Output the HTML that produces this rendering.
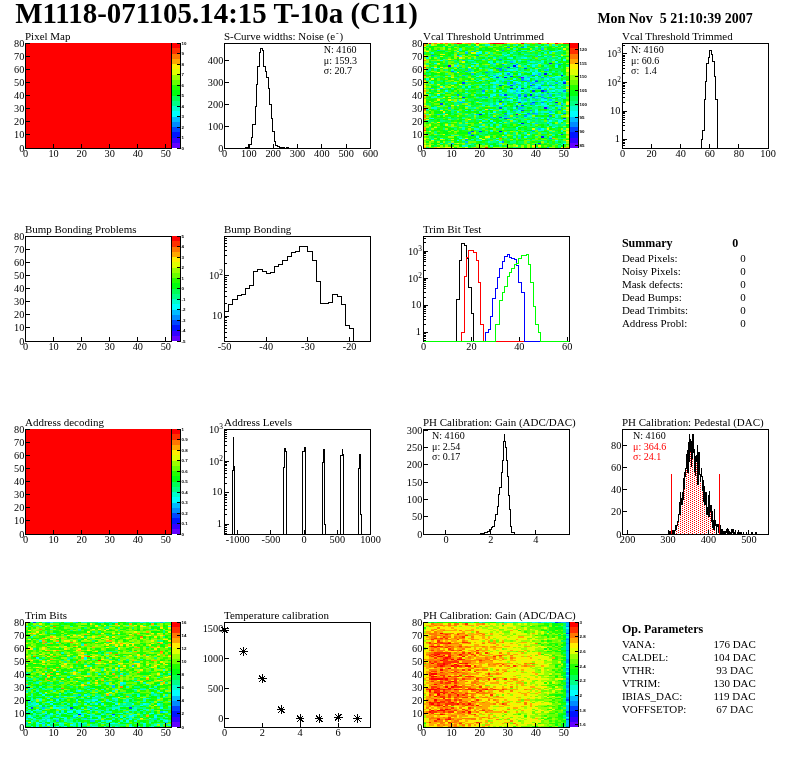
<!DOCTYPE html>
<html lang="en"><head><meta charset="utf-8"><title>M1118-071105.14:15 T-10a (C11)</title>
<style>html,body{margin:0;padding:0;background:#fff}body{width:796px;height:772px;overflow:hidden}svg{display:block}text{font-family:"Liberation Serif", "DejaVu Serif", serif;fill:#000;white-space:pre}</style>
</head><body>
<svg width="796" height="772" viewBox="0 0 796 772" fill="none" shape-rendering="crispEdges">
<rect width="796" height="772" fill="#fff"/>
<g transform="translate(25 148) scale(2.80769 -1.31250)" shape-rendering="crispEdges" stroke="none">
<rect x="0" y="0" width="52" height="80" fill="#ff0000"/>
</g>
<g shape-rendering="crispEdges" stroke="none">
<rect x="172" y="142.75" width="8.5" height="5.3" fill="#6300ff"/>
<rect x="172" y="137.5" width="8.5" height="5.3" fill="#3300ff"/>
<rect x="172" y="132.25" width="8.5" height="5.3" fill="#0014ff"/>
<rect x="172" y="127" width="8.5" height="5.3" fill="#0044ff"/>
<rect x="172" y="121.75" width="8.5" height="5.3" fill="#008bff"/>
<rect x="172" y="116.5" width="8.5" height="5.3" fill="#00bbff"/>
<rect x="172" y="111.25" width="8.5" height="5.3" fill="#00fffc"/>
<rect x="172" y="106" width="8.5" height="5.3" fill="#00ffcc"/>
<rect x="172" y="100.75" width="8.5" height="5.3" fill="#00ff85"/>
<rect x="172" y="95.5" width="8.5" height="5.3" fill="#00ff55"/>
<rect x="172" y="90.25" width="8.5" height="5.3" fill="#00ff0e"/>
<rect x="172" y="85" width="8.5" height="5.3" fill="#22ff00"/>
<rect x="172" y="79.75" width="8.5" height="5.3" fill="#69ff00"/>
<rect x="172" y="74.5" width="8.5" height="5.3" fill="#99ff00"/>
<rect x="172" y="69.25" width="8.5" height="5.3" fill="#e0ff00"/>
<rect x="172" y="64" width="8.5" height="5.3" fill="#ffee00"/>
<rect x="172" y="58.75" width="8.5" height="5.3" fill="#ffa700"/>
<rect x="172" y="53.5" width="8.5" height="5.3" fill="#ff7700"/>
<rect x="172" y="48.25" width="8.5" height="5.3" fill="#ff3000"/>
<rect x="172" y="43" width="8.5" height="5.3" fill="#ff0000"/>
</g>
<text x="181.5" y="149.6" font-size="4.4" font-weight="bold" style="font-family:&quot;Liberation Sans&quot;,sans-serif">0</text>
<text x="181.5" y="139.1" font-size="4.4" font-weight="bold" style="font-family:&quot;Liberation Sans&quot;,sans-serif">1</text>
<text x="181.5" y="128.6" font-size="4.4" font-weight="bold" style="font-family:&quot;Liberation Sans&quot;,sans-serif">2</text>
<text x="181.5" y="118.1" font-size="4.4" font-weight="bold" style="font-family:&quot;Liberation Sans&quot;,sans-serif">3</text>
<text x="181.5" y="107.6" font-size="4.4" font-weight="bold" style="font-family:&quot;Liberation Sans&quot;,sans-serif">4</text>
<text x="181.5" y="97.1" font-size="4.4" font-weight="bold" style="font-family:&quot;Liberation Sans&quot;,sans-serif">5</text>
<text x="181.5" y="86.6" font-size="4.4" font-weight="bold" style="font-family:&quot;Liberation Sans&quot;,sans-serif">6</text>
<text x="181.5" y="76.1" font-size="4.4" font-weight="bold" style="font-family:&quot;Liberation Sans&quot;,sans-serif">7</text>
<text x="181.5" y="65.6" font-size="4.4" font-weight="bold" style="font-family:&quot;Liberation Sans&quot;,sans-serif">8</text>
<text x="181.5" y="55.1" font-size="4.4" font-weight="bold" style="font-family:&quot;Liberation Sans&quot;,sans-serif">9</text>
<text x="181.5" y="44.6" font-size="4.4" font-weight="bold" style="font-family:&quot;Liberation Sans&quot;,sans-serif">10</text>
<path d="M180.5 43V148M180.5 148h-4M180.5 137.5h-4M180.5 127h-4M180.5 116.5h-4M180.5 106h-4M180.5 95.5h-4M180.5 85h-4M180.5 74.5h-4M180.5 64h-4M180.5 53.5h-4M180.5 43h-4" stroke="#000" stroke-width="1" fill="none"/>
<path d="M25.5 43V148.5H171.5V43" stroke="#000" stroke-width="1" fill="none"/>
<path d="M25.5 148.5v-4.5M53.58 148.5v-4.5M81.65 148.5v-4.5M109.73 148.5v-4.5M137.81 148.5v-4.5M165.88 148.5v-4.5" stroke="#000" stroke-width="1" fill="none"/>
<text x="25.5" y="157.1" font-size="10.3" text-anchor="middle">0</text>
<text x="53.58" y="157.1" font-size="10.3" text-anchor="middle">10</text>
<text x="81.65" y="157.1" font-size="10.3" text-anchor="middle">20</text>
<text x="109.73" y="157.1" font-size="10.3" text-anchor="middle">30</text>
<text x="137.81" y="157.1" font-size="10.3" text-anchor="middle">40</text>
<text x="165.88" y="157.1" font-size="10.3" text-anchor="middle">50</text>
<path d="M25.5 148.5h4.5M25.5 134.5h4.5M25.5 121.5h4.5M25.5 108.5h4.5M25.5 95.5h4.5M25.5 82.5h4.5M25.5 69.5h4.5M25.5 56.5h4.5M25.5 43.5h4.5" stroke="#000" stroke-width="1" fill="none"/>
<text x="24.3" y="151.9" font-size="10.3" text-anchor="end">0</text>
<text x="24.3" y="137.9" font-size="10.3" text-anchor="end">10</text>
<text x="24.3" y="124.9" font-size="10.3" text-anchor="end">20</text>
<text x="24.3" y="111.9" font-size="10.3" text-anchor="end">30</text>
<text x="24.3" y="98.9" font-size="10.3" text-anchor="end">40</text>
<text x="24.3" y="85.9" font-size="10.3" text-anchor="end">50</text>
<text x="24.3" y="72.9" font-size="10.3" text-anchor="end">60</text>
<text x="24.3" y="59.9" font-size="10.3" text-anchor="end">70</text>
<text x="24.3" y="46.9" font-size="10.3" text-anchor="end">80</text>
<text x="25" y="39.9" font-size="10.97">Pixel Map</text>
<rect x="224.5" y="43.5" width="146" height="105" fill="none" stroke="#000" stroke-width="1"/>
<path d="M224.5 148.5v-4.5M248.83 148.5v-4.5M273.17 148.5v-4.5M297.5 148.5v-4.5M321.83 148.5v-4.5M346.17 148.5v-4.5M370.5 148.5v-4.5" stroke="#000" stroke-width="1" fill="none"/>
<text x="224.5" y="157.1" font-size="10.3" text-anchor="middle">0</text>
<text x="248.83" y="157.1" font-size="10.3" text-anchor="middle">100</text>
<text x="273.17" y="157.1" font-size="10.3" text-anchor="middle">200</text>
<text x="297.5" y="157.1" font-size="10.3" text-anchor="middle">300</text>
<text x="321.83" y="157.1" font-size="10.3" text-anchor="middle">400</text>
<text x="346.17" y="157.1" font-size="10.3" text-anchor="middle">500</text>
<text x="370.5" y="157.1" font-size="10.3" text-anchor="middle">600</text>
<path d="M224.5 148.5h4.5M224.5 126.5h4.5M224.5 104.5h4.5M224.5 82.5h4.5M224.5 60.5h4.5" stroke="#000" stroke-width="1" fill="none"/>
<text x="223.3" y="151.9" font-size="10.3" text-anchor="end">0</text>
<text x="223.3" y="129.9" font-size="10.3" text-anchor="end">100</text>
<text x="223.3" y="107.9" font-size="10.3" text-anchor="end">200</text>
<text x="223.3" y="85.9" font-size="10.3" text-anchor="end">300</text>
<text x="223.3" y="63.9" font-size="10.3" text-anchor="end">400</text>
<path d="M245.95 148.5L245.95 147.83L249.66 147.83L249.66 144.7L251.37 144.7L251.37 137.15L252.79 137.15L252.79 124.33L255.36 124.33L255.36 106.95L256.21 106.95L256.21 84.44L257.64 84.44L257.64 66.35L259.63 66.35L259.63 52.54L260.48 52.54L260.48 48.26L262.76 48.26L262.76 50.26L263.76 50.26L263.76 66.35L265.61 66.35L265.61 71.05L266.61 71.05L266.61 77.46L268.46 77.46L268.46 88.43L269.6 88.43L269.6 104.39L271.6 104.39L271.6 118.35L272.45 118.35L272.45 131.17L274.44 131.17L274.44 141.42L275.58 141.42L275.58 145.13L277.44 145.13L277.44 146.55L279.15 146.55L279.15 147.55L284.84 147.55L284.84 148.26L286.98 148.26L286.98 147.12L288.4 147.12L288.4 148.26L289.83 148.26L289.83 148.5" stroke="#000" stroke-width="1" fill="none"/>
<text x="224" y="39.9" font-size="10.97">S-Curve widths: Noise (e<tspan dy="-4.2" dx="0.8" font-size="8">-</tspan><tspan dy="4.2" dx="0.8">)</tspan></text>
<text x="323.8" y="52.7" font-size="10.05">N: 4160</text>
<text x="323.8" y="63.7" font-size="10.05">μ: 159.3</text>
<text x="323.8" y="73.8" font-size="10.05">σ: 20.7</text>
<g transform="translate(423 148) scale(2.80769 -1.31250)" shape-rendering="crispEdges" stroke="none">
<rect x="0" y="0" width="52" height="80" fill="#00ff0e"/>
<path fill="#6300ff" d="M35 53h1v1h-1z"/>
<path fill="#3300ff" d="M33 25h1v1h-1zM43 30h1v1h-1zM9 62h1v1h-1zM45 64h1v1h-1z"/>
<path fill="#0014ff" d="M42 8h1v1h-1zM27 12h1v1h-1zM35 18h1v1h-1zM20 25h1v1h-1zM47 34h1v1h-1zM38 40h1v1h-1zM42 43h1v1h-1zM31 45h1v1h-1zM50 49h1v1h-1zM29 53h1v1h-1zM49 55h1v1h-1zM43 56h1v1h-1zM32 62h1v1h-1z"/>
<path fill="#0044ff" d="M41 3h1v1h-1zM17 9h1v1h-1zM49 10h1v1h-1zM17 12h1v1h-1zM20 12h1v1h-1zM29 22h1v1h-1zM50 22h1v1h-1zM27 23h1v1h-1zM35 28h1v1h-1zM27 30h1v1h-1zM33 31h1v1h-1zM35 32h1v1h-1zM6 33h1v1h-1zM34 34h1v1h-1zM39 34h1v1h-1zM27 35h1v1h-1zM14 38h1v1h-1zM36 39h1v1h-1zM29 40h1v1h-1zM39 43h1v1h-1zM35 45h1v1h-1zM41 45h1v1h-1zM27 47h1v1h-1zM31 47h1v1h-1zM38 47h1v1h-1zM14 49h1v1h-1zM40 50h1v1h-1zM26 53h1v1h-1zM31 54h1v1h-1zM36 60h1v1h-1zM30 61h1v1h-1z"/>
<path fill="#008bff" d="M28 4h1v1h-1zM15 6h1v1h-1zM45 7h1v1h-1zM16 11h1v1h-1zM44 21h1v1h-1zM30 22h1v1h-1zM33 23h1v1h-1zM36 24h1v1h-1zM45 24h1v1h-1zM29 26h1v1h-1zM37 26h1v1h-1zM39 26h1v1h-1zM50 26h1v1h-1zM38 28h1v1h-1zM48 29h1v1h-1zM38 33h1v1h-1zM42 34h1v1h-1zM29 37h1v1h-1zM43 37h1v1h-1zM22 38h1v1h-1zM39 38h1v1h-1zM42 38h1v1h-1zM34 39h1v1h-1zM40 39h1v1h-1zM12 40h1v1h-1zM34 40h1v1h-1zM36 40h1v1h-1zM44 41h1v1h-1zM21 43h1v1h-1zM43 43h1v1h-1zM50 43h1v1h-1zM39 47h1v1h-1zM45 47h1v1h-1zM35 51h1v1h-1zM40 51h1v1h-1zM35 52h1v1h-1zM34 53h1v1h-1zM42 53h1v1h-1zM39 55h1v1h-1zM30 56h1v1h-1zM22 57h1v1h-1zM10 58h1v1h-1zM27 59h1v1h-1zM26 60h2v1h-2zM33 61h1v1h-1zM28 63h1v1h-1zM33 63h1v1h-1zM48 63h1v1h-1zM27 67h1v1h-1zM3 70h1v1h-1zM12 70h1v1h-1zM19 70h1v1h-1zM28 74h1v1h-1zM30 76h1v1h-1zM35 76h1v1h-1z"/>
<path fill="#00bbff" d="M44 0h1v1h-1zM10 3h1v1h-1zM15 4h1v1h-1zM34 7h1v1h-1zM1 10h1v1h-1zM38 12h1v1h-1zM39 13h1v1h-1zM41 14h1v1h-1zM40 18h1v1h-1zM44 18h1v1h-1zM25 22h1v1h-1zM40 22h1v1h-1zM24 23h1v1h-1zM29 24h1v1h-1zM5 25h1v1h-1zM19 25h1v1h-1zM37 25h1v1h-1zM40 25h1v1h-1zM40 26h1v1h-1zM45 27h1v1h-1zM32 28h1v1h-1zM23 29h1v1h-1zM34 29h1v1h-1zM9 30h1v1h-1zM34 30h2v1h-2zM44 30h1v1h-1zM49 31h1v1h-1zM25 32h1v1h-1zM47 32h1v1h-1zM28 33h1v1h-1zM39 33h1v1h-1zM49 33h1v1h-1zM13 34h2v1h-2zM40 35h1v1h-1zM36 36h1v1h-1zM45 36h1v1h-1zM34 37h1v1h-1zM40 37h1v1h-1zM50 37h1v1h-1zM20 38h1v1h-1zM30 38h1v1h-1zM21 39h1v1h-1zM45 39h1v1h-1zM27 40h1v1h-1zM42 40h1v1h-1zM45 40h1v1h-1zM32 41h1v1h-1zM48 41h1v1h-1zM33 43h1v1h-1zM3 45h1v1h-1zM6 45h1v1h-1zM33 45h1v1h-1zM40 45h1v1h-1zM41 46h1v1h-1zM34 47h1v1h-1zM30 48h1v1h-1zM32 48h1v1h-1zM42 48h1v1h-1zM30 49h1v1h-1zM32 49h1v1h-1zM38 49h2v1h-2zM47 49h1v1h-1zM28 50h1v1h-1zM37 50h1v1h-1zM42 50h1v1h-1zM50 50h1v1h-1zM30 51h1v1h-1zM36 51h2v1h-2zM37 53h1v1h-1zM45 53h1v1h-1zM44 54h1v1h-1zM14 55h1v1h-1zM23 55h1v1h-1zM25 55h1v1h-1zM33 55h1v1h-1zM38 55h1v1h-1zM41 55h1v1h-1zM17 56h1v1h-1zM41 56h1v1h-1zM15 58h1v1h-1zM16 59h1v1h-1zM29 59h1v1h-1zM43 59h2v1h-2zM2 60h1v1h-1zM12 61h1v1h-1zM28 61h1v1h-1zM25 64h1v1h-1zM31 65h1v1h-1zM14 66h1v1h-1zM37 66h1v1h-1zM40 69h1v1h-1zM45 69h1v1h-1zM15 72h1v1h-1zM17 73h1v1h-1zM34 73h1v1h-1zM45 73h1v1h-1zM5 74h1v1h-1zM42 75h1v1h-1z"/>
<path fill="#00fffc" d="M50 3h1v1h-1zM27 4h1v1h-1zM12 5h1v1h-1zM26 5h1v1h-1zM47 5h1v1h-1zM6 7h1v1h-1zM13 7h1v1h-1zM26 7h1v1h-1zM19 8h1v1h-1zM36 8h1v1h-1zM29 11h1v1h-1zM24 13h1v1h-1zM42 14h1v1h-1zM33 15h1v1h-1zM46 15h1v1h-1zM20 16h1v1h-1zM34 18h1v1h-1zM25 19h1v1h-1zM27 19h1v1h-1zM37 19h1v1h-1zM44 19h1v1h-1zM24 20h1v1h-1zM45 20h1v1h-1zM48 20h2v1h-2zM20 21h1v1h-1zM50 21h1v1h-1zM3 22h1v1h-1zM42 22h1v1h-1zM44 22h1v1h-1zM49 25h1v1h-1zM21 26h1v1h-1zM30 26h1v1h-1zM36 26h1v1h-1zM45 26h2v1h-2zM12 27h1v1h-1zM25 27h1v1h-1zM40 27h1v1h-1zM15 28h1v1h-1zM27 28h1v1h-1zM34 28h1v1h-1zM40 28h1v1h-1zM50 28h1v1h-1zM24 29h1v1h-1zM32 30h1v1h-1zM15 31h1v1h-1zM21 32h1v1h-1zM27 32h2v1h-2zM36 32h1v1h-1zM40 32h1v1h-1zM43 32h2v1h-2zM26 33h1v1h-1zM33 33h1v1h-1zM42 33h1v1h-1zM20 34h1v1h-1zM36 35h1v1h-1zM45 35h1v1h-1zM14 36h1v1h-1zM28 36h1v1h-1zM31 36h1v1h-1zM34 36h1v1h-1zM42 36h2v1h-2zM32 37h1v1h-1zM34 38h1v1h-1zM37 38h1v1h-1zM40 38h1v1h-1zM46 38h1v1h-1zM24 39h1v1h-1zM30 39h1v1h-1zM48 39h1v1h-1zM5 40h1v1h-1zM25 40h1v1h-1zM28 40h1v1h-1zM21 41h1v1h-1zM38 41h1v1h-1zM40 41h1v1h-1zM15 42h1v1h-1zM33 42h3v1h-3zM41 42h1v1h-1zM8 43h1v1h-1zM25 43h1v1h-1zM27 43h1v1h-1zM31 43h1v1h-1zM46 43h1v1h-1zM5 44h1v1h-1zM15 44h1v1h-1zM33 44h1v1h-1zM38 44h1v1h-1zM44 44h1v1h-1zM47 44h1v1h-1zM50 44h1v1h-1zM34 45h1v1h-1zM38 45h1v1h-1zM42 45h1v1h-1zM44 45h1v1h-1zM16 46h1v1h-1zM25 46h1v1h-1zM34 46h1v1h-1zM40 46h1v1h-1zM45 46h2v1h-2zM36 47h1v1h-1zM41 47h1v1h-1zM21 48h1v1h-1zM28 48h1v1h-1zM38 48h1v1h-1zM40 48h2v1h-2zM25 49h1v1h-1zM34 49h1v1h-1zM36 49h1v1h-1zM44 49h1v1h-1zM26 50h1v1h-1zM32 50h2v1h-2zM39 50h1v1h-1zM48 50h1v1h-1zM20 51h1v1h-1zM31 51h1v1h-1zM50 51h1v1h-1zM32 52h1v1h-1zM37 52h1v1h-1zM44 52h1v1h-1zM24 53h1v1h-1zM46 53h1v1h-1zM19 54h1v1h-1zM25 54h1v1h-1zM29 54h1v1h-1zM40 54h1v1h-1zM47 54h2v1h-2zM21 55h1v1h-1zM26 55h1v1h-1zM27 56h1v1h-1zM34 56h1v1h-1zM39 56h1v1h-1zM30 57h1v1h-1zM39 57h1v1h-1zM40 58h1v1h-1zM24 59h1v1h-1zM31 59h1v1h-1zM20 60h1v1h-1zM33 60h1v1h-1zM44 60h1v1h-1zM31 61h1v1h-1zM47 61h1v1h-1zM11 62h1v1h-1zM17 62h1v1h-1zM33 62h1v1h-1zM39 62h1v1h-1zM47 62h1v1h-1zM29 63h1v1h-1zM37 63h1v1h-1zM40 63h1v1h-1zM4 64h1v1h-1zM18 64h1v1h-1zM41 64h1v1h-1zM23 65h1v1h-1zM47 65h1v1h-1zM6 66h1v1h-1zM34 66h1v1h-1zM50 66h1v1h-1zM50 67h1v1h-1zM31 68h1v1h-1zM36 68h1v1h-1zM13 69h1v1h-1zM43 69h1v1h-1zM29 70h1v1h-1zM41 70h1v1h-1zM30 71h1v1h-1zM19 72h2v1h-2zM20 73h1v1h-1zM38 73h1v1h-1zM46 73h1v1h-1zM48 74h1v1h-1zM36 76h1v1h-1zM23 78h1v1h-1z"/>
<path fill="#00ffcc" d="M14 1h2v1h-2zM24 1h1v1h-1zM16 2h1v1h-1zM27 2h1v1h-1zM49 2h1v1h-1zM6 3h1v1h-1zM23 4h1v1h-1zM14 5h1v1h-1zM19 5h2v1h-2zM3 6h1v1h-1zM17 6h1v1h-1zM23 7h1v1h-1zM29 8h1v1h-1zM32 8h1v1h-1zM45 8h1v1h-1zM10 9h1v1h-1zM34 9h1v1h-1zM37 9h1v1h-1zM46 9h1v1h-1zM48 10h1v1h-1zM36 11h1v1h-1zM24 12h1v1h-1zM33 12h1v1h-1zM45 12h1v1h-1zM49 12h1v1h-1zM41 13h2v1h-2zM49 13h1v1h-1zM14 14h1v1h-1zM18 14h2v1h-2zM33 14h1v1h-1zM14 15h1v1h-1zM17 15h1v1h-1zM26 15h1v1h-1zM21 16h1v1h-1zM26 16h1v1h-1zM34 16h1v1h-1zM44 16h1v1h-1zM47 16h1v1h-1zM24 17h1v1h-1zM27 17h1v1h-1zM45 17h1v1h-1zM20 18h1v1h-1zM39 18h1v1h-1zM45 18h1v1h-1zM15 19h1v1h-1zM48 19h1v1h-1zM21 20h1v1h-1zM32 20h1v1h-1zM37 20h1v1h-1zM23 21h1v1h-1zM31 21h1v1h-1zM47 21h2v1h-2zM2 22h1v1h-1zM14 22h1v1h-1zM38 22h1v1h-1zM46 22h1v1h-1zM9 23h1v1h-1zM28 23h1v1h-1zM32 23h1v1h-1zM36 23h1v1h-1zM40 23h1v1h-1zM44 23h1v1h-1zM47 23h1v1h-1zM37 24h2v1h-2zM47 24h1v1h-1zM1 25h1v1h-1zM7 25h1v1h-1zM18 25h1v1h-1zM30 25h1v1h-1zM42 25h1v1h-1zM44 25h1v1h-1zM47 25h2v1h-2zM7 26h1v1h-1zM23 26h2v1h-2zM31 26h1v1h-1zM35 26h1v1h-1zM20 27h1v1h-1zM30 27h1v1h-1zM33 27h2v1h-2zM38 27h1v1h-1zM42 27h3v1h-3zM17 28h1v1h-1zM21 28h1v1h-1zM30 28h1v1h-1zM46 28h1v1h-1zM1 29h1v1h-1zM6 29h1v1h-1zM29 29h1v1h-1zM40 29h1v1h-1zM45 29h1v1h-1zM3 30h2v1h-2zM18 30h1v1h-1zM29 30h1v1h-1zM46 30h1v1h-1zM48 30h1v1h-1zM16 31h1v1h-1zM24 31h1v1h-1zM38 31h1v1h-1zM43 31h1v1h-1zM47 31h2v1h-2zM7 32h1v1h-1zM24 32h1v1h-1zM34 32h1v1h-1zM41 32h2v1h-2zM48 32h1v1h-1zM24 33h1v1h-1zM29 33h1v1h-1zM43 33h1v1h-1zM45 33h1v1h-1zM26 34h1v1h-1zM31 34h1v1h-1zM35 34h1v1h-1zM49 34h1v1h-1zM10 35h1v1h-1zM12 35h2v1h-2zM19 35h1v1h-1zM33 35h3v1h-3zM38 35h2v1h-2zM41 35h1v1h-1zM44 35h1v1h-1zM30 36h1v1h-1zM38 36h1v1h-1zM46 36h1v1h-1zM21 37h1v1h-1zM38 37h1v1h-1zM42 37h1v1h-1zM48 37h1v1h-1zM3 38h2v1h-2zM19 38h1v1h-1zM31 38h1v1h-1zM38 38h1v1h-1zM41 38h1v1h-1zM49 38h2v1h-2zM4 39h1v1h-1zM10 39h1v1h-1zM31 39h1v1h-1zM35 39h1v1h-1zM44 39h1v1h-1zM47 39h1v1h-1zM50 39h1v1h-1zM2 40h1v1h-1zM18 40h1v1h-1zM24 40h1v1h-1zM33 40h1v1h-1zM40 40h1v1h-1zM7 41h1v1h-1zM27 41h1v1h-1zM34 41h1v1h-1zM41 41h1v1h-1zM43 41h1v1h-1zM45 41h3v1h-3zM21 42h1v1h-1zM28 42h1v1h-1zM31 42h1v1h-1zM37 42h1v1h-1zM50 42h1v1h-1zM30 43h1v1h-1zM32 43h1v1h-1zM34 43h1v1h-1zM36 43h1v1h-1zM45 43h1v1h-1zM48 43h2v1h-2zM22 44h1v1h-1zM24 44h2v1h-2zM30 44h2v1h-2zM34 44h3v1h-3zM39 44h1v1h-1zM42 44h1v1h-1zM48 44h2v1h-2zM10 45h1v1h-1zM46 45h1v1h-1zM7 46h1v1h-1zM14 46h1v1h-1zM20 46h1v1h-1zM32 46h1v1h-1zM36 46h1v1h-1zM39 46h1v1h-1zM42 46h2v1h-2zM48 46h1v1h-1zM25 47h1v1h-1zM30 47h1v1h-1zM33 47h1v1h-1zM40 47h1v1h-1zM49 47h1v1h-1zM51 47h1v1h-1zM27 48h1v1h-1zM31 48h1v1h-1zM36 48h1v1h-1zM44 48h1v1h-1zM46 48h1v1h-1zM48 48h1v1h-1zM3 49h1v1h-1zM11 49h1v1h-1zM24 49h1v1h-1zM26 49h1v1h-1zM33 49h1v1h-1zM42 49h1v1h-1zM49 49h1v1h-1zM2 50h2v1h-2zM19 50h1v1h-1zM43 50h1v1h-1zM45 50h2v1h-2zM49 50h1v1h-1zM15 51h1v1h-1zM18 51h1v1h-1zM26 51h1v1h-1zM28 51h1v1h-1zM1 52h1v1h-1zM22 52h1v1h-1zM27 52h2v1h-2zM36 52h1v1h-1zM40 52h1v1h-1zM43 52h1v1h-1zM47 52h1v1h-1zM25 53h1v1h-1zM27 53h1v1h-1zM36 53h1v1h-1zM38 53h3v1h-3zM47 53h2v1h-2zM9 54h1v1h-1zM30 54h1v1h-1zM35 54h2v1h-2zM42 54h1v1h-1zM20 55h1v1h-1zM24 55h1v1h-1zM31 55h1v1h-1zM34 55h1v1h-1zM36 55h1v1h-1zM26 56h1v1h-1zM29 56h1v1h-1zM31 56h1v1h-1zM40 56h1v1h-1zM45 56h1v1h-1zM49 56h1v1h-1zM29 57h1v1h-1zM37 57h1v1h-1zM40 57h2v1h-2zM44 57h1v1h-1zM11 58h1v1h-1zM17 58h1v1h-1zM34 58h1v1h-1zM36 58h1v1h-1zM38 58h1v1h-1zM46 58h1v1h-1zM10 59h1v1h-1zM23 59h1v1h-1zM30 59h1v1h-1zM32 59h2v1h-2zM38 59h1v1h-1zM40 59h1v1h-1zM4 60h2v1h-2zM16 60h1v1h-1zM41 60h1v1h-1zM3 61h1v1h-1zM19 62h1v1h-1zM36 62h1v1h-1zM43 62h1v1h-1zM12 63h1v1h-1zM25 63h1v1h-1zM32 63h1v1h-1zM34 63h1v1h-1zM39 63h1v1h-1zM47 63h1v1h-1zM12 64h1v1h-1zM17 64h1v1h-1zM19 64h1v1h-1zM24 64h1v1h-1zM33 64h1v1h-1zM49 64h1v1h-1zM24 65h1v1h-1zM26 65h1v1h-1zM28 65h1v1h-1zM32 65h1v1h-1zM38 65h2v1h-2zM42 65h1v1h-1zM16 66h2v1h-2zM30 66h1v1h-1zM32 66h1v1h-1zM42 66h1v1h-1zM46 66h1v1h-1zM7 67h1v1h-1zM21 67h1v1h-1zM44 67h1v1h-1zM46 67h1v1h-1zM1 68h1v1h-1zM25 68h1v1h-1zM30 68h1v1h-1zM35 68h1v1h-1zM48 68h1v1h-1zM23 69h1v1h-1zM47 69h1v1h-1zM49 69h1v1h-1zM13 70h1v1h-1zM32 70h1v1h-1zM28 71h1v1h-1zM36 71h1v1h-1zM3 72h1v1h-1zM22 72h1v1h-1zM31 72h1v1h-1zM43 72h1v1h-1zM45 72h1v1h-1zM15 73h1v1h-1zM32 73h1v1h-1zM42 73h1v1h-1zM47 73h1v1h-1zM13 74h1v1h-1zM35 74h2v1h-2zM39 74h1v1h-1zM13 75h1v1h-1zM32 75h1v1h-1zM40 76h1v1h-1zM7 77h1v1h-1zM18 77h1v1h-1zM24 77h1v1h-1zM36 77h1v1h-1zM42 77h1v1h-1zM47 77h1v1h-1zM22 78h1v1h-1zM33 78h1v1h-1zM36 78h1v1h-1zM44 78h1v1h-1zM46 78h1v1h-1z"/>
<path fill="#00ff85" d="M32 0h1v1h-1zM40 0h1v1h-1zM27 1h1v1h-1zM48 1h1v1h-1zM9 2h1v1h-1zM15 2h1v1h-1zM17 2h1v1h-1zM21 2h1v1h-1zM26 2h1v1h-1zM18 3h1v1h-1zM40 3h1v1h-1zM48 3h1v1h-1zM9 4h1v1h-1zM24 4h2v1h-2zM31 4h2v1h-2zM37 4h1v1h-1zM43 4h1v1h-1zM47 4h1v1h-1zM50 4h1v1h-1zM16 5h1v1h-1zM25 5h1v1h-1zM32 5h1v1h-1zM41 5h1v1h-1zM9 6h1v1h-1zM19 6h2v1h-2zM25 6h1v1h-1zM30 6h1v1h-1zM37 6h1v1h-1zM39 6h1v1h-1zM2 7h1v1h-1zM14 7h1v1h-1zM48 7h3v1h-3zM2 8h1v1h-1zM12 8h2v1h-2zM28 8h1v1h-1zM34 8h1v1h-1zM40 8h1v1h-1zM43 8h1v1h-1zM16 9h1v1h-1zM19 9h1v1h-1zM41 9h1v1h-1zM5 10h1v1h-1zM16 10h1v1h-1zM20 10h1v1h-1zM29 10h1v1h-1zM32 10h1v1h-1zM34 10h1v1h-1zM36 10h1v1h-1zM38 10h1v1h-1zM46 10h1v1h-1zM4 11h1v1h-1zM22 11h1v1h-1zM32 11h1v1h-1zM38 11h2v1h-2zM42 11h2v1h-2zM50 11h1v1h-1zM4 12h1v1h-1zM22 12h1v1h-1zM30 12h1v1h-1zM37 12h1v1h-1zM2 13h1v1h-1zM20 13h1v1h-1zM35 13h1v1h-1zM44 13h1v1h-1zM46 13h1v1h-1zM7 14h1v1h-1zM11 14h1v1h-1zM40 14h1v1h-1zM43 14h1v1h-1zM50 14h1v1h-1zM10 15h1v1h-1zM20 15h1v1h-1zM27 15h1v1h-1zM40 15h1v1h-1zM24 16h1v1h-1zM27 16h1v1h-1zM37 16h3v1h-3zM41 16h1v1h-1zM46 16h1v1h-1zM9 17h1v1h-1zM13 17h3v1h-3zM22 17h1v1h-1zM35 17h3v1h-3zM39 17h1v1h-1zM46 17h2v1h-2zM49 17h2v1h-2zM21 18h1v1h-1zM23 18h1v1h-1zM25 18h1v1h-1zM28 18h3v1h-3zM41 18h1v1h-1zM43 18h1v1h-1zM48 18h1v1h-1zM50 18h1v1h-1zM9 19h1v1h-1zM30 19h1v1h-1zM40 19h1v1h-1zM50 19h1v1h-1zM1 20h1v1h-1zM6 20h2v1h-2zM14 20h1v1h-1zM22 20h1v1h-1zM28 20h2v1h-2zM33 20h1v1h-1zM35 20h1v1h-1zM38 20h1v1h-1zM40 20h1v1h-1zM42 20h1v1h-1zM44 20h1v1h-1zM46 20h1v1h-1zM10 21h1v1h-1zM19 21h1v1h-1zM27 21h1v1h-1zM35 21h1v1h-1zM39 21h2v1h-2zM45 21h2v1h-2zM49 21h1v1h-1zM9 22h1v1h-1zM12 22h1v1h-1zM17 22h1v1h-1zM21 22h1v1h-1zM27 22h2v1h-2zM32 22h1v1h-1zM34 22h3v1h-3zM2 23h1v1h-1zM14 23h1v1h-1zM29 23h2v1h-2zM34 23h1v1h-1zM37 23h3v1h-3zM41 23h2v1h-2zM16 24h1v1h-1zM19 24h1v1h-1zM23 24h1v1h-1zM30 24h1v1h-1zM6 25h1v1h-1zM10 25h1v1h-1zM16 25h1v1h-1zM23 25h1v1h-1zM28 25h1v1h-1zM31 25h1v1h-1zM39 25h1v1h-1zM41 25h1v1h-1zM15 26h1v1h-1zM17 26h1v1h-1zM27 26h1v1h-1zM34 26h1v1h-1zM42 26h1v1h-1zM10 27h1v1h-1zM23 27h1v1h-1zM36 27h1v1h-1zM41 27h1v1h-1zM46 27h1v1h-1zM50 27h1v1h-1zM10 28h2v1h-2zM28 28h2v1h-2zM33 28h1v1h-1zM44 28h1v1h-1zM4 29h1v1h-1zM10 29h1v1h-1zM25 29h1v1h-1zM33 29h1v1h-1zM35 29h2v1h-2zM38 29h1v1h-1zM16 30h2v1h-2zM26 30h1v1h-1zM28 30h1v1h-1zM36 30h1v1h-1zM39 30h2v1h-2zM42 30h1v1h-1zM45 30h1v1h-1zM50 30h1v1h-1zM4 31h1v1h-1zM7 31h1v1h-1zM12 31h1v1h-1zM21 31h1v1h-1zM25 31h3v1h-3zM30 31h1v1h-1zM32 31h1v1h-1zM34 31h1v1h-1zM37 31h1v1h-1zM39 31h2v1h-2zM42 31h1v1h-1zM44 31h2v1h-2zM2 32h1v1h-1zM11 32h1v1h-1zM20 32h1v1h-1zM23 32h1v1h-1zM32 32h1v1h-1zM37 32h1v1h-1zM50 32h1v1h-1zM11 33h2v1h-2zM16 33h1v1h-1zM21 33h3v1h-3zM35 33h1v1h-1zM37 33h1v1h-1zM41 33h1v1h-1zM46 33h1v1h-1zM50 33h1v1h-1zM8 34h1v1h-1zM11 34h1v1h-1zM15 34h1v1h-1zM21 34h2v1h-2zM24 34h1v1h-1zM29 34h1v1h-1zM36 34h1v1h-1zM41 34h1v1h-1zM43 34h2v1h-2zM6 35h1v1h-1zM24 35h1v1h-1zM26 35h1v1h-1zM31 35h2v1h-2zM37 35h1v1h-1zM42 35h1v1h-1zM48 35h2v1h-2zM7 36h1v1h-1zM12 36h1v1h-1zM16 36h1v1h-1zM24 36h1v1h-1zM26 36h1v1h-1zM29 36h1v1h-1zM35 36h1v1h-1zM39 36h1v1h-1zM41 36h1v1h-1zM44 36h1v1h-1zM48 36h2v1h-2zM10 37h1v1h-1zM22 37h2v1h-2zM36 37h1v1h-1zM41 37h1v1h-1zM45 37h1v1h-1zM5 38h2v1h-2zM12 38h1v1h-1zM24 38h1v1h-1zM27 38h1v1h-1zM32 38h1v1h-1zM35 38h1v1h-1zM43 38h1v1h-1zM7 39h1v1h-1zM11 39h1v1h-1zM22 39h1v1h-1zM28 39h2v1h-2zM32 39h2v1h-2zM37 39h1v1h-1zM42 39h2v1h-2zM15 40h1v1h-1zM32 40h1v1h-1zM35 40h1v1h-1zM41 40h1v1h-1zM43 40h2v1h-2zM47 40h2v1h-2zM50 40h1v1h-1zM6 41h1v1h-1zM11 41h1v1h-1zM14 41h1v1h-1zM16 41h1v1h-1zM19 41h1v1h-1zM23 41h1v1h-1zM25 41h2v1h-2zM29 41h3v1h-3zM33 41h1v1h-1zM36 41h1v1h-1zM39 41h1v1h-1zM42 41h1v1h-1zM50 41h1v1h-1zM1 42h1v1h-1zM9 42h1v1h-1zM19 42h1v1h-1zM30 42h1v1h-1zM32 42h1v1h-1zM36 42h1v1h-1zM39 42h2v1h-2zM43 42h1v1h-1zM45 42h1v1h-1zM47 42h1v1h-1zM49 42h1v1h-1zM37 43h1v1h-1zM44 43h1v1h-1zM47 43h1v1h-1zM37 44h1v1h-1zM40 44h2v1h-2zM1 45h1v1h-1zM8 45h1v1h-1zM13 45h1v1h-1zM19 45h1v1h-1zM21 45h1v1h-1zM25 45h1v1h-1zM29 45h2v1h-2zM37 45h1v1h-1zM43 45h1v1h-1zM49 45h1v1h-1zM22 46h1v1h-1zM24 46h1v1h-1zM38 46h1v1h-1zM44 46h1v1h-1zM2 47h1v1h-1zM6 47h1v1h-1zM13 47h2v1h-2zM16 47h2v1h-2zM20 47h1v1h-1zM26 47h1v1h-1zM32 47h1v1h-1zM48 47h1v1h-1zM15 48h1v1h-1zM18 48h3v1h-3zM23 48h1v1h-1zM25 48h1v1h-1zM29 48h1v1h-1zM34 48h2v1h-2zM37 48h1v1h-1zM45 48h1v1h-1zM49 48h2v1h-2zM8 49h1v1h-1zM10 49h1v1h-1zM15 49h1v1h-1zM27 49h1v1h-1zM40 49h2v1h-2zM45 49h2v1h-2zM48 49h1v1h-1zM6 50h1v1h-1zM1 51h1v1h-1zM21 51h1v1h-1zM27 51h1v1h-1zM29 51h1v1h-1zM39 51h1v1h-1zM43 51h3v1h-3zM47 51h2v1h-2zM12 52h1v1h-1zM19 52h1v1h-1zM23 52h1v1h-1zM25 52h2v1h-2zM29 52h1v1h-1zM41 52h1v1h-1zM45 52h1v1h-1zM48 52h1v1h-1zM4 53h1v1h-1zM7 53h1v1h-1zM11 53h1v1h-1zM18 53h1v1h-1zM21 53h1v1h-1zM30 53h1v1h-1zM41 53h1v1h-1zM43 53h2v1h-2zM49 53h1v1h-1zM5 54h1v1h-1zM15 54h1v1h-1zM23 54h1v1h-1zM27 54h1v1h-1zM37 54h2v1h-2zM50 54h1v1h-1zM4 55h1v1h-1zM15 55h1v1h-1zM18 55h1v1h-1zM28 55h1v1h-1zM50 55h1v1h-1zM2 56h1v1h-1zM8 56h1v1h-1zM19 56h2v1h-2zM24 56h2v1h-2zM42 56h1v1h-1zM11 57h1v1h-1zM16 57h1v1h-1zM20 57h1v1h-1zM24 57h1v1h-1zM27 57h1v1h-1zM43 57h1v1h-1zM46 57h1v1h-1zM48 57h2v1h-2zM1 58h1v1h-1zM24 58h1v1h-1zM35 58h1v1h-1zM37 58h1v1h-1zM48 58h1v1h-1zM1 59h2v1h-2zM4 59h1v1h-1zM8 59h1v1h-1zM17 59h1v1h-1zM35 59h1v1h-1zM39 59h1v1h-1zM13 60h2v1h-2zM22 60h2v1h-2zM28 60h2v1h-2zM32 60h1v1h-1zM35 60h1v1h-1zM38 60h1v1h-1zM7 61h1v1h-1zM18 61h1v1h-1zM26 61h1v1h-1zM32 61h1v1h-1zM36 61h2v1h-2zM39 61h1v1h-1zM44 61h1v1h-1zM49 61h1v1h-1zM13 62h1v1h-1zM22 62h1v1h-1zM25 62h1v1h-1zM31 62h1v1h-1zM35 62h1v1h-1zM38 62h1v1h-1zM40 62h1v1h-1zM44 62h1v1h-1zM51 62h1v1h-1zM1 63h1v1h-1zM11 63h1v1h-1zM15 63h1v1h-1zM31 63h1v1h-1zM38 63h1v1h-1zM42 63h2v1h-2zM45 63h1v1h-1zM1 64h1v1h-1zM30 64h1v1h-1zM42 64h1v1h-1zM48 64h1v1h-1zM18 65h1v1h-1zM27 65h1v1h-1zM34 65h1v1h-1zM37 65h1v1h-1zM40 65h2v1h-2zM44 65h1v1h-1zM8 66h1v1h-1zM11 66h1v1h-1zM24 66h1v1h-1zM28 66h2v1h-2zM31 66h1v1h-1zM35 66h1v1h-1zM44 66h1v1h-1zM48 66h1v1h-1zM13 67h1v1h-1zM18 67h2v1h-2zM34 67h1v1h-1zM39 67h1v1h-1zM41 67h1v1h-1zM47 67h1v1h-1zM5 68h1v1h-1zM22 68h1v1h-1zM27 68h1v1h-1zM33 68h2v1h-2zM37 68h2v1h-2zM41 68h2v1h-2zM44 68h2v1h-2zM2 69h1v1h-1zM20 69h2v1h-2zM24 69h1v1h-1zM27 69h2v1h-2zM33 69h1v1h-1zM35 69h1v1h-1zM23 70h1v1h-1zM30 70h1v1h-1zM33 70h1v1h-1zM44 70h1v1h-1zM48 70h1v1h-1zM16 71h1v1h-1zM19 71h1v1h-1zM21 71h1v1h-1zM24 71h1v1h-1zM29 71h1v1h-1zM37 71h3v1h-3zM41 71h1v1h-1zM47 71h1v1h-1zM50 71h1v1h-1zM12 72h1v1h-1zM24 72h1v1h-1zM28 72h2v1h-2zM35 72h1v1h-1zM41 72h1v1h-1zM2 73h1v1h-1zM8 73h1v1h-1zM11 73h1v1h-1zM23 73h1v1h-1zM27 73h1v1h-1zM31 74h1v1h-1zM43 74h2v1h-2zM47 74h1v1h-1zM49 74h1v1h-1zM40 75h1v1h-1zM19 76h1v1h-1zM34 76h1v1h-1zM42 76h1v1h-1zM49 76h1v1h-1zM15 77h1v1h-1zM19 77h1v1h-1zM2 78h1v1h-1zM30 78h1v1h-1zM32 78h1v1h-1zM37 78h1v1h-1zM41 78h1v1h-1zM43 78h1v1h-1z"/>
<path fill="#00ff55" d="M1 0h1v1h-1zM16 0h1v1h-1zM33 0h1v1h-1zM48 0h1v1h-1zM4 1h1v1h-1zM17 1h2v1h-2zM29 1h1v1h-1zM34 1h1v1h-1zM10 2h1v1h-1zM23 2h1v1h-1zM33 2h1v1h-1zM36 2h1v1h-1zM39 2h1v1h-1zM46 2h1v1h-1zM8 3h1v1h-1zM15 3h1v1h-1zM17 3h1v1h-1zM20 3h2v1h-2zM23 3h2v1h-2zM26 3h1v1h-1zM30 3h3v1h-3zM34 3h2v1h-2zM45 3h1v1h-1zM47 3h1v1h-1zM49 3h1v1h-1zM8 4h1v1h-1zM14 4h1v1h-1zM22 4h1v1h-1zM26 4h1v1h-1zM34 4h2v1h-2zM45 4h1v1h-1zM49 4h1v1h-1zM4 5h2v1h-2zM17 5h1v1h-1zM23 5h1v1h-1zM28 5h1v1h-1zM30 5h1v1h-1zM38 5h1v1h-1zM40 5h1v1h-1zM42 5h2v1h-2zM48 5h2v1h-2zM12 6h1v1h-1zM22 6h2v1h-2zM29 6h1v1h-1zM35 6h1v1h-1zM44 6h3v1h-3zM3 7h1v1h-1zM7 7h2v1h-2zM18 7h2v1h-2zM24 7h1v1h-1zM30 7h1v1h-1zM32 7h1v1h-1zM44 7h1v1h-1zM3 8h1v1h-1zM5 8h1v1h-1zM37 8h2v1h-2zM48 8h1v1h-1zM4 9h1v1h-1zM8 9h1v1h-1zM18 9h1v1h-1zM21 9h2v1h-2zM24 9h1v1h-1zM32 9h2v1h-2zM38 9h1v1h-1zM42 9h2v1h-2zM9 10h1v1h-1zM11 10h2v1h-2zM18 10h1v1h-1zM21 10h1v1h-1zM23 10h1v1h-1zM31 10h1v1h-1zM20 11h2v1h-2zM27 11h1v1h-1zM30 11h1v1h-1zM35 11h1v1h-1zM40 11h1v1h-1zM45 11h3v1h-3zM16 12h1v1h-1zM19 12h1v1h-1zM28 12h1v1h-1zM41 12h1v1h-1zM47 12h1v1h-1zM8 13h1v1h-1zM15 13h1v1h-1zM19 13h1v1h-1zM23 13h1v1h-1zM26 13h1v1h-1zM32 13h1v1h-1zM36 13h1v1h-1zM2 14h1v1h-1zM13 14h1v1h-1zM20 14h1v1h-1zM22 14h1v1h-1zM27 14h1v1h-1zM29 14h4v1h-4zM35 14h1v1h-1zM37 14h2v1h-2zM47 14h1v1h-1zM2 15h1v1h-1zM5 15h1v1h-1zM7 15h1v1h-1zM11 15h1v1h-1zM15 15h1v1h-1zM18 15h1v1h-1zM21 15h1v1h-1zM23 15h1v1h-1zM37 15h1v1h-1zM41 15h1v1h-1zM47 15h1v1h-1zM50 15h1v1h-1zM13 16h2v1h-2zM30 16h2v1h-2zM43 16h1v1h-1zM48 16h2v1h-2zM7 17h1v1h-1zM12 17h1v1h-1zM18 17h3v1h-3zM30 17h1v1h-1zM43 17h1v1h-1zM48 17h1v1h-1zM12 18h1v1h-1zM14 18h1v1h-1zM22 18h1v1h-1zM24 18h1v1h-1zM26 18h1v1h-1zM32 18h2v1h-2zM36 18h1v1h-1zM38 18h1v1h-1zM42 18h1v1h-1zM2 19h1v1h-1zM4 19h1v1h-1zM6 19h1v1h-1zM12 19h1v1h-1zM14 19h1v1h-1zM23 19h1v1h-1zM31 19h4v1h-4zM41 19h3v1h-3zM45 19h1v1h-1zM2 20h2v1h-2zM8 20h2v1h-2zM16 20h2v1h-2zM19 20h1v1h-1zM30 20h1v1h-1zM36 20h1v1h-1zM39 20h1v1h-1zM41 20h1v1h-1zM47 20h1v1h-1zM4 21h1v1h-1zM6 21h1v1h-1zM11 21h1v1h-1zM28 21h1v1h-1zM33 21h2v1h-2zM38 21h1v1h-1zM41 21h1v1h-1zM5 22h2v1h-2zM10 22h2v1h-2zM19 22h1v1h-1zM22 22h3v1h-3zM31 22h1v1h-1zM37 22h1v1h-1zM41 22h1v1h-1zM45 22h1v1h-1zM47 22h2v1h-2zM8 23h1v1h-1zM11 23h1v1h-1zM15 23h1v1h-1zM17 23h1v1h-1zM19 23h1v1h-1zM26 23h1v1h-1zM31 23h1v1h-1zM43 23h1v1h-1zM45 23h1v1h-1zM48 23h1v1h-1zM15 24h1v1h-1zM17 24h1v1h-1zM24 24h1v1h-1zM26 24h3v1h-3zM32 24h4v1h-4zM48 24h1v1h-1zM4 25h1v1h-1zM12 25h1v1h-1zM14 25h1v1h-1zM17 25h1v1h-1zM21 25h1v1h-1zM25 25h1v1h-1zM38 25h1v1h-1zM43 25h1v1h-1zM10 26h2v1h-2zM14 26h1v1h-1zM26 26h1v1h-1zM32 26h1v1h-1zM38 26h1v1h-1zM41 26h1v1h-1zM8 27h1v1h-1zM13 27h1v1h-1zM26 27h2v1h-2zM31 27h2v1h-2zM37 27h1v1h-1zM39 27h1v1h-1zM49 27h1v1h-1zM1 28h1v1h-1zM5 28h1v1h-1zM19 28h1v1h-1zM39 28h1v1h-1zM42 28h1v1h-1zM45 28h1v1h-1zM47 28h2v1h-2zM7 29h1v1h-1zM9 29h1v1h-1zM14 29h1v1h-1zM17 29h1v1h-1zM19 29h1v1h-1zM21 29h1v1h-1zM26 29h1v1h-1zM30 29h1v1h-1zM32 29h1v1h-1zM37 29h1v1h-1zM39 29h1v1h-1zM44 29h1v1h-1zM46 29h2v1h-2zM5 30h2v1h-2zM12 30h1v1h-1zM20 30h1v1h-1zM30 30h2v1h-2zM41 30h1v1h-1zM18 31h2v1h-2zM28 31h1v1h-1zM36 31h1v1h-1zM46 31h1v1h-1zM8 32h1v1h-1zM15 32h1v1h-1zM17 32h1v1h-1zM19 32h1v1h-1zM26 32h1v1h-1zM39 32h1v1h-1zM1 33h2v1h-2zM9 33h1v1h-1zM13 33h1v1h-1zM18 33h1v1h-1zM25 33h1v1h-1zM32 33h1v1h-1zM40 33h1v1h-1zM47 33h1v1h-1zM12 34h1v1h-1zM18 34h1v1h-1zM23 34h1v1h-1zM25 34h1v1h-1zM30 34h1v1h-1zM37 34h2v1h-2zM45 34h2v1h-2zM8 35h1v1h-1zM14 35h1v1h-1zM18 35h1v1h-1zM21 35h1v1h-1zM23 35h1v1h-1zM29 35h1v1h-1zM46 35h1v1h-1zM6 36h1v1h-1zM17 36h1v1h-1zM20 36h1v1h-1zM23 36h1v1h-1zM33 36h1v1h-1zM37 36h1v1h-1zM40 36h1v1h-1zM47 36h1v1h-1zM1 37h1v1h-1zM3 37h1v1h-1zM16 37h2v1h-2zM19 37h2v1h-2zM24 37h1v1h-1zM27 37h2v1h-2zM33 37h1v1h-1zM35 37h1v1h-1zM37 37h1v1h-1zM39 37h1v1h-1zM44 37h1v1h-1zM49 37h1v1h-1zM10 38h1v1h-1zM21 38h1v1h-1zM26 38h1v1h-1zM47 38h2v1h-2zM2 39h1v1h-1zM6 39h1v1h-1zM14 39h2v1h-2zM18 39h2v1h-2zM25 39h1v1h-1zM27 39h1v1h-1zM38 39h2v1h-2zM46 39h1v1h-1zM49 39h1v1h-1zM3 40h1v1h-1zM14 40h1v1h-1zM30 40h2v1h-2zM39 40h1v1h-1zM49 40h1v1h-1zM20 41h1v1h-1zM24 41h1v1h-1zM28 41h1v1h-1zM37 41h1v1h-1zM49 41h1v1h-1zM4 42h1v1h-1zM7 42h1v1h-1zM11 42h1v1h-1zM13 42h1v1h-1zM16 42h1v1h-1zM20 42h1v1h-1zM25 42h1v1h-1zM27 42h1v1h-1zM29 42h1v1h-1zM48 42h1v1h-1zM51 42h1v1h-1zM3 43h1v1h-1zM7 43h1v1h-1zM9 43h1v1h-1zM15 43h1v1h-1zM19 43h2v1h-2zM23 43h1v1h-1zM4 44h1v1h-1zM8 44h1v1h-1zM10 44h1v1h-1zM16 44h1v1h-1zM21 44h1v1h-1zM23 44h1v1h-1zM26 44h1v1h-1zM28 44h1v1h-1zM45 44h2v1h-2zM51 44h1v1h-1zM2 45h1v1h-1zM14 45h5v1h-5zM22 45h1v1h-1zM24 45h1v1h-1zM32 45h1v1h-1zM39 45h1v1h-1zM47 45h2v1h-2zM5 46h1v1h-1zM12 46h1v1h-1zM21 46h1v1h-1zM26 46h1v1h-1zM31 46h1v1h-1zM35 46h1v1h-1zM47 46h1v1h-1zM49 46h2v1h-2zM4 47h1v1h-1zM18 47h1v1h-1zM22 47h1v1h-1zM24 47h1v1h-1zM35 47h1v1h-1zM37 47h1v1h-1zM47 47h1v1h-1zM50 47h1v1h-1zM1 48h1v1h-1zM4 48h1v1h-1zM7 48h2v1h-2zM10 48h1v1h-1zM43 48h1v1h-1zM2 49h1v1h-1zM5 49h1v1h-1zM9 49h1v1h-1zM16 49h1v1h-1zM21 49h2v1h-2zM28 49h1v1h-1zM35 49h1v1h-1zM37 49h1v1h-1zM43 49h1v1h-1zM5 50h1v1h-1zM14 50h1v1h-1zM22 50h1v1h-1zM25 50h1v1h-1zM27 50h1v1h-1zM30 50h1v1h-1zM34 50h1v1h-1zM38 50h1v1h-1zM41 50h1v1h-1zM44 50h1v1h-1zM6 51h1v1h-1zM8 51h1v1h-1zM17 51h1v1h-1zM24 51h1v1h-1zM34 51h1v1h-1zM41 51h2v1h-2zM20 52h1v1h-1zM30 52h1v1h-1zM33 52h1v1h-1zM39 52h1v1h-1zM42 52h1v1h-1zM46 52h1v1h-1zM50 52h1v1h-1zM3 53h1v1h-1zM5 53h1v1h-1zM12 53h2v1h-2zM15 53h1v1h-1zM17 53h1v1h-1zM31 53h1v1h-1zM6 54h2v1h-2zM13 54h1v1h-1zM26 54h1v1h-1zM46 54h1v1h-1zM9 55h1v1h-1zM12 55h1v1h-1zM17 55h1v1h-1zM19 55h1v1h-1zM29 55h2v1h-2zM35 55h1v1h-1zM37 55h1v1h-1zM42 55h1v1h-1zM46 55h1v1h-1zM1 56h1v1h-1zM12 56h1v1h-1zM22 56h2v1h-2zM35 56h1v1h-1zM44 56h1v1h-1zM48 56h1v1h-1zM14 57h1v1h-1zM23 57h1v1h-1zM28 57h1v1h-1zM32 57h3v1h-3zM36 57h1v1h-1zM42 57h1v1h-1zM47 57h1v1h-1zM13 58h1v1h-1zM16 58h1v1h-1zM21 58h3v1h-3zM25 58h1v1h-1zM31 58h1v1h-1zM39 58h1v1h-1zM44 58h2v1h-2zM7 59h1v1h-1zM12 59h1v1h-1zM14 59h1v1h-1zM34 59h1v1h-1zM42 59h1v1h-1zM46 59h3v1h-3zM21 60h1v1h-1zM30 60h2v1h-2zM34 60h1v1h-1zM37 60h1v1h-1zM42 60h2v1h-2zM45 60h1v1h-1zM48 60h2v1h-2zM1 61h1v1h-1zM10 61h1v1h-1zM15 61h1v1h-1zM20 61h1v1h-1zM22 61h1v1h-1zM34 61h1v1h-1zM40 61h4v1h-4zM45 61h1v1h-1zM15 62h1v1h-1zM21 62h1v1h-1zM24 62h1v1h-1zM28 62h3v1h-3zM49 62h1v1h-1zM3 63h2v1h-2zM7 63h2v1h-2zM16 63h1v1h-1zM24 63h1v1h-1zM30 63h1v1h-1zM35 63h1v1h-1zM8 64h1v1h-1zM14 64h2v1h-2zM27 64h1v1h-1zM32 64h1v1h-1zM35 64h3v1h-3zM39 64h2v1h-2zM44 64h1v1h-1zM47 64h1v1h-1zM3 65h2v1h-2zM8 65h1v1h-1zM11 65h2v1h-2zM16 65h2v1h-2zM20 65h1v1h-1zM30 65h1v1h-1zM45 65h1v1h-1zM2 66h1v1h-1zM10 66h1v1h-1zM15 66h1v1h-1zM22 66h1v1h-1zM26 66h1v1h-1zM33 66h1v1h-1zM36 66h1v1h-1zM39 66h2v1h-2zM43 66h1v1h-1zM45 66h1v1h-1zM15 67h2v1h-2zM20 67h1v1h-1zM22 67h1v1h-1zM24 67h1v1h-1zM28 67h1v1h-1zM31 67h3v1h-3zM37 67h1v1h-1zM45 67h1v1h-1zM48 67h1v1h-1zM8 68h1v1h-1zM17 68h1v1h-1zM19 68h1v1h-1zM26 68h1v1h-1zM28 68h1v1h-1zM43 68h1v1h-1zM46 68h2v1h-2zM50 68h1v1h-1zM1 69h1v1h-1zM3 69h3v1h-3zM7 69h1v1h-1zM9 69h1v1h-1zM25 69h1v1h-1zM29 69h2v1h-2zM34 69h1v1h-1zM36 69h1v1h-1zM38 69h1v1h-1zM44 69h1v1h-1zM4 70h1v1h-1zM10 70h1v1h-1zM26 70h1v1h-1zM28 70h1v1h-1zM34 70h4v1h-4zM39 70h2v1h-2zM42 70h2v1h-2zM45 70h1v1h-1zM10 71h1v1h-1zM14 71h1v1h-1zM25 71h1v1h-1zM32 71h2v1h-2zM40 71h1v1h-1zM42 71h1v1h-1zM44 71h1v1h-1zM48 71h1v1h-1zM0 72h1v1h-1zM2 72h1v1h-1zM7 72h1v1h-1zM32 72h2v1h-2zM36 72h2v1h-2zM39 72h1v1h-1zM47 72h3v1h-3zM4 73h1v1h-1zM26 73h1v1h-1zM30 73h2v1h-2zM40 73h1v1h-1zM43 73h1v1h-1zM48 73h3v1h-3zM6 74h2v1h-2zM12 74h1v1h-1zM18 74h2v1h-2zM37 74h2v1h-2zM18 75h1v1h-1zM21 75h1v1h-1zM28 75h1v1h-1zM39 75h1v1h-1zM47 75h1v1h-1zM49 75h1v1h-1zM9 76h1v1h-1zM16 76h1v1h-1zM18 76h1v1h-1zM32 76h1v1h-1zM41 76h1v1h-1zM43 76h1v1h-1zM1 77h1v1h-1zM10 77h1v1h-1zM12 77h1v1h-1zM16 77h1v1h-1zM22 77h1v1h-1zM28 77h1v1h-1zM38 77h2v1h-2zM44 77h1v1h-1zM46 77h1v1h-1zM50 77h1v1h-1zM11 78h1v1h-1zM17 78h1v1h-1zM21 78h1v1h-1zM40 78h1v1h-1zM48 78h1v1h-1z"/>
<path fill="#22ff00" d="M23 0h2v1h-2zM30 0h2v1h-2zM34 0h1v1h-1zM43 0h1v1h-1zM47 0h1v1h-1zM5 1h1v1h-1zM9 1h2v1h-2zM28 1h1v1h-1zM36 1h1v1h-1zM38 1h1v1h-1zM40 1h1v1h-1zM42 1h1v1h-1zM44 1h1v1h-1zM47 1h1v1h-1zM50 1h1v1h-1zM1 2h1v1h-1zM7 2h1v1h-1zM12 2h1v1h-1zM18 2h1v1h-1zM22 2h1v1h-1zM30 2h2v1h-2zM35 2h1v1h-1zM38 2h1v1h-1zM40 2h1v1h-1zM44 2h2v1h-2zM50 2h2v1h-2zM7 3h1v1h-1zM22 3h1v1h-1zM37 3h2v1h-2zM43 3h1v1h-1zM46 3h1v1h-1zM13 4h1v1h-1zM19 4h1v1h-1zM21 4h1v1h-1zM29 4h1v1h-1zM38 4h1v1h-1zM40 4h1v1h-1zM46 4h1v1h-1zM7 5h1v1h-1zM9 5h2v1h-2zM13 5h1v1h-1zM29 5h1v1h-1zM31 5h1v1h-1zM33 5h1v1h-1zM44 5h1v1h-1zM1 6h2v1h-2zM4 6h1v1h-1zM13 6h1v1h-1zM18 6h1v1h-1zM24 6h1v1h-1zM26 6h1v1h-1zM28 6h1v1h-1zM34 6h1v1h-1zM41 6h1v1h-1zM48 6h1v1h-1zM51 6h1v1h-1zM9 7h2v1h-2zM16 7h1v1h-1zM25 7h1v1h-1zM35 7h1v1h-1zM37 7h2v1h-2zM41 7h2v1h-2zM1 8h1v1h-1zM6 8h3v1h-3zM14 8h2v1h-2zM17 8h1v1h-1zM21 8h1v1h-1zM27 8h1v1h-1zM30 8h2v1h-2zM33 8h1v1h-1zM39 8h1v1h-1zM44 8h1v1h-1zM46 8h1v1h-1zM2 9h1v1h-1zM5 9h1v1h-1zM7 9h1v1h-1zM13 9h1v1h-1zM20 9h1v1h-1zM26 9h1v1h-1zM29 9h1v1h-1zM35 9h1v1h-1zM45 9h1v1h-1zM48 9h3v1h-3zM3 10h1v1h-1zM13 10h3v1h-3zM26 10h1v1h-1zM35 10h1v1h-1zM39 10h2v1h-2zM42 10h3v1h-3zM2 11h1v1h-1zM6 11h1v1h-1zM9 11h2v1h-2zM19 11h1v1h-1zM24 11h1v1h-1zM28 11h1v1h-1zM31 11h1v1h-1zM37 11h1v1h-1zM44 11h1v1h-1zM48 11h1v1h-1zM3 12h1v1h-1zM6 12h1v1h-1zM14 12h2v1h-2zM23 12h1v1h-1zM25 12h1v1h-1zM42 12h1v1h-1zM44 12h1v1h-1zM3 13h1v1h-1zM5 13h1v1h-1zM14 13h1v1h-1zM18 13h1v1h-1zM28 13h2v1h-2zM43 13h1v1h-1zM47 13h1v1h-1zM4 14h1v1h-1zM6 14h1v1h-1zM12 14h1v1h-1zM15 14h1v1h-1zM17 14h1v1h-1zM26 14h1v1h-1zM46 14h1v1h-1zM48 14h1v1h-1zM3 15h1v1h-1zM6 15h1v1h-1zM9 15h1v1h-1zM12 15h1v1h-1zM16 15h1v1h-1zM19 15h1v1h-1zM25 15h1v1h-1zM28 15h2v1h-2zM31 15h1v1h-1zM36 15h1v1h-1zM38 15h1v1h-1zM43 15h1v1h-1zM45 15h1v1h-1zM5 16h2v1h-2zM8 16h1v1h-1zM12 16h1v1h-1zM15 16h1v1h-1zM18 16h1v1h-1zM23 16h1v1h-1zM32 16h1v1h-1zM40 16h1v1h-1zM51 16h1v1h-1zM3 17h2v1h-2zM11 17h1v1h-1zM29 17h1v1h-1zM33 17h1v1h-1zM38 17h1v1h-1zM41 17h1v1h-1zM3 18h1v1h-1zM7 18h1v1h-1zM9 18h3v1h-3zM19 18h1v1h-1zM31 18h1v1h-1zM37 18h1v1h-1zM1 19h1v1h-1zM7 19h1v1h-1zM17 19h2v1h-2zM22 19h1v1h-1zM38 19h1v1h-1zM46 19h1v1h-1zM4 20h1v1h-1zM11 20h1v1h-1zM18 20h1v1h-1zM20 20h1v1h-1zM25 20h1v1h-1zM50 20h1v1h-1zM2 21h1v1h-1zM17 21h2v1h-2zM21 21h1v1h-1zM24 21h1v1h-1zM37 21h1v1h-1zM42 21h2v1h-2zM1 22h1v1h-1zM4 22h1v1h-1zM8 22h1v1h-1zM13 22h1v1h-1zM16 22h1v1h-1zM39 22h1v1h-1zM49 22h1v1h-1zM3 23h3v1h-3zM12 23h1v1h-1zM16 23h1v1h-1zM20 23h2v1h-2zM23 23h1v1h-1zM35 23h1v1h-1zM49 23h2v1h-2zM3 24h1v1h-1zM8 24h4v1h-4zM13 24h2v1h-2zM22 24h1v1h-1zM41 24h1v1h-1zM43 24h1v1h-1zM27 25h1v1h-1zM46 25h1v1h-1zM5 26h1v1h-1zM16 26h1v1h-1zM20 26h1v1h-1zM43 26h1v1h-1zM11 27h1v1h-1zM14 27h1v1h-1zM17 27h1v1h-1zM21 27h2v1h-2zM35 27h1v1h-1zM3 28h2v1h-2zM20 28h1v1h-1zM22 28h1v1h-1zM41 28h1v1h-1zM43 28h1v1h-1zM49 28h1v1h-1zM18 29h1v1h-1zM42 29h1v1h-1zM49 29h1v1h-1zM7 30h2v1h-2zM11 30h1v1h-1zM13 30h1v1h-1zM21 30h1v1h-1zM23 30h3v1h-3zM47 30h1v1h-1zM49 30h1v1h-1zM11 31h1v1h-1zM13 31h2v1h-2zM17 31h1v1h-1zM41 31h1v1h-1zM51 31h1v1h-1zM3 32h2v1h-2zM13 32h1v1h-1zM18 32h1v1h-1zM29 32h1v1h-1zM31 32h1v1h-1zM38 32h1v1h-1zM45 32h1v1h-1zM3 33h1v1h-1zM10 33h1v1h-1zM20 33h1v1h-1zM2 34h1v1h-1zM6 34h2v1h-2zM9 34h2v1h-2zM28 34h1v1h-1zM32 34h2v1h-2zM15 35h2v1h-2zM20 35h1v1h-1zM22 35h1v1h-1zM43 35h1v1h-1zM1 36h1v1h-1zM4 36h1v1h-1zM8 36h1v1h-1zM15 36h1v1h-1zM25 36h1v1h-1zM51 36h1v1h-1zM2 37h1v1h-1zM4 37h1v1h-1zM7 37h2v1h-2zM11 37h2v1h-2zM14 37h1v1h-1zM18 37h1v1h-1zM30 37h1v1h-1zM46 37h1v1h-1zM1 38h1v1h-1zM8 38h1v1h-1zM17 38h1v1h-1zM28 38h1v1h-1zM44 38h1v1h-1zM1 39h1v1h-1zM9 39h1v1h-1zM12 39h1v1h-1zM26 39h1v1h-1zM51 39h1v1h-1zM4 40h1v1h-1zM7 40h1v1h-1zM10 40h2v1h-2zM26 40h1v1h-1zM9 41h1v1h-1zM12 41h2v1h-2zM17 41h1v1h-1zM22 41h1v1h-1zM51 41h1v1h-1zM3 42h1v1h-1zM12 42h1v1h-1zM17 42h1v1h-1zM23 42h2v1h-2zM38 42h1v1h-1zM6 43h1v1h-1zM14 43h1v1h-1zM16 43h1v1h-1zM24 43h1v1h-1zM29 43h1v1h-1zM14 44h1v1h-1zM18 44h2v1h-2zM32 44h1v1h-1zM43 44h1v1h-1zM4 45h1v1h-1zM12 45h1v1h-1zM23 45h1v1h-1zM50 45h1v1h-1zM10 46h1v1h-1zM13 46h1v1h-1zM18 46h1v1h-1zM1 47h1v1h-1zM3 47h1v1h-1zM11 47h2v1h-2zM19 47h1v1h-1zM44 47h1v1h-1zM11 48h2v1h-2zM14 48h1v1h-1zM17 48h1v1h-1zM24 48h1v1h-1zM33 48h1v1h-1zM39 48h1v1h-1zM4 49h1v1h-1zM6 49h1v1h-1zM12 49h1v1h-1zM17 49h4v1h-4zM1 50h1v1h-1zM4 50h1v1h-1zM10 50h1v1h-1zM13 50h1v1h-1zM24 50h1v1h-1zM35 50h1v1h-1zM14 51h1v1h-1zM51 51h1v1h-1zM6 52h2v1h-2zM10 52h2v1h-2zM14 52h2v1h-2zM24 52h1v1h-1zM31 52h1v1h-1zM34 52h1v1h-1zM51 52h1v1h-1zM2 53h1v1h-1zM6 53h1v1h-1zM8 53h2v1h-2zM19 53h2v1h-2zM28 53h1v1h-1zM33 53h1v1h-1zM50 53h2v1h-2zM1 54h1v1h-1zM3 54h1v1h-1zM11 54h1v1h-1zM14 54h1v1h-1zM21 54h2v1h-2zM51 54h1v1h-1zM6 55h1v1h-1zM8 55h1v1h-1zM11 55h1v1h-1zM16 55h1v1h-1zM40 55h1v1h-1zM43 55h1v1h-1zM45 55h1v1h-1zM0 56h1v1h-1zM5 56h1v1h-1zM7 56h1v1h-1zM13 56h2v1h-2zM21 56h1v1h-1zM28 56h1v1h-1zM47 56h1v1h-1zM2 57h1v1h-1zM6 57h2v1h-2zM10 57h1v1h-1zM15 57h1v1h-1zM19 57h1v1h-1zM45 57h1v1h-1zM2 58h1v1h-1zM9 58h1v1h-1zM20 58h1v1h-1zM27 58h1v1h-1zM30 58h1v1h-1zM3 59h1v1h-1zM9 59h1v1h-1zM13 59h1v1h-1zM15 59h1v1h-1zM21 59h1v1h-1zM37 59h1v1h-1zM49 59h1v1h-1zM6 60h1v1h-1zM9 60h2v1h-2zM17 60h1v1h-1zM46 60h1v1h-1zM2 61h1v1h-1zM17 61h1v1h-1zM19 61h1v1h-1zM23 61h1v1h-1zM29 61h1v1h-1zM38 61h1v1h-1zM46 61h1v1h-1zM2 62h2v1h-2zM6 62h1v1h-1zM16 62h1v1h-1zM20 62h1v1h-1zM23 62h1v1h-1zM37 62h1v1h-1zM45 62h1v1h-1zM6 63h1v1h-1zM14 63h1v1h-1zM17 63h1v1h-1zM46 63h1v1h-1zM3 64h1v1h-1zM7 64h1v1h-1zM10 64h1v1h-1zM16 64h1v1h-1zM21 64h2v1h-2zM34 64h1v1h-1zM38 64h1v1h-1zM43 64h1v1h-1zM6 65h1v1h-1zM19 65h1v1h-1zM21 65h2v1h-2zM33 65h1v1h-1zM49 65h2v1h-2zM9 66h1v1h-1zM23 66h1v1h-1zM25 66h1v1h-1zM38 66h1v1h-1zM41 66h1v1h-1zM2 67h1v1h-1zM4 67h1v1h-1zM11 67h1v1h-1zM14 67h1v1h-1zM35 67h2v1h-2zM40 67h1v1h-1zM42 67h1v1h-1zM7 68h1v1h-1zM15 68h1v1h-1zM20 68h1v1h-1zM24 68h1v1h-1zM39 68h1v1h-1zM8 69h1v1h-1zM10 69h1v1h-1zM16 69h1v1h-1zM19 69h1v1h-1zM26 69h1v1h-1zM31 69h1v1h-1zM37 69h1v1h-1zM39 69h1v1h-1zM41 69h1v1h-1zM8 70h1v1h-1zM17 70h1v1h-1zM22 70h1v1h-1zM25 70h1v1h-1zM27 70h1v1h-1zM31 70h1v1h-1zM38 70h1v1h-1zM46 70h2v1h-2zM0 71h4v1h-4zM5 71h1v1h-1zM8 71h1v1h-1zM13 71h1v1h-1zM31 71h1v1h-1zM35 71h1v1h-1zM45 71h2v1h-2zM1 72h1v1h-1zM4 72h3v1h-3zM8 72h1v1h-1zM16 72h1v1h-1zM21 72h1v1h-1zM26 72h1v1h-1zM38 72h1v1h-1zM40 72h1v1h-1zM44 72h1v1h-1zM3 73h1v1h-1zM21 73h1v1h-1zM24 73h1v1h-1zM28 73h1v1h-1zM35 73h1v1h-1zM44 73h1v1h-1zM3 74h1v1h-1zM8 74h3v1h-3zM14 74h1v1h-1zM24 74h2v1h-2zM27 74h1v1h-1zM29 74h1v1h-1zM50 74h1v1h-1zM5 75h1v1h-1zM10 75h2v1h-2zM15 75h3v1h-3zM26 75h1v1h-1zM29 75h1v1h-1zM35 75h2v1h-2zM41 75h1v1h-1zM51 75h1v1h-1zM15 76h1v1h-1zM21 76h1v1h-1zM26 76h2v1h-2zM47 76h1v1h-1zM5 77h1v1h-1zM11 77h1v1h-1zM17 77h1v1h-1zM30 77h1v1h-1zM37 77h1v1h-1zM45 77h1v1h-1zM7 78h1v1h-1zM13 78h1v1h-1zM28 78h1v1h-1zM31 78h1v1h-1zM38 78h2v1h-2zM51 78h1v1h-1z"/>
<path fill="#69ff00" d="M2 0h2v1h-2zM14 0h1v1h-1zM17 0h1v1h-1zM19 0h2v1h-2zM28 0h1v1h-1zM41 0h1v1h-1zM21 1h1v1h-1zM31 1h1v1h-1zM43 1h1v1h-1zM46 1h1v1h-1zM3 2h1v1h-1zM8 2h1v1h-1zM14 2h1v1h-1zM19 2h1v1h-1zM29 2h1v1h-1zM47 2h1v1h-1zM1 3h1v1h-1zM13 3h1v1h-1zM16 3h1v1h-1zM28 3h2v1h-2zM36 3h1v1h-1zM39 3h1v1h-1zM42 3h1v1h-1zM44 3h1v1h-1zM3 4h1v1h-1zM16 4h3v1h-3zM36 4h1v1h-1zM0 5h2v1h-2zM24 5h1v1h-1zM27 5h1v1h-1zM36 5h2v1h-2zM39 5h1v1h-1zM46 5h1v1h-1zM50 5h1v1h-1zM27 6h1v1h-1zM33 6h1v1h-1zM40 6h1v1h-1zM42 6h2v1h-2zM47 6h1v1h-1zM50 6h1v1h-1zM22 7h1v1h-1zM29 7h1v1h-1zM33 7h1v1h-1zM36 7h1v1h-1zM40 7h1v1h-1zM47 7h1v1h-1zM51 7h1v1h-1zM0 8h1v1h-1zM25 8h1v1h-1zM41 8h1v1h-1zM1 9h1v1h-1zM15 9h1v1h-1zM23 9h1v1h-1zM25 9h1v1h-1zM31 9h1v1h-1zM44 9h1v1h-1zM0 10h1v1h-1zM2 10h1v1h-1zM6 10h1v1h-1zM10 10h1v1h-1zM30 10h1v1h-1zM41 10h1v1h-1zM51 10h1v1h-1zM3 11h1v1h-1zM11 11h1v1h-1zM17 11h1v1h-1zM41 11h1v1h-1zM1 12h1v1h-1zM5 12h1v1h-1zM12 12h1v1h-1zM18 12h1v1h-1zM26 12h1v1h-1zM29 12h1v1h-1zM32 12h1v1h-1zM35 12h1v1h-1zM40 12h1v1h-1zM12 13h1v1h-1zM16 13h1v1h-1zM22 13h1v1h-1zM25 13h1v1h-1zM34 13h1v1h-1zM40 13h1v1h-1zM21 14h1v1h-1zM25 14h1v1h-1zM22 15h1v1h-1zM0 16h1v1h-1zM2 16h1v1h-1zM4 16h1v1h-1zM9 16h1v1h-1zM11 16h1v1h-1zM22 16h1v1h-1zM35 16h1v1h-1zM1 17h1v1h-1zM5 17h1v1h-1zM17 17h1v1h-1zM26 17h1v1h-1zM32 17h1v1h-1zM40 17h1v1h-1zM0 18h1v1h-1zM2 18h1v1h-1zM4 18h1v1h-1zM8 18h1v1h-1zM16 18h2v1h-2zM49 18h1v1h-1zM0 19h1v1h-1zM10 19h1v1h-1zM13 19h1v1h-1zM39 19h1v1h-1zM51 19h1v1h-1zM0 20h1v1h-1zM15 20h1v1h-1zM43 20h1v1h-1zM51 20h1v1h-1zM12 21h1v1h-1zM15 21h1v1h-1zM22 21h1v1h-1zM36 21h1v1h-1zM51 21h1v1h-1zM7 22h1v1h-1zM15 22h1v1h-1zM18 22h1v1h-1zM33 22h1v1h-1zM51 22h1v1h-1zM18 23h1v1h-1zM51 23h1v1h-1zM1 24h2v1h-2zM5 24h1v1h-1zM46 24h1v1h-1zM3 25h1v1h-1zM13 25h1v1h-1zM26 25h1v1h-1zM0 26h2v1h-2zM3 26h1v1h-1zM12 26h2v1h-2zM25 26h1v1h-1zM33 26h1v1h-1zM48 26h1v1h-1zM51 26h1v1h-1zM1 27h1v1h-1zM3 27h1v1h-1zM48 27h1v1h-1zM51 27h1v1h-1zM9 28h1v1h-1zM12 28h2v1h-2zM18 28h1v1h-1zM25 28h2v1h-2zM8 29h1v1h-1zM13 29h1v1h-1zM27 29h1v1h-1zM50 29h1v1h-1zM1 30h2v1h-2zM10 30h1v1h-1zM19 30h1v1h-1zM2 31h1v1h-1zM6 31h1v1h-1zM8 31h1v1h-1zM10 31h1v1h-1zM20 31h1v1h-1zM22 31h1v1h-1zM50 31h1v1h-1zM1 32h1v1h-1zM6 32h1v1h-1zM30 32h1v1h-1zM4 33h2v1h-2zM7 33h1v1h-1zM14 33h1v1h-1zM34 33h1v1h-1zM48 33h1v1h-1zM3 34h1v1h-1zM16 34h1v1h-1zM48 34h1v1h-1zM47 35h1v1h-1zM10 36h1v1h-1zM0 37h1v1h-1zM5 37h2v1h-2zM15 37h1v1h-1zM31 37h1v1h-1zM51 37h1v1h-1zM11 38h1v1h-1zM18 38h1v1h-1zM23 38h1v1h-1zM25 38h1v1h-1zM51 38h1v1h-1zM3 39h1v1h-1zM8 40h2v1h-2zM17 40h1v1h-1zM4 41h1v1h-1zM10 41h1v1h-1zM15 41h1v1h-1zM6 42h1v1h-1zM8 42h1v1h-1zM10 42h1v1h-1zM18 42h1v1h-1zM1 43h1v1h-1zM11 43h1v1h-1zM13 43h1v1h-1zM22 43h1v1h-1zM51 43h1v1h-1zM1 44h1v1h-1zM12 44h2v1h-2zM17 44h1v1h-1zM0 45h1v1h-1zM26 45h1v1h-1zM28 45h1v1h-1zM45 45h1v1h-1zM1 46h1v1h-1zM8 46h1v1h-1zM11 46h1v1h-1zM19 46h1v1h-1zM28 46h1v1h-1zM5 47h1v1h-1zM8 47h1v1h-1zM15 47h1v1h-1zM29 47h1v1h-1zM3 48h1v1h-1zM9 48h1v1h-1zM22 48h1v1h-1zM26 48h1v1h-1zM1 49h1v1h-1zM51 49h1v1h-1zM8 50h2v1h-2zM12 50h1v1h-1zM16 50h2v1h-2zM21 50h1v1h-1zM5 51h1v1h-1zM9 51h1v1h-1zM13 51h1v1h-1zM23 51h1v1h-1zM5 52h1v1h-1zM8 52h1v1h-1zM13 52h1v1h-1zM22 53h1v1h-1zM4 54h1v1h-1zM16 54h1v1h-1zM45 54h1v1h-1zM5 55h1v1h-1zM13 55h1v1h-1zM27 55h1v1h-1zM32 55h1v1h-1zM48 55h1v1h-1zM9 56h2v1h-2zM0 57h1v1h-1zM4 57h1v1h-1zM8 57h2v1h-2zM35 57h1v1h-1zM51 57h1v1h-1zM4 58h1v1h-1zM6 58h3v1h-3zM19 58h1v1h-1zM26 58h1v1h-1zM32 58h1v1h-1zM42 58h1v1h-1zM6 59h1v1h-1zM20 59h1v1h-1zM22 59h1v1h-1zM25 59h1v1h-1zM1 60h1v1h-1zM11 61h1v1h-1zM14 61h1v1h-1zM24 61h1v1h-1zM35 61h1v1h-1zM4 62h1v1h-1zM14 62h1v1h-1zM18 62h1v1h-1zM41 62h1v1h-1zM9 63h1v1h-1zM13 63h1v1h-1zM21 63h1v1h-1zM26 63h1v1h-1zM41 63h1v1h-1zM0 64h1v1h-1zM2 64h1v1h-1zM9 64h1v1h-1zM11 64h1v1h-1zM26 64h1v1h-1zM29 64h1v1h-1zM7 65h1v1h-1zM9 65h2v1h-2zM13 65h1v1h-1zM46 65h1v1h-1zM3 66h2v1h-2zM7 66h1v1h-1zM13 66h1v1h-1zM21 66h1v1h-1zM1 67h1v1h-1zM5 67h1v1h-1zM8 67h1v1h-1zM10 67h1v1h-1zM51 67h1v1h-1zM9 68h1v1h-1zM40 68h1v1h-1zM14 69h1v1h-1zM17 69h1v1h-1zM22 69h1v1h-1zM1 70h2v1h-2zM16 70h1v1h-1zM20 70h2v1h-2zM24 70h1v1h-1zM50 70h2v1h-2zM22 71h1v1h-1zM26 71h2v1h-2zM43 71h1v1h-1zM49 71h1v1h-1zM11 72h1v1h-1zM13 72h2v1h-2zM25 72h1v1h-1zM46 72h1v1h-1zM51 72h1v1h-1zM9 73h1v1h-1zM16 73h1v1h-1zM22 73h1v1h-1zM37 73h1v1h-1zM39 73h1v1h-1zM1 74h2v1h-2zM16 74h2v1h-2zM32 74h1v1h-1zM41 74h1v1h-1zM51 74h1v1h-1zM4 75h1v1h-1zM6 75h1v1h-1zM12 75h1v1h-1zM14 75h1v1h-1zM19 75h1v1h-1zM25 75h1v1h-1zM30 75h1v1h-1zM33 75h1v1h-1zM43 75h1v1h-1zM1 76h1v1h-1zM4 76h3v1h-3zM12 76h1v1h-1zM14 76h1v1h-1zM17 76h1v1h-1zM20 76h1v1h-1zM23 76h2v1h-2zM28 76h1v1h-1zM37 76h1v1h-1zM46 76h1v1h-1zM48 76h1v1h-1zM51 76h1v1h-1zM21 77h1v1h-1zM23 77h1v1h-1zM25 77h2v1h-2zM32 77h1v1h-1zM34 77h1v1h-1zM43 77h1v1h-1zM51 77h1v1h-1zM1 78h1v1h-1zM10 78h1v1h-1zM12 78h1v1h-1zM16 78h1v1h-1zM24 78h1v1h-1zM26 78h2v1h-2zM35 78h1v1h-1zM45 78h1v1h-1zM47 78h1v1h-1zM17 79h1v1h-1zM36 79h1v1h-1zM38 79h1v1h-1zM40 79h1v1h-1z"/>
<path fill="#99ff00" d="M6 0h2v1h-2zM12 0h2v1h-2zM21 0h1v1h-1zM25 0h3v1h-3zM29 0h1v1h-1zM35 0h1v1h-1zM37 0h1v1h-1zM39 0h1v1h-1zM45 0h2v1h-2zM50 0h1v1h-1zM1 1h1v1h-1zM6 1h1v1h-1zM8 1h1v1h-1zM11 1h2v1h-2zM19 1h2v1h-2zM22 1h1v1h-1zM30 1h1v1h-1zM32 1h1v1h-1zM35 1h1v1h-1zM37 1h1v1h-1zM51 1h1v1h-1zM0 2h1v1h-1zM2 2h1v1h-1zM5 2h1v1h-1zM28 2h1v1h-1zM32 2h1v1h-1zM37 2h1v1h-1zM2 3h1v1h-1zM9 3h1v1h-1zM11 3h1v1h-1zM14 3h1v1h-1zM27 3h1v1h-1zM51 3h1v1h-1zM0 4h1v1h-1zM2 4h1v1h-1zM5 4h1v1h-1zM7 4h1v1h-1zM10 4h1v1h-1zM42 4h1v1h-1zM51 4h1v1h-1zM7 6h1v1h-1zM14 6h1v1h-1zM31 6h1v1h-1zM1 7h1v1h-1zM4 7h1v1h-1zM9 8h2v1h-2zM11 9h2v1h-2zM30 9h1v1h-1zM40 9h1v1h-1zM51 9h1v1h-1zM4 10h1v1h-1zM33 10h1v1h-1zM45 10h1v1h-1zM0 11h1v1h-1zM18 11h1v1h-1zM33 11h1v1h-1zM9 12h1v1h-1zM11 12h1v1h-1zM31 12h1v1h-1zM46 12h1v1h-1zM10 13h1v1h-1zM45 13h1v1h-1zM50 13h2v1h-2zM3 14h1v1h-1zM8 14h1v1h-1zM16 14h1v1h-1zM28 14h1v1h-1zM49 14h1v1h-1zM1 15h1v1h-1zM13 15h1v1h-1zM24 15h1v1h-1zM44 15h1v1h-1zM1 16h1v1h-1zM10 16h1v1h-1zM16 16h1v1h-1zM50 16h1v1h-1zM0 17h1v1h-1zM10 17h1v1h-1zM21 17h1v1h-1zM13 18h1v1h-1zM15 18h1v1h-1zM47 18h1v1h-1zM3 19h1v1h-1zM11 19h1v1h-1zM29 19h1v1h-1zM47 19h1v1h-1zM31 20h1v1h-1zM9 21h1v1h-1zM30 21h1v1h-1zM0 22h1v1h-1zM1 23h1v1h-1zM7 24h1v1h-1zM12 24h1v1h-1zM18 24h1v1h-1zM25 24h1v1h-1zM31 24h1v1h-1zM39 24h1v1h-1zM49 24h2v1h-2zM15 25h1v1h-1zM34 25h1v1h-1zM51 25h1v1h-1zM18 26h1v1h-1zM2 28h1v1h-1zM51 29h1v1h-1zM0 30h1v1h-1zM15 30h1v1h-1zM1 31h1v1h-1zM5 31h1v1h-1zM23 31h1v1h-1zM16 32h1v1h-1zM0 33h1v1h-1zM15 33h1v1h-1zM27 33h1v1h-1zM19 34h1v1h-1zM2 35h1v1h-1zM4 35h1v1h-1zM11 35h1v1h-1zM51 35h1v1h-1zM11 36h1v1h-1zM13 36h1v1h-1zM13 38h1v1h-1zM13 39h1v1h-1zM0 40h2v1h-2zM2 42h1v1h-1zM5 43h1v1h-1zM3 44h1v1h-1zM5 45h1v1h-1zM7 45h1v1h-1zM2 46h1v1h-1zM9 46h1v1h-1zM51 46h1v1h-1zM0 48h1v1h-1zM2 48h1v1h-1zM16 48h1v1h-1zM51 48h1v1h-1zM11 50h1v1h-1zM15 50h1v1h-1zM2 51h1v1h-1zM10 51h1v1h-1zM17 52h1v1h-1zM21 52h1v1h-1zM1 53h1v1h-1zM16 53h1v1h-1zM0 54h1v1h-1zM2 54h1v1h-1zM8 54h1v1h-1zM10 54h1v1h-1zM20 54h1v1h-1zM10 55h1v1h-1zM51 55h1v1h-1zM51 56h1v1h-1zM17 57h2v1h-2zM0 58h1v1h-1zM3 58h1v1h-1zM7 60h2v1h-2zM11 60h1v1h-1zM18 60h1v1h-1zM40 60h1v1h-1zM51 60h1v1h-1zM8 61h1v1h-1zM1 62h1v1h-1zM10 62h1v1h-1zM12 62h1v1h-1zM34 62h1v1h-1zM0 63h1v1h-1zM5 63h1v1h-1zM10 63h1v1h-1zM19 63h1v1h-1zM22 63h2v1h-2zM28 64h1v1h-1zM51 64h1v1h-1zM0 65h2v1h-2zM1 66h1v1h-1zM5 66h1v1h-1zM23 67h1v1h-1zM25 67h1v1h-1zM0 68h1v1h-1zM2 68h1v1h-1zM4 68h1v1h-1zM11 68h1v1h-1zM14 68h1v1h-1zM16 68h1v1h-1zM18 68h1v1h-1zM51 68h1v1h-1zM11 69h1v1h-1zM15 69h1v1h-1zM18 69h1v1h-1zM46 69h1v1h-1zM11 70h1v1h-1zM14 70h1v1h-1zM11 71h1v1h-1zM51 71h1v1h-1zM23 72h1v1h-1zM0 73h1v1h-1zM19 73h1v1h-1zM51 73h1v1h-1zM11 74h1v1h-1zM0 75h1v1h-1zM2 75h1v1h-1zM7 75h1v1h-1zM9 75h1v1h-1zM38 75h1v1h-1zM7 76h1v1h-1zM11 76h1v1h-1zM31 76h1v1h-1zM9 77h1v1h-1zM20 77h1v1h-1zM29 77h1v1h-1zM40 77h1v1h-1zM4 78h1v1h-1zM8 78h1v1h-1zM3 79h1v1h-1zM9 79h1v1h-1z"/>
<path fill="#e0ff00" d="M8 0h1v1h-1zM10 0h1v1h-1zM15 0h1v1h-1zM2 1h1v1h-1zM33 1h1v1h-1zM0 3h1v1h-1zM12 3h1v1h-1zM3 5h1v1h-1zM0 6h1v1h-1zM6 6h1v1h-1zM10 6h1v1h-1zM0 7h1v1h-1zM15 7h1v1h-1zM20 7h1v1h-1zM22 8h2v1h-2zM51 8h1v1h-1zM28 9h1v1h-1zM7 10h1v1h-1zM37 10h1v1h-1zM0 12h1v1h-1zM2 12h1v1h-1zM51 12h1v1h-1zM39 14h1v1h-1zM44 14h1v1h-1zM51 14h1v1h-1zM4 15h1v1h-1zM2 17h1v1h-1zM8 17h1v1h-1zM51 18h1v1h-1zM20 19h1v1h-1zM1 21h1v1h-1zM16 21h1v1h-1zM51 24h1v1h-1zM6 28h1v1h-1zM51 30h1v1h-1zM10 32h1v1h-1zM12 32h1v1h-1zM0 34h1v1h-1zM51 34h1v1h-1zM0 36h1v1h-1zM5 36h1v1h-1zM9 36h1v1h-1zM7 38h1v1h-1zM9 38h1v1h-1zM0 39h1v1h-1zM0 42h1v1h-1zM0 44h1v1h-1zM6 46h1v1h-1zM10 47h1v1h-1zM5 48h1v1h-1zM13 48h1v1h-1zM0 49h1v1h-1zM3 52h1v1h-1zM10 53h1v1h-1zM5 57h1v1h-1zM51 58h1v1h-1zM0 59h1v1h-1zM51 59h1v1h-1zM6 61h1v1h-1zM16 61h1v1h-1zM51 61h1v1h-1zM5 64h1v1h-1zM14 65h1v1h-1zM9 67h1v1h-1zM6 69h1v1h-1zM49 70h1v1h-1zM6 71h2v1h-2zM17 72h2v1h-2zM0 74h1v1h-1zM26 74h1v1h-1zM50 75h1v1h-1zM0 77h1v1h-1zM49 77h1v1h-1zM3 78h1v1h-1zM19 78h1v1h-1zM1 79h1v1h-1zM7 79h1v1h-1zM20 79h3v1h-3zM30 79h1v1h-1zM42 79h2v1h-2zM45 79h2v1h-2z"/>
<path fill="#ffee00" d="M5 0h1v1h-1zM9 0h1v1h-1zM49 0h1v1h-1zM0 1h1v1h-1zM39 1h1v1h-1zM41 1h1v1h-1zM51 5h1v1h-1zM21 6h1v1h-1zM0 9h1v1h-1zM51 11h1v1h-1zM5 19h1v1h-1zM2 25h1v1h-1zM8 25h1v1h-1zM0 27h1v1h-1zM7 27h1v1h-1zM51 28h1v1h-1zM22 29h1v1h-1zM0 32h1v1h-1zM51 33h1v1h-1zM0 35h1v1h-1zM0 41h1v1h-1zM5 41h1v1h-1zM51 45h1v1h-1zM0 46h1v1h-1zM0 47h1v1h-1zM0 50h1v1h-1zM51 50h1v1h-1zM12 57h1v1h-1zM0 60h1v1h-1zM4 61h1v1h-1zM0 62h1v1h-1zM0 67h1v1h-1zM13 68h1v1h-1zM0 70h1v1h-1zM1 73h1v1h-1zM12 73h1v1h-1zM5 79h1v1h-1zM14 79h1v1h-1zM18 79h1v1h-1zM31 79h2v1h-2zM34 79h1v1h-1zM49 79h1v1h-1z"/>
<path fill="#ffa700" d="M0 0h1v1h-1zM4 0h1v1h-1zM18 0h1v1h-1zM51 0h1v1h-1zM46 7h1v1h-1zM0 14h1v1h-1zM0 15h1v1h-1zM0 25h1v1h-1zM0 38h1v1h-1zM0 43h1v1h-1zM0 51h1v1h-1zM0 53h1v1h-1zM12 69h1v1h-1zM0 78h1v1h-1zM10 79h1v1h-1zM15 79h1v1h-1zM23 79h1v1h-1zM33 79h1v1h-1zM37 79h1v1h-1zM39 79h1v1h-1zM48 79h1v1h-1z"/>
<path fill="#ff7700" d="M27 7h1v1h-1zM0 21h1v1h-1zM0 23h1v1h-1zM0 24h1v1h-1zM0 28h1v1h-1zM0 31h1v1h-1zM0 66h1v1h-1zM0 69h1v1h-1zM0 79h1v1h-1zM4 79h1v1h-1zM6 79h1v1h-1zM8 79h1v1h-1zM11 79h1v1h-1zM16 79h1v1h-1zM29 79h1v1h-1z"/>
<path fill="#ff3000" d="M22 0h1v1h-1zM0 13h1v1h-1zM0 29h1v1h-1zM0 55h1v1h-1zM0 61h1v1h-1zM13 79h1v1h-1zM19 79h1v1h-1zM24 79h1v1h-1zM41 79h1v1h-1zM44 79h1v1h-1zM50 79h2v1h-2z"/>
<path fill="#ff0000" d="M2 79h1v1h-1zM12 79h1v1h-1zM25 79h4v1h-4zM35 79h1v1h-1zM47 79h1v1h-1z"/>
</g>
<g shape-rendering="crispEdges" stroke="none">
<rect x="570" y="142.75" width="8.5" height="5.3" fill="#6300ff"/>
<rect x="570" y="137.5" width="8.5" height="5.3" fill="#3300ff"/>
<rect x="570" y="132.25" width="8.5" height="5.3" fill="#0014ff"/>
<rect x="570" y="127" width="8.5" height="5.3" fill="#0044ff"/>
<rect x="570" y="121.75" width="8.5" height="5.3" fill="#008bff"/>
<rect x="570" y="116.5" width="8.5" height="5.3" fill="#00bbff"/>
<rect x="570" y="111.25" width="8.5" height="5.3" fill="#00fffc"/>
<rect x="570" y="106" width="8.5" height="5.3" fill="#00ffcc"/>
<rect x="570" y="100.75" width="8.5" height="5.3" fill="#00ff85"/>
<rect x="570" y="95.5" width="8.5" height="5.3" fill="#00ff55"/>
<rect x="570" y="90.25" width="8.5" height="5.3" fill="#00ff0e"/>
<rect x="570" y="85" width="8.5" height="5.3" fill="#22ff00"/>
<rect x="570" y="79.75" width="8.5" height="5.3" fill="#69ff00"/>
<rect x="570" y="74.5" width="8.5" height="5.3" fill="#99ff00"/>
<rect x="570" y="69.25" width="8.5" height="5.3" fill="#e0ff00"/>
<rect x="570" y="64" width="8.5" height="5.3" fill="#ffee00"/>
<rect x="570" y="58.75" width="8.5" height="5.3" fill="#ffa700"/>
<rect x="570" y="53.5" width="8.5" height="5.3" fill="#ff7700"/>
<rect x="570" y="48.25" width="8.5" height="5.3" fill="#ff3000"/>
<rect x="570" y="43" width="8.5" height="5.3" fill="#ff0000"/>
</g>
<text x="579.5" y="146.68" font-size="4.4" font-weight="bold" style="font-family:&quot;Liberation Sans&quot;,sans-serif">85</text>
<text x="579.5" y="133.03" font-size="4.4" font-weight="bold" style="font-family:&quot;Liberation Sans&quot;,sans-serif">90</text>
<text x="579.5" y="119.39" font-size="4.4" font-weight="bold" style="font-family:&quot;Liberation Sans&quot;,sans-serif">95</text>
<text x="579.5" y="105.74" font-size="4.4" font-weight="bold" style="font-family:&quot;Liberation Sans&quot;,sans-serif">100</text>
<text x="579.5" y="92.09" font-size="4.4" font-weight="bold" style="font-family:&quot;Liberation Sans&quot;,sans-serif">105</text>
<text x="579.5" y="78.44" font-size="4.4" font-weight="bold" style="font-family:&quot;Liberation Sans&quot;,sans-serif">110</text>
<text x="579.5" y="64.8" font-size="4.4" font-weight="bold" style="font-family:&quot;Liberation Sans&quot;,sans-serif">115</text>
<text x="579.5" y="51.15" font-size="4.4" font-weight="bold" style="font-family:&quot;Liberation Sans&quot;,sans-serif">120</text>
<path d="M578.5 43V148M578.5 145.08h-4M578.5 131.43h-4M578.5 117.79h-4M578.5 104.14h-4M578.5 90.49h-4M578.5 76.84h-4M578.5 63.2h-4M578.5 49.55h-4" stroke="#000" stroke-width="1" fill="none"/>
<path d="M423.5 43V148.5H569.5V43" stroke="#000" stroke-width="1" fill="none"/>
<path d="M423.5 148.5v-4.5M451.58 148.5v-4.5M479.65 148.5v-4.5M507.73 148.5v-4.5M535.81 148.5v-4.5M563.88 148.5v-4.5" stroke="#000" stroke-width="1" fill="none"/>
<text x="423.5" y="157.1" font-size="10.3" text-anchor="middle">0</text>
<text x="451.58" y="157.1" font-size="10.3" text-anchor="middle">10</text>
<text x="479.65" y="157.1" font-size="10.3" text-anchor="middle">20</text>
<text x="507.73" y="157.1" font-size="10.3" text-anchor="middle">30</text>
<text x="535.81" y="157.1" font-size="10.3" text-anchor="middle">40</text>
<text x="563.88" y="157.1" font-size="10.3" text-anchor="middle">50</text>
<path d="M423.5 148.5h4.5M423.5 134.5h4.5M423.5 121.5h4.5M423.5 108.5h4.5M423.5 95.5h4.5M423.5 82.5h4.5M423.5 69.5h4.5M423.5 56.5h4.5M423.5 43.5h4.5" stroke="#000" stroke-width="1" fill="none"/>
<text x="422.3" y="151.9" font-size="10.3" text-anchor="end">0</text>
<text x="422.3" y="137.9" font-size="10.3" text-anchor="end">10</text>
<text x="422.3" y="124.9" font-size="10.3" text-anchor="end">20</text>
<text x="422.3" y="111.9" font-size="10.3" text-anchor="end">30</text>
<text x="422.3" y="98.9" font-size="10.3" text-anchor="end">40</text>
<text x="422.3" y="85.9" font-size="10.3" text-anchor="end">50</text>
<text x="422.3" y="72.9" font-size="10.3" text-anchor="end">60</text>
<text x="422.3" y="59.9" font-size="10.3" text-anchor="end">70</text>
<text x="422.3" y="46.9" font-size="10.3" text-anchor="end">80</text>
<text x="423" y="39.9" font-size="10.97">Vcal Threshold Untrimmed</text>
<rect x="622.5" y="43.5" width="146" height="105" fill="none" stroke="#000" stroke-width="1"/>
<path d="M622.5 148.5v-4.5M651.61 148.5v-4.5M680.73 148.5v-4.5M709.84 148.5v-4.5M738.95 148.5v-4.5M768.06 148.5v-4.5" stroke="#000" stroke-width="1" fill="none"/>
<text x="622.5" y="157.1" font-size="10.3" text-anchor="middle">0</text>
<text x="651.61" y="157.1" font-size="10.3" text-anchor="middle">20</text>
<text x="680.73" y="157.1" font-size="10.3" text-anchor="middle">40</text>
<text x="709.84" y="157.1" font-size="10.3" text-anchor="middle">60</text>
<text x="738.95" y="157.1" font-size="10.3" text-anchor="middle">80</text>
<text x="768.06" y="157.1" font-size="10.3" text-anchor="middle">100</text>
<path d="M622.5 145.5h2.5M622.5 143.5h2.5M622.5 142.5h2.5M622.5 140.5h2.5M622.5 130.5h2.5M622.5 125.5h2.5M622.5 122.5h2.5M622.5 119.5h2.5M622.5 117.5h2.5M622.5 115.5h2.5M622.5 113.5h2.5M622.5 112.5h2.5M622.5 102.5h2.5M622.5 97.5h2.5M622.5 93.5h2.5M622.5 91.5h2.5M622.5 88.5h2.5M622.5 86.5h2.5M622.5 85.5h2.5M622.5 83.5h2.5M622.5 73.5h2.5M622.5 68.5h2.5M622.5 65.5h2.5M622.5 62.5h2.5M622.5 60.5h2.5M622.5 58.5h2.5M622.5 56.5h2.5M622.5 55.5h2.5M622.5 45.5h2.5M622.5 139.5h4.5M622.5 111.5h4.5M622.5 82.5h4.5M622.5 53.5h4.5" stroke="#000" stroke-width="1" fill="none"/>
<text x="619.9" y="142.3" font-size="10.3" text-anchor="end">1</text>
<text x="620.3" y="114.3" font-size="10.3" text-anchor="end">10</text>
<text x="620.9" y="86" font-size="10.3" text-anchor="end">10<tspan dy="-4" font-size="7.4">2</tspan></text>
<text x="620.9" y="57" font-size="10.3" text-anchor="end">10<tspan dy="-4" font-size="7.4">3</tspan></text>
<path d="M701.1 148.5L701.1 139.5L702.56 139.5L702.56 130.5L704.02 130.5L704.02 99.5L705.47 99.5L705.47 81.5L706.93 81.5L706.93 63.5L708.38 63.5L708.38 57.5L709.84 57.5L709.84 50.5L711.29 50.5L711.29 54.5L712.75 54.5L712.75 61.5L714.2 61.5L714.2 76.5L715.66 76.5L715.66 99.5L717.12 99.5L717.12 148.5" stroke="#000" stroke-width="1" fill="none" stroke-linejoin="miter"/>
<text x="622" y="39.9" font-size="10.97">Vcal Threshold Trimmed</text>
<text x="631" y="52.7" font-size="10.05">N: 4160</text>
<text x="631" y="63.7" font-size="10.05">μ: 60.6</text>
<text x="631" y="73.8" font-size="10.05">σ:  1.4</text>
<g shape-rendering="crispEdges" stroke="none">
<rect x="172" y="335.75" width="8.5" height="5.3" fill="#6300ff"/>
<rect x="172" y="330.5" width="8.5" height="5.3" fill="#3300ff"/>
<rect x="172" y="325.25" width="8.5" height="5.3" fill="#0014ff"/>
<rect x="172" y="320" width="8.5" height="5.3" fill="#0044ff"/>
<rect x="172" y="314.75" width="8.5" height="5.3" fill="#008bff"/>
<rect x="172" y="309.5" width="8.5" height="5.3" fill="#00bbff"/>
<rect x="172" y="304.25" width="8.5" height="5.3" fill="#00fffc"/>
<rect x="172" y="299" width="8.5" height="5.3" fill="#00ffcc"/>
<rect x="172" y="293.75" width="8.5" height="5.3" fill="#00ff85"/>
<rect x="172" y="288.5" width="8.5" height="5.3" fill="#00ff55"/>
<rect x="172" y="283.25" width="8.5" height="5.3" fill="#00ff0e"/>
<rect x="172" y="278" width="8.5" height="5.3" fill="#22ff00"/>
<rect x="172" y="272.75" width="8.5" height="5.3" fill="#69ff00"/>
<rect x="172" y="267.5" width="8.5" height="5.3" fill="#99ff00"/>
<rect x="172" y="262.25" width="8.5" height="5.3" fill="#e0ff00"/>
<rect x="172" y="257" width="8.5" height="5.3" fill="#ffee00"/>
<rect x="172" y="251.75" width="8.5" height="5.3" fill="#ffa700"/>
<rect x="172" y="246.5" width="8.5" height="5.3" fill="#ff7700"/>
<rect x="172" y="241.25" width="8.5" height="5.3" fill="#ff3000"/>
<rect x="172" y="236" width="8.5" height="5.3" fill="#ff0000"/>
</g>
<text x="181.5" y="342.6" font-size="4.4" font-weight="bold" style="font-family:&quot;Liberation Sans&quot;,sans-serif">-5</text>
<text x="181.5" y="332.1" font-size="4.4" font-weight="bold" style="font-family:&quot;Liberation Sans&quot;,sans-serif">-4</text>
<text x="181.5" y="321.6" font-size="4.4" font-weight="bold" style="font-family:&quot;Liberation Sans&quot;,sans-serif">-3</text>
<text x="181.5" y="311.1" font-size="4.4" font-weight="bold" style="font-family:&quot;Liberation Sans&quot;,sans-serif">-2</text>
<text x="181.5" y="300.6" font-size="4.4" font-weight="bold" style="font-family:&quot;Liberation Sans&quot;,sans-serif">-1</text>
<text x="181.5" y="290.1" font-size="4.4" font-weight="bold" style="font-family:&quot;Liberation Sans&quot;,sans-serif">0</text>
<text x="181.5" y="279.6" font-size="4.4" font-weight="bold" style="font-family:&quot;Liberation Sans&quot;,sans-serif">1</text>
<text x="181.5" y="269.1" font-size="4.4" font-weight="bold" style="font-family:&quot;Liberation Sans&quot;,sans-serif">2</text>
<text x="181.5" y="258.6" font-size="4.4" font-weight="bold" style="font-family:&quot;Liberation Sans&quot;,sans-serif">3</text>
<text x="181.5" y="248.1" font-size="4.4" font-weight="bold" style="font-family:&quot;Liberation Sans&quot;,sans-serif">4</text>
<text x="181.5" y="237.6" font-size="4.4" font-weight="bold" style="font-family:&quot;Liberation Sans&quot;,sans-serif">5</text>
<path d="M180.5 236V341M180.5 341h-4M180.5 330.5h-4M180.5 320h-4M180.5 309.5h-4M180.5 299h-4M180.5 288.5h-4M180.5 278h-4M180.5 267.5h-4M180.5 257h-4M180.5 246.5h-4M180.5 236h-4" stroke="#000" stroke-width="1" fill="none"/>
<path d="M25.5 236V341.5H171.5V236" stroke="#000" stroke-width="1" fill="none"/>
<path d="M25.5 341.5v-4.5M53.58 341.5v-4.5M81.65 341.5v-4.5M109.73 341.5v-4.5M137.81 341.5v-4.5M165.88 341.5v-4.5" stroke="#000" stroke-width="1" fill="none"/>
<text x="25.5" y="350.1" font-size="10.3" text-anchor="middle">0</text>
<text x="53.58" y="350.1" font-size="10.3" text-anchor="middle">10</text>
<text x="81.65" y="350.1" font-size="10.3" text-anchor="middle">20</text>
<text x="109.73" y="350.1" font-size="10.3" text-anchor="middle">30</text>
<text x="137.81" y="350.1" font-size="10.3" text-anchor="middle">40</text>
<text x="165.88" y="350.1" font-size="10.3" text-anchor="middle">50</text>
<path d="M25.5 341.5h4.5M25.5 327.5h4.5M25.5 314.5h4.5M25.5 301.5h4.5M25.5 288.5h4.5M25.5 275.5h4.5M25.5 262.5h4.5M25.5 249.5h4.5M25.5 236.5h4.5" stroke="#000" stroke-width="1" fill="none"/>
<text x="24.3" y="344.9" font-size="10.3" text-anchor="end">0</text>
<text x="24.3" y="330.9" font-size="10.3" text-anchor="end">10</text>
<text x="24.3" y="317.9" font-size="10.3" text-anchor="end">20</text>
<text x="24.3" y="304.9" font-size="10.3" text-anchor="end">30</text>
<text x="24.3" y="291.9" font-size="10.3" text-anchor="end">40</text>
<text x="24.3" y="278.9" font-size="10.3" text-anchor="end">50</text>
<text x="24.3" y="265.9" font-size="10.3" text-anchor="end">60</text>
<text x="24.3" y="252.9" font-size="10.3" text-anchor="end">70</text>
<text x="24.3" y="239.9" font-size="10.3" text-anchor="end">80</text>
<rect x="25.5" y="236.5" width="146" height="105" fill="none" stroke="#000" stroke-width="1"/>
<text x="25" y="232.9" font-size="10.97">Bump Bonding Problems</text>
<rect x="224.5" y="236.5" width="146" height="105" fill="none" stroke="#000" stroke-width="1"/>
<path d="M224.5 341.5v-4.5M266.21 341.5v-4.5M307.93 341.5v-4.5M349.64 341.5v-4.5" stroke="#000" stroke-width="1" fill="none"/>
<text x="224.5" y="350.1" font-size="10.3" text-anchor="middle">-50</text>
<text x="266.21" y="350.1" font-size="10.3" text-anchor="middle">-40</text>
<text x="307.93" y="350.1" font-size="10.3" text-anchor="middle">-30</text>
<text x="349.64" y="350.1" font-size="10.3" text-anchor="middle">-20</text>
<path d="M224.5 337.5h2.5M224.5 332.5h2.5M224.5 328.5h2.5M224.5 325.5h2.5M224.5 322.5h2.5M224.5 320.5h2.5M224.5 317.5h2.5M224.5 303.5h2.5M224.5 296.5h2.5M224.5 291.5h2.5M224.5 287.5h2.5M224.5 284.5h2.5M224.5 281.5h2.5M224.5 279.5h2.5M224.5 277.5h2.5M224.5 263.5h2.5M224.5 255.5h2.5M224.5 250.5h2.5M224.5 246.5h2.5M224.5 243.5h2.5M224.5 240.5h2.5M224.5 238.5h2.5M224.5 236.5h2.5M224.5 316.5h4.5M224.5 275.5h4.5" stroke="#000" stroke-width="1" fill="none"/>
<text x="222.3" y="319.3" font-size="10.3" text-anchor="end">10</text>
<text x="222.9" y="279" font-size="10.3" text-anchor="end">10<tspan dy="-4" font-size="7.4">2</tspan></text>
<path d="M224.5 341.5L224.5 311.5L228.67 311.5L228.67 304.5L232.84 304.5L232.84 299.5L237.01 299.5L237.01 295.5L241.19 295.5L241.19 294.5L245.36 294.5L245.36 288.5L249.53 288.5L249.53 285.5L253.7 285.5L253.7 271.5L257.87 271.5L257.87 269.5L262.04 269.5L262.04 271.5L266.21 271.5L266.21 273.5L270.39 273.5L270.39 272.5L274.56 272.5L274.56 266.5L278.73 266.5L278.73 264.5L282.9 264.5L282.9 260.5L287.07 260.5L287.07 256.5L291.24 256.5L291.24 252.5L295.41 252.5L295.41 251.5L299.59 251.5L299.59 246.5L303.76 246.5L303.76 246.5L307.93 246.5L307.93 251.5L312.1 251.5L312.1 260.5L316.27 260.5L316.27 281.5L320.44 281.5L320.44 303.5L324.61 303.5L324.61 303.5L328.79 303.5L328.79 302.5L332.96 302.5L332.96 294.5L337.13 294.5L337.13 296.5L341.3 296.5L341.3 304.5L345.47 304.5L345.47 325.5L349.64 325.5L349.64 328.5L353.81 328.5L353.81 341.5" stroke="#000" stroke-width="1" fill="none" stroke-linejoin="miter"/>
<text x="224" y="232.9" font-size="10.97">Bump Bonding</text>
<rect x="423.5" y="236.5" width="146" height="105" fill="none" stroke="#000" stroke-width="1"/>
<path d="M423.5 341.5v-4.5M471.41 341.5v-4.5M519.32 341.5v-4.5M567.22 341.5v-4.5" stroke="#000" stroke-width="1" fill="none"/>
<text x="423.5" y="350.1" font-size="10.3" text-anchor="middle">0</text>
<text x="471.41" y="350.1" font-size="10.3" text-anchor="middle">20</text>
<text x="519.32" y="350.1" font-size="10.3" text-anchor="middle">40</text>
<text x="567.22" y="350.1" font-size="10.3" text-anchor="middle">60</text>
<path d="M423.5 340.5h2.5M423.5 338.5h2.5M423.5 336.5h2.5M423.5 335.5h2.5M423.5 333.5h2.5M423.5 324.5h2.5M423.5 319.5h2.5M423.5 316.5h2.5M423.5 313.5h2.5M423.5 311.5h2.5M423.5 309.5h2.5M423.5 307.5h2.5M423.5 306.5h2.5M423.5 297.5h2.5M423.5 292.5h2.5M423.5 288.5h2.5M423.5 286.5h2.5M423.5 284.5h2.5M423.5 282.5h2.5M423.5 280.5h2.5M423.5 279.5h2.5M423.5 270.5h2.5M423.5 265.5h2.5M423.5 261.5h2.5M423.5 259.5h2.5M423.5 257.5h2.5M423.5 255.5h2.5M423.5 253.5h2.5M423.5 252.5h2.5M423.5 242.5h2.5M423.5 238.5h2.5M423.5 332.5h4.5M423.5 305.5h4.5M423.5 278.5h4.5M423.5 251.5h4.5" stroke="#000" stroke-width="1" fill="none"/>
<text x="420.9" y="335.3" font-size="10.3" text-anchor="end">1</text>
<text x="421.3" y="308.3" font-size="10.3" text-anchor="end">10</text>
<text x="421.9" y="282" font-size="10.3" text-anchor="end">10<tspan dy="-4" font-size="7.4">2</tspan></text>
<text x="421.9" y="255" font-size="10.3" text-anchor="end">10<tspan dy="-4" font-size="7.4">3</tspan></text>
<path d="M423.5 341.5L456.37 341.5L456.37 299.36L459.15 299.36L459.15 260.26L461.71 260.26L461.71 243.16L464.06 243.16L464.06 245.73L466.41 245.73L466.41 258.12L468.76 258.12L468.76 287.39L471.32 287.39L471.32 313.25L473.68 313.25L473.68 341.45L569.5 341.5" stroke="#000" stroke-width="1" fill="none"/>
<path d="M423.5 341.5L461.28 341.5L461.28 332.48L464.06 332.48L464.06 276.28L466.41 276.28L466.41 257.05L468.76 257.05L468.76 250.21L471.32 250.21L471.32 250.21L473.68 250.21L473.68 252.78L476.03 252.78L476.03 260.26L478.38 260.26L478.38 282.26L480.94 282.26L480.94 324.36L483.29 324.36L483.29 341.45L569.5 341.5" stroke="#f00" stroke-width="1" fill="none"/>
<path d="M423.5 341.5L485.85 341.5L485.85 332.48L488.21 332.48L488.21 329.7L490.56 329.7L490.56 316.45L492.91 316.45L492.91 298.72L495.26 298.72L495.26 288.46L497.61 288.46L497.61 277.35L499.96 277.35L499.96 268.8L502.31 268.8L502.31 261.75L504.66 261.75L504.66 256.62L507.22 256.62L507.22 254.49L509.57 254.49L509.57 257.05L511.92 257.05L511.92 258.76L514.27 258.76L514.27 259.62L516.62 259.62L516.62 265.17L518.97 265.17L518.97 282.26L521.32 282.26L521.32 292.95L524.53 292.95L524.53 341.45L569.5 341.5" stroke="#00f" stroke-width="1" fill="none"/>
<path d="M423.5 341.5L495.47 341.5L495.47 324.79L499.96 324.79L499.96 300.21L502.31 300.21L502.31 292.95L504.66 292.95L504.66 286.54L507.22 286.54L507.22 276.28L509.57 276.28L509.57 272.44L511.92 272.44L511.92 268.8L514.27 268.8L514.27 264.53L516.62 264.53L516.62 263.89L518.97 263.89L518.97 258.12L521.32 258.12L521.32 255.98L523.68 255.98L523.68 255.34L526.03 255.34L526.03 254.49L528.59 254.49L528.59 264.53L530.94 264.53L530.94 282.26L533.29 282.26L533.29 306.2L535.85 306.2L535.85 324.36L538.21 324.36L538.21 332.48L540.56 332.48L540.56 341.45L569.5 341.5" stroke="#0f0" stroke-width="1" fill="none"/>
<text x="423" y="232.9" font-size="10.97">Trim Bit Test</text>
<text x="621.9" y="246.9" font-size="12" font-weight="bold">Summary</text>
<text x="732.2" y="246.9" font-size="12" font-weight="bold">0</text>
<text x="621.9" y="261.9" font-size="10.97">Dead Pixels:</text>
<text x="740.2" y="261.9" font-size="10.97">0</text>
<text x="621.9" y="274.88" font-size="10.97">Noisy Pixels:</text>
<text x="740.2" y="274.88" font-size="10.97">0</text>
<text x="621.9" y="287.86" font-size="10.97">Mask defects:</text>
<text x="740.2" y="287.86" font-size="10.97">0</text>
<text x="621.9" y="300.84" font-size="10.97">Dead Bumps:</text>
<text x="740.2" y="300.84" font-size="10.97">0</text>
<text x="621.9" y="313.82" font-size="10.97">Dead Trimbits:</text>
<text x="740.2" y="313.82" font-size="10.97">0</text>
<text x="621.9" y="326.8" font-size="10.97">Address Probl:</text>
<text x="740.2" y="326.8" font-size="10.97">0</text>
<g transform="translate(25 534) scale(2.80769 -1.31250)" shape-rendering="crispEdges" stroke="none">
<rect x="0" y="0" width="52" height="80" fill="#ff0000"/>
</g>
<g shape-rendering="crispEdges" stroke="none">
<rect x="172" y="528.75" width="8.5" height="5.3" fill="#6300ff"/>
<rect x="172" y="523.5" width="8.5" height="5.3" fill="#3300ff"/>
<rect x="172" y="518.25" width="8.5" height="5.3" fill="#0014ff"/>
<rect x="172" y="513" width="8.5" height="5.3" fill="#0044ff"/>
<rect x="172" y="507.75" width="8.5" height="5.3" fill="#008bff"/>
<rect x="172" y="502.5" width="8.5" height="5.3" fill="#00bbff"/>
<rect x="172" y="497.25" width="8.5" height="5.3" fill="#00fffc"/>
<rect x="172" y="492" width="8.5" height="5.3" fill="#00ffcc"/>
<rect x="172" y="486.75" width="8.5" height="5.3" fill="#00ff85"/>
<rect x="172" y="481.5" width="8.5" height="5.3" fill="#00ff55"/>
<rect x="172" y="476.25" width="8.5" height="5.3" fill="#00ff0e"/>
<rect x="172" y="471" width="8.5" height="5.3" fill="#22ff00"/>
<rect x="172" y="465.75" width="8.5" height="5.3" fill="#69ff00"/>
<rect x="172" y="460.5" width="8.5" height="5.3" fill="#99ff00"/>
<rect x="172" y="455.25" width="8.5" height="5.3" fill="#e0ff00"/>
<rect x="172" y="450" width="8.5" height="5.3" fill="#ffee00"/>
<rect x="172" y="444.75" width="8.5" height="5.3" fill="#ffa700"/>
<rect x="172" y="439.5" width="8.5" height="5.3" fill="#ff7700"/>
<rect x="172" y="434.25" width="8.5" height="5.3" fill="#ff3000"/>
<rect x="172" y="429" width="8.5" height="5.3" fill="#ff0000"/>
</g>
<text x="181.5" y="535.6" font-size="4.4" font-weight="bold" style="font-family:&quot;Liberation Sans&quot;,sans-serif">0</text>
<text x="181.5" y="525.1" font-size="4.4" font-weight="bold" style="font-family:&quot;Liberation Sans&quot;,sans-serif">0.1</text>
<text x="181.5" y="514.6" font-size="4.4" font-weight="bold" style="font-family:&quot;Liberation Sans&quot;,sans-serif">0.2</text>
<text x="181.5" y="504.1" font-size="4.4" font-weight="bold" style="font-family:&quot;Liberation Sans&quot;,sans-serif">0.3</text>
<text x="181.5" y="493.6" font-size="4.4" font-weight="bold" style="font-family:&quot;Liberation Sans&quot;,sans-serif">0.4</text>
<text x="181.5" y="483.1" font-size="4.4" font-weight="bold" style="font-family:&quot;Liberation Sans&quot;,sans-serif">0.5</text>
<text x="181.5" y="472.6" font-size="4.4" font-weight="bold" style="font-family:&quot;Liberation Sans&quot;,sans-serif">0.6</text>
<text x="181.5" y="462.1" font-size="4.4" font-weight="bold" style="font-family:&quot;Liberation Sans&quot;,sans-serif">0.7</text>
<text x="181.5" y="451.6" font-size="4.4" font-weight="bold" style="font-family:&quot;Liberation Sans&quot;,sans-serif">0.8</text>
<text x="181.5" y="441.1" font-size="4.4" font-weight="bold" style="font-family:&quot;Liberation Sans&quot;,sans-serif">0.9</text>
<text x="181.5" y="430.6" font-size="4.4" font-weight="bold" style="font-family:&quot;Liberation Sans&quot;,sans-serif">1</text>
<path d="M180.5 429V534M180.5 534h-4M180.5 523.5h-4M180.5 513h-4M180.5 502.5h-4M180.5 492h-4M180.5 481.5h-4M180.5 471h-4M180.5 460.5h-4M180.5 450h-4M180.5 439.5h-4M180.5 429h-4" stroke="#000" stroke-width="1" fill="none"/>
<path d="M25.5 429V534.5H171.5V429" stroke="#000" stroke-width="1" fill="none"/>
<path d="M25.5 534.5v-4.5M53.58 534.5v-4.5M81.65 534.5v-4.5M109.73 534.5v-4.5M137.81 534.5v-4.5M165.88 534.5v-4.5" stroke="#000" stroke-width="1" fill="none"/>
<text x="25.5" y="543.1" font-size="10.3" text-anchor="middle">0</text>
<text x="53.58" y="543.1" font-size="10.3" text-anchor="middle">10</text>
<text x="81.65" y="543.1" font-size="10.3" text-anchor="middle">20</text>
<text x="109.73" y="543.1" font-size="10.3" text-anchor="middle">30</text>
<text x="137.81" y="543.1" font-size="10.3" text-anchor="middle">40</text>
<text x="165.88" y="543.1" font-size="10.3" text-anchor="middle">50</text>
<path d="M25.5 534.5h4.5M25.5 520.5h4.5M25.5 507.5h4.5M25.5 494.5h4.5M25.5 481.5h4.5M25.5 468.5h4.5M25.5 455.5h4.5M25.5 442.5h4.5M25.5 429.5h4.5" stroke="#000" stroke-width="1" fill="none"/>
<text x="24.3" y="537.9" font-size="10.3" text-anchor="end">0</text>
<text x="24.3" y="523.9" font-size="10.3" text-anchor="end">10</text>
<text x="24.3" y="510.9" font-size="10.3" text-anchor="end">20</text>
<text x="24.3" y="497.9" font-size="10.3" text-anchor="end">30</text>
<text x="24.3" y="484.9" font-size="10.3" text-anchor="end">40</text>
<text x="24.3" y="471.9" font-size="10.3" text-anchor="end">50</text>
<text x="24.3" y="458.9" font-size="10.3" text-anchor="end">60</text>
<text x="24.3" y="445.9" font-size="10.3" text-anchor="end">70</text>
<text x="24.3" y="432.9" font-size="10.3" text-anchor="end">80</text>
<text x="25" y="425.9" font-size="10.97">Address decoding</text>
<rect x="224.5" y="429.5" width="146" height="105" fill="none" stroke="#000" stroke-width="1"/>
<path d="M237.77 534.5v-4.5M270.95 534.5v-4.5M304.14 534.5v-4.5M337.32 534.5v-4.5M370.5 534.5v-4.5" stroke="#000" stroke-width="1" fill="none"/>
<text x="237.77" y="543.1" font-size="10.3" text-anchor="middle">-1000</text>
<text x="270.95" y="543.1" font-size="10.3" text-anchor="middle">-500</text>
<text x="304.14" y="543.1" font-size="10.3" text-anchor="middle">0</text>
<text x="337.32" y="543.1" font-size="10.3" text-anchor="middle">500</text>
<text x="370.5" y="543.1" font-size="10.3" text-anchor="middle">1000</text>
<path d="M224.5 533.5h2.5M224.5 531.5h2.5M224.5 529.5h2.5M224.5 527.5h2.5M224.5 525.5h2.5M224.5 514.5h2.5M224.5 509.5h2.5M224.5 505.5h2.5M224.5 502.5h2.5M224.5 499.5h2.5M224.5 497.5h2.5M224.5 495.5h2.5M224.5 494.5h2.5M224.5 483.5h2.5M224.5 477.5h2.5M224.5 473.5h2.5M224.5 470.5h2.5M224.5 468.5h2.5M224.5 465.5h2.5M224.5 464.5h2.5M224.5 462.5h2.5M224.5 451.5h2.5M224.5 445.5h2.5M224.5 441.5h2.5M224.5 438.5h2.5M224.5 436.5h2.5M224.5 434.5h2.5M224.5 432.5h2.5M224.5 430.5h2.5M224.5 524.5h4.5M224.5 492.5h4.5M224.5 461.5h4.5M224.5 429.5h4.5" stroke="#000" stroke-width="1" fill="none"/>
<text x="221.9" y="527.3" font-size="10.3" text-anchor="end">1</text>
<text x="222.3" y="495.3" font-size="10.3" text-anchor="end">10</text>
<text x="222.9" y="465" font-size="10.3" text-anchor="end">10<tspan dy="-4" font-size="7.4">2</tspan></text>
<text x="222.9" y="433" font-size="10.3" text-anchor="end">10<tspan dy="-4" font-size="7.4">3</tspan></text>
<path d="M232.01 534.5L232.01 470.56L233.08 470.56L233.08 437.01L233.5 437.01L233.5 466.28L234.57 466.28L234.57 534.02" stroke="#000" stroke-width="1" fill="none"/>
<path d="M283.29 534.5L283.29 467.35L284.36 467.35L284.36 448.12L285.21 448.12L285.21 451.32L286.07 451.32L286.07 524.62L286.92 524.62L286.92 534.02" stroke="#000" stroke-width="1" fill="none"/>
<path d="M302.95 534.5L302.95 451.32L304.02 451.32L304.02 447.05L305.09 447.05L305.09 454.53L305.73 454.53L305.73 534.02" stroke="#000" stroke-width="1" fill="none"/>
<path d="M322.18 534.5L322.18 462.44L323.25 462.44L323.25 449.19L324.96 449.19L324.96 524.62L325.81 524.62L325.81 534.02" stroke="#000" stroke-width="1" fill="none"/>
<path d="M340.77 534.5L340.77 455.17L342.05 455.17L342.05 449.19L342.91 449.19L342.91 454.53L343.97 454.53L343.97 534.02" stroke="#000" stroke-width="1" fill="none"/>
<path d="M358.08 534.5L358.08 468.42L359.15 468.42L359.15 454.1L360.21 454.1L360.21 455.17L360.85 455.17L360.85 514.36L361.71 514.36L361.71 534.02" stroke="#000" stroke-width="1" fill="none"/>
<text x="224" y="425.9" font-size="10.97">Address Levels</text>
<rect x="423.5" y="429.5" width="146" height="105" fill="none" stroke="#000" stroke-width="1"/>
<path d="M445.96 534.5v-4.5M490.88 534.5v-4.5M535.81 534.5v-4.5" stroke="#000" stroke-width="1" fill="none"/>
<text x="445.96" y="543.1" font-size="10.3" text-anchor="middle">0</text>
<text x="490.88" y="543.1" font-size="10.3" text-anchor="middle">2</text>
<text x="535.81" y="543.1" font-size="10.3" text-anchor="middle">4</text>
<path d="M423.5 534.5h4.5M423.5 516.5h4.5M423.5 499.5h4.5M423.5 482.5h4.5M423.5 464.5h4.5M423.5 447.5h4.5M423.5 430.5h4.5" stroke="#000" stroke-width="1" fill="none"/>
<text x="422.3" y="537.9" font-size="10.3" text-anchor="end">0</text>
<text x="422.3" y="519.9" font-size="10.3" text-anchor="end">50</text>
<text x="422.3" y="502.9" font-size="10.3" text-anchor="end">100</text>
<text x="422.3" y="485.9" font-size="10.3" text-anchor="end">150</text>
<text x="422.3" y="467.9" font-size="10.3" text-anchor="end">200</text>
<text x="422.3" y="450.9" font-size="10.3" text-anchor="end">250</text>
<text x="422.3" y="433.9" font-size="10.3" text-anchor="end">300</text>
<path d="M480.51 534.5L480.51 533.16L484.79 533.16L484.79 532.52L487.99 532.52L487.99 531.45L489.49 531.45L489.49 529.96L491.2 529.96L491.2 527.82L492.91 527.82L492.91 526.11L494.62 526.11L494.62 520.77L495.9 520.77L495.9 514.36L497.18 514.36L497.18 506.45L498.46 506.45L498.46 494.06L499.74 494.06L499.74 487.65L501.03 487.65L501.03 472.69L502.31 472.69L502.31 460.3L503.16 460.3L503.16 441.71L504.02 441.71L504.02 434.23L504.66 434.23L504.66 441.71L505.73 441.71L505.73 447.05L506.58 447.05L506.58 460.3L507.44 460.3L507.44 476.97L508.29 476.97L508.29 495.13L509.15 495.13L509.15 509.02L510 509.02L510 519.7L510.85 519.7L510.85 526.11L511.71 526.11L511.71 532.52L514.7 532.52L514.7 534.02" stroke="#000" stroke-width="1" fill="none"/>
<text x="423" y="425.9" font-size="10.97">PH Calibration: Gain (ADC/DAC)</text>
<text x="432" y="438.7" font-size="10.05">N: 4160</text>
<text x="432" y="449.7" font-size="10.05">μ: 2.54</text>
<text x="432" y="459.8" font-size="10.05">σ: 0.17</text>
<defs><pattern id="dots" width="4" height="2" patternUnits="userSpaceOnUse"><rect x="2" y="0" width="1" height="1" fill="#f00"/><rect x="0" y="1" width="1" height="1" fill="#f00"/></pattern></defs>
<path d="M671.25 534.5L671.25 530.5L671.65 530.5L671.65 534.5L672.06 534.5L672.06 531.5L672.46 531.5L672.46 530.5L672.86 530.5L672.86 530.5L673.27 530.5L673.27 534.5L673.67 534.5L673.67 531.5L674.08 531.5L674.08 534.5L674.48 534.5L674.48 531.5L674.89 531.5L674.89 530.5L675.29 530.5L675.29 527.5L675.69 527.5L675.69 525.5L676.1 525.5L676.1 529.5L676.5 529.5L676.5 527.5L676.91 527.5L676.91 525.5L677.31 525.5L677.31 524.5L677.71 524.5L677.71 521.5L678.12 521.5L678.12 519.5L678.52 519.5L678.52 518.5L678.93 518.5L678.93 514.5L679.33 514.5L679.33 502.5L679.74 502.5L679.74 514.5L680.14 514.5L680.14 505.5L680.54 505.5L680.54 492.5L680.95 492.5L680.95 501.5L681.35 501.5L681.35 498.5L681.76 498.5L681.76 504.5L682.16 504.5L682.16 500.5L682.57 500.5L682.57 492.5L682.97 492.5L682.97 499.5L683.37 499.5L683.37 478.5L683.78 478.5L683.78 488.5L684.18 488.5L684.18 488.5L684.59 488.5L684.59 474.5L684.99 474.5L684.99 472.5L685.39 472.5L685.39 476.5L685.8 476.5L685.8 468.5L686.2 468.5L686.2 454.5L686.61 454.5L686.61 457.5L687.01 457.5L687.01 450.5L687.42 450.5L687.42 457.5L687.82 457.5L687.82 472.5L688.22 472.5L688.22 457.5L688.63 457.5L688.63 442.5L689.03 442.5L689.03 434.5L689.44 434.5L689.44 461.5L689.84 461.5L689.84 439.5L690.25 439.5L690.25 450.5L690.65 450.5L690.65 451.5L691.05 451.5L691.05 441.5L691.46 441.5L691.46 466.5L691.86 466.5L691.86 458.5L692.27 458.5L692.27 434.5L692.67 434.5L692.67 439.5L693.07 439.5L693.07 434.5L693.48 434.5L693.48 452.5L693.88 452.5L693.88 449.5L694.29 449.5L694.29 471.5L694.69 471.5L694.69 467.5L695.1 467.5L695.1 475.5L695.5 475.5L695.5 472.5L695.9 472.5L695.9 456.5L696.31 456.5L696.31 461.5L696.71 461.5L696.71 455.5L697.12 455.5L697.12 446.5L697.52 446.5L697.52 445.5L697.93 445.5L697.93 484.5L698.33 484.5L698.33 466.5L698.73 466.5L698.73 452.5L699.14 452.5L699.14 462.5L699.54 462.5L699.54 460.5L699.95 460.5L699.95 474.5L700.35 474.5L700.35 481.5L700.75 481.5L700.75 476.5L701.16 476.5L701.16 468.5L701.56 468.5L701.56 469.5L701.97 469.5L701.97 476.5L702.37 476.5L702.37 490.5L702.78 490.5L702.78 487.5L703.18 487.5L703.18 480.5L703.58 480.5L703.58 501.5L703.99 501.5L703.99 499.5L704.39 499.5L704.39 486.5L704.8 486.5L704.8 504.5L705.2 504.5L705.2 498.5L705.61 498.5L705.61 492.5L706.01 492.5L706.01 508.5L706.41 508.5L706.41 514.5L706.82 514.5L706.82 507.5L707.22 507.5L707.22 507.5L707.63 507.5L707.63 514.5L708.03 514.5L708.03 495.5L708.43 495.5L708.43 507.5L708.84 507.5L708.84 516.5L709.24 516.5L709.24 491.5L709.65 491.5L709.65 510.5L710.05 510.5L710.05 510.5L710.46 510.5L710.46 511.5L710.86 511.5L710.86 505.5L711.26 505.5L711.26 521.5L711.67 521.5L711.67 518.5L712.07 518.5L712.07 511.5L712.48 511.5L712.48 522.5L712.88 522.5L712.88 527.5L713.29 527.5L713.29 520.5L713.69 520.5L713.69 529.5L714.09 529.5L714.09 509.5L714.5 509.5L714.5 519.5L714.9 519.5L714.9 525.5L715.31 525.5L715.31 520.5L715.71 520.5L715.71 525.5L716.11 525.5L716.11 528.5L716.52 528.5L716.52 534.5L716.92 534.5L716.92 524.5L717.33 524.5L717.33 526.5L717.73 526.5L717.73 526.5L718.14 526.5L718.14 528.5L718.54 528.5L718.54 524.5L718.94 524.5L718.94 532.5L719.35 532.5L719.35 521.5L719.75 521.5L719.75 534.5z" fill="url(#dots)" stroke="none"/>
<path d="M622.74 534.5L622.74 534.5L623.15 534.5L623.15 534.5L623.55 534.5L623.55 534.5L623.96 534.5L623.96 534.5L624.36 534.5L624.36 534.5L624.76 534.5L624.76 534.5L625.17 534.5L625.17 534.5L625.57 534.5L625.57 534.5L625.98 534.5L625.98 534.5L626.38 534.5L626.38 534.5L626.78 534.5L626.78 534.5L627.19 534.5L627.19 534.5L627.59 534.5L627.59 534.5L628 534.5L628 534.5L628.4 534.5L628.4 534.5L628.81 534.5L628.81 534.5L629.21 534.5L629.21 534.5L629.61 534.5L629.61 534.5L630.02 534.5L630.02 534.5L630.42 534.5L630.42 534.5L630.83 534.5L630.83 534.5L631.23 534.5L631.23 534.5L631.64 534.5L631.64 534.5L632.04 534.5L632.04 534.5L632.44 534.5L632.44 534.5L632.85 534.5L632.85 534.5L633.25 534.5L633.25 534.5L633.66 534.5L633.66 534.5L634.06 534.5L634.06 534.5L634.46 534.5L634.46 534.5L634.87 534.5L634.87 534.5L635.27 534.5L635.27 534.5L635.68 534.5L635.68 534.5L636.08 534.5L636.08 534.5L636.49 534.5L636.49 534.5L636.89 534.5L636.89 534.5L637.29 534.5L637.29 534.5L637.7 534.5L637.7 534.5L638.1 534.5L638.1 534.5L638.51 534.5L638.51 534.5L638.91 534.5L638.91 534.5L639.32 534.5L639.32 534.5L639.72 534.5L639.72 534.5L640.12 534.5L640.12 534.5L640.53 534.5L640.53 534.5L640.93 534.5L640.93 534.5L641.34 534.5L641.34 534.5L641.74 534.5L641.74 534.5L642.14 534.5L642.14 534.5L642.55 534.5L642.55 534.5L642.95 534.5L642.95 534.5L643.36 534.5L643.36 534.5L643.76 534.5L643.76 534.5L644.17 534.5L644.17 534.5L644.57 534.5L644.57 534.5L644.97 534.5L644.97 534.5L645.38 534.5L645.38 534.5L645.78 534.5L645.78 534.5L646.19 534.5L646.19 534.5L646.59 534.5L646.59 534.5L647 534.5L647 534.5L647.4 534.5L647.4 534.5L647.8 534.5L647.8 534.5L648.21 534.5L648.21 534.5L648.61 534.5L648.61 534.5L649.02 534.5L649.02 534.5L649.42 534.5L649.42 534.5L649.82 534.5L649.82 534.5L650.23 534.5L650.23 534.5L650.63 534.5L650.63 534.5L651.04 534.5L651.04 534.5L651.44 534.5L651.44 534.5L651.85 534.5L651.85 534.5L652.25 534.5L652.25 534.5L652.65 534.5L652.65 534.5L653.06 534.5L653.06 534.5L653.46 534.5L653.46 534.5L653.87 534.5L653.87 534.5L654.27 534.5L654.27 534.5L654.67 534.5L654.67 534.5L655.08 534.5L655.08 534.5L655.48 534.5L655.48 534.5L655.89 534.5L655.89 534.5L656.29 534.5L656.29 534.5L656.7 534.5L656.7 534.5L657.1 534.5L657.1 534.5L657.5 534.5L657.5 534.5L657.91 534.5L657.91 534.5L658.31 534.5L658.31 534.5L658.72 534.5L658.72 534.5L659.12 534.5L659.12 534.5L659.53 534.5L659.53 534.5L659.93 534.5L659.93 534.5L660.33 534.5L660.33 534.5L660.74 534.5L660.74 534.5L661.14 534.5L661.14 534.5L661.55 534.5L661.55 534.5L661.95 534.5L661.95 534.5L662.35 534.5L662.35 534.5L662.76 534.5L662.76 534.5L663.16 534.5L663.16 534.5L663.57 534.5L663.57 534.5L663.97 534.5L663.97 534.5L664.38 534.5L664.38 534.5L664.78 534.5L664.78 534.5L665.18 534.5L665.18 534.5L665.59 534.5L665.59 534.5L665.99 534.5L665.99 534.5L666.4 534.5L666.4 534.5L666.8 534.5L666.8 534.5L667.21 534.5L667.21 534.5L667.61 534.5L667.61 534.5L668.01 534.5L668.01 534.5L668.42 534.5L668.42 534.5L668.82 534.5L668.82 531.5L669.23 531.5L669.23 534.5L669.63 534.5L669.63 532.5L670.03 532.5L670.03 534.5L670.44 534.5L670.44 532.5L670.84 532.5L670.84 531.5L671.25 531.5L671.25 530.5L671.65 530.5L671.65 534.5L672.06 534.5L672.06 531.5L672.46 531.5L672.46 530.5L672.86 530.5L672.86 530.5L673.27 530.5L673.27 534.5L673.67 534.5L673.67 531.5L674.08 531.5L674.08 534.5L674.48 534.5L674.48 531.5L674.89 531.5L674.89 530.5L675.29 530.5L675.29 527.5L675.69 527.5L675.69 525.5L676.1 525.5L676.1 529.5L676.5 529.5L676.5 527.5L676.91 527.5L676.91 525.5L677.31 525.5L677.31 524.5L677.71 524.5L677.71 521.5L678.12 521.5L678.12 519.5L678.52 519.5L678.52 518.5L678.93 518.5L678.93 514.5L679.33 514.5L679.33 502.5L679.74 502.5L679.74 514.5L680.14 514.5L680.14 505.5L680.54 505.5L680.54 492.5L680.95 492.5L680.95 501.5L681.35 501.5L681.35 498.5L681.76 498.5L681.76 504.5L682.16 504.5L682.16 500.5L682.57 500.5L682.57 492.5L682.97 492.5L682.97 499.5L683.37 499.5L683.37 478.5L683.78 478.5L683.78 488.5L684.18 488.5L684.18 488.5L684.59 488.5L684.59 474.5L684.99 474.5L684.99 472.5L685.39 472.5L685.39 476.5L685.8 476.5L685.8 468.5L686.2 468.5L686.2 454.5L686.61 454.5L686.61 457.5L687.01 457.5L687.01 450.5L687.42 450.5L687.42 457.5L687.82 457.5L687.82 472.5L688.22 472.5L688.22 457.5L688.63 457.5L688.63 442.5L689.03 442.5L689.03 434.5L689.44 434.5L689.44 461.5L689.84 461.5L689.84 439.5L690.25 439.5L690.25 450.5L690.65 450.5L690.65 451.5L691.05 451.5L691.05 441.5L691.46 441.5L691.46 466.5L691.86 466.5L691.86 458.5L692.27 458.5L692.27 434.5L692.67 434.5L692.67 439.5L693.07 439.5L693.07 434.5L693.48 434.5L693.48 452.5L693.88 452.5L693.88 449.5L694.29 449.5L694.29 471.5L694.69 471.5L694.69 467.5L695.1 467.5L695.1 475.5L695.5 475.5L695.5 472.5L695.9 472.5L695.9 456.5L696.31 456.5L696.31 461.5L696.71 461.5L696.71 455.5L697.12 455.5L697.12 446.5L697.52 446.5L697.52 445.5L697.93 445.5L697.93 484.5L698.33 484.5L698.33 466.5L698.73 466.5L698.73 452.5L699.14 452.5L699.14 462.5L699.54 462.5L699.54 460.5L699.95 460.5L699.95 474.5L700.35 474.5L700.35 481.5L700.75 481.5L700.75 476.5L701.16 476.5L701.16 468.5L701.56 468.5L701.56 469.5L701.97 469.5L701.97 476.5L702.37 476.5L702.37 490.5L702.78 490.5L702.78 487.5L703.18 487.5L703.18 480.5L703.58 480.5L703.58 501.5L703.99 501.5L703.99 499.5L704.39 499.5L704.39 486.5L704.8 486.5L704.8 504.5L705.2 504.5L705.2 498.5L705.61 498.5L705.61 492.5L706.01 492.5L706.01 508.5L706.41 508.5L706.41 514.5L706.82 514.5L706.82 507.5L707.22 507.5L707.22 507.5L707.63 507.5L707.63 514.5L708.03 514.5L708.03 495.5L708.43 495.5L708.43 507.5L708.84 507.5L708.84 516.5L709.24 516.5L709.24 491.5L709.65 491.5L709.65 510.5L710.05 510.5L710.05 510.5L710.46 510.5L710.46 511.5L710.86 511.5L710.86 505.5L711.26 505.5L711.26 521.5L711.67 521.5L711.67 518.5L712.07 518.5L712.07 511.5L712.48 511.5L712.48 522.5L712.88 522.5L712.88 527.5L713.29 527.5L713.29 520.5L713.69 520.5L713.69 529.5L714.09 529.5L714.09 509.5L714.5 509.5L714.5 519.5L714.9 519.5L714.9 525.5L715.31 525.5L715.31 520.5L715.71 520.5L715.71 525.5L716.11 525.5L716.11 528.5L716.52 528.5L716.52 534.5L716.92 534.5L716.92 524.5L717.33 524.5L717.33 526.5L717.73 526.5L717.73 526.5L718.14 526.5L718.14 528.5L718.54 528.5L718.54 524.5L718.94 524.5L718.94 532.5L719.35 532.5L719.35 521.5L719.75 521.5L719.75 532.5L720.16 532.5L720.16 525.5L720.56 525.5L720.56 530.5L720.97 530.5L720.97 534.5L721.37 534.5L721.37 534.5L721.77 534.5L721.77 529.5L722.18 529.5L722.18 534.5L722.58 534.5L722.58 534.5L722.99 534.5L722.99 531.5L723.39 531.5L723.39 534.5L723.79 534.5L723.79 531.5L724.2 531.5L724.2 531.5L724.6 531.5L724.6 534.5L725.01 534.5L725.01 531.5L725.41 531.5L725.41 532.5L725.82 532.5L725.82 531.5L726.22 531.5L726.22 529.5L726.62 529.5L726.62 532.5L727.03 532.5L727.03 528.5L727.43 528.5L727.43 534.5L727.84 534.5L727.84 529.5L728.24 529.5L728.24 534.5L728.65 534.5L728.65 534.5L729.05 534.5L729.05 531.5L729.45 531.5L729.45 532.5L729.86 532.5L729.86 532.5L730.26 532.5L730.26 534.5L730.67 534.5L730.67 532.5L731.07 532.5L731.07 534.5L731.47 534.5L731.47 531.5L731.88 531.5L731.88 529.5L732.28 529.5L732.28 532.5L732.69 532.5L732.69 529.5L733.09 529.5L733.09 534.5L733.5 534.5L733.5 532.5L733.9 532.5L733.9 532.5L734.3 532.5L734.3 534.5L734.71 534.5L734.71 532.5L735.11 532.5L735.11 532.5L735.52 532.5L735.52 530.5L735.92 530.5L735.92 534.5L736.33 534.5L736.33 534.5L736.73 534.5L736.73 534.5L737.13 534.5L737.13 534.5L737.54 534.5L737.54 532.5L737.94 532.5L737.94 534.5L738.35 534.5L738.35 530.5L738.75 530.5L738.75 534.5L739.15 534.5L739.15 532.5L739.56 532.5L739.56 534.5L739.96 534.5L739.96 534.5L740.37 534.5L740.37 532.5L740.77 532.5L740.77 532.5L741.18 532.5L741.18 534.5L741.58 534.5L741.58 532.5L741.98 532.5L741.98 534.5L742.39 534.5L742.39 534.5L742.79 534.5L742.79 534.5L743.2 534.5L743.2 532.5L743.6 532.5L743.6 534.5L744 534.5L744 534.5L744.41 534.5L744.41 534.5L744.81 534.5L744.81 534.5L745.22 534.5L745.22 534.5L745.62 534.5L745.62 534.5L746.03 534.5L746.03 532.5L746.43 532.5L746.43 534.5L746.83 534.5L746.83 534.5L747.24 534.5L747.24 534.5L747.64 534.5L747.64 534.5L748.05 534.5L748.05 534.5L748.45 534.5L748.45 534.5L748.86 534.5L748.86 534.5L749.26 534.5L749.26 534.5L749.66 534.5L749.66 534.5L750.07 534.5L750.07 534.5L750.47 534.5L750.47 534.5L750.88 534.5L750.88 534.5L751.28 534.5L751.28 534.5L751.68 534.5L751.68 532.5L752.09 532.5L752.09 534.5L752.49 534.5L752.49 534.5L752.9 534.5L752.9 534.5L753.3 534.5L753.3 534.5L753.71 534.5L753.71 534.5L754.11 534.5L754.11 534.5L754.51 534.5L754.51 534.5L754.92 534.5L754.92 534.5L755.32 534.5L755.32 534.5L755.73 534.5L755.73 532.5L756.13 532.5L756.13 532.5L756.54 532.5L756.54 534.5L756.94 534.5L756.94 534.5L757.34 534.5L757.34 534.5L757.75 534.5L757.75 534.5L758.15 534.5L758.15 534.5L758.56 534.5L758.56 534.5L758.96 534.5L758.96 534.5L759.36 534.5L759.36 534.5L759.77 534.5L759.77 534.5L760.17 534.5L760.17 534.5L760.58 534.5L760.58 534.5L760.98 534.5L760.98 534.5L761.39 534.5L761.39 534.5L761.79 534.5L761.79 534.5L762.19 534.5L762.19 534.5L762.6 534.5L762.6 534.5L763 534.5L763 534.5L763.41 534.5L763.41 534.5L763.81 534.5L763.81 534.5L764.22 534.5L764.22 534.5L764.62 534.5L764.62 534.5L765.02 534.5L765.02 534.5L765.43 534.5L765.43 534.5L765.83 534.5L765.83 534.5L766.24 534.5L766.24 534.5L766.64 534.5L766.64 534.5L767.04 534.5L767.04 534.5L767.45 534.5L767.45 534.5L767.85 534.5L767.85 534.5L768.26 534.5L768.26 534.5" stroke="#000" stroke-width="1" fill="none"/>
<path d="M671.3 474.4L671.3 534.5" stroke="#f00" stroke-width="1"/>
<path d="M719.6 474.4L719.6 534.5" stroke="#f00" stroke-width="1"/>
<rect x="622.5" y="429.5" width="146" height="105" fill="none" stroke="#000" stroke-width="1"/>
<path d="M627.59 534.5v-4.5M668.01 534.5v-4.5M708.43 534.5v-4.5M748.86 534.5v-4.5" stroke="#000" stroke-width="1" fill="none"/>
<text x="627.59" y="543.1" font-size="10.3" text-anchor="middle">200</text>
<text x="668.01" y="543.1" font-size="10.3" text-anchor="middle">300</text>
<text x="708.43" y="543.1" font-size="10.3" text-anchor="middle">400</text>
<text x="748.86" y="543.1" font-size="10.3" text-anchor="middle">500</text>
<path d="M622.5 534.5h4.5M622.5 511.5h4.5M622.5 489.5h4.5M622.5 467.5h4.5M622.5 445.5h4.5" stroke="#000" stroke-width="1" fill="none"/>
<text x="621.3" y="537.9" font-size="10.3" text-anchor="end">0</text>
<text x="621.3" y="514.9" font-size="10.3" text-anchor="end">20</text>
<text x="621.3" y="492.9" font-size="10.3" text-anchor="end">40</text>
<text x="621.3" y="470.9" font-size="10.3" text-anchor="end">60</text>
<text x="621.3" y="448.9" font-size="10.3" text-anchor="end">80</text>
<text x="622" y="425.9" font-size="10.97">PH Calibration: Pedestal (DAC)</text>
<text x="633" y="438.7" font-size="10.05">N: 4160</text>
<text x="633" y="449.7" font-size="10.05" style="fill:#f00">μ: 364.6</text>
<text x="633" y="459.8" font-size="10.05" style="fill:#f00">σ: 24.1</text>
<g transform="translate(25 727) scale(2.80769 -1.31250)" shape-rendering="crispEdges" stroke="none">
<rect x="0" y="0" width="52" height="80" fill="#22ff00"/>
<path fill="#0014ff" d="M19 9h1v1h-1z"/>
<path fill="#0044ff" d="M31 9h1v1h-1zM2 14h1v1h-1zM16 14h1v1h-1zM37 14h1v1h-1zM3 79h1v1h-1z"/>
<path fill="#00bbff" d="M7 0h1v1h-1zM0 2h1v1h-1zM6 2h1v1h-1zM50 3h1v1h-1zM11 4h1v1h-1zM23 4h2v1h-2zM46 5h1v1h-1zM21 6h1v1h-1zM0 7h1v1h-1zM17 7h1v1h-1zM19 7h1v1h-1zM7 8h1v1h-1zM48 11h1v1h-1zM6 14h1v1h-1zM23 14h1v1h-1zM1 18h1v1h-1zM18 18h1v1h-1zM26 18h1v1h-1zM10 21h1v1h-1zM12 21h1v1h-1zM19 24h1v1h-1zM31 30h1v1h-1zM31 31h1v1h-1zM38 46h1v1h-1zM8 79h1v1h-1zM18 79h1v1h-1zM48 79h1v1h-1z"/>
<path fill="#00fffc" d="M4 0h1v1h-1zM11 0h1v1h-1zM14 0h1v1h-1zM37 0h1v1h-1zM8 1h1v1h-1zM16 1h1v1h-1zM4 2h2v1h-2zM12 2h1v1h-1zM30 2h2v1h-2zM42 2h1v1h-1zM4 3h1v1h-1zM19 3h1v1h-1zM8 4h1v1h-1zM30 4h1v1h-1zM36 4h1v1h-1zM50 4h1v1h-1zM0 5h1v1h-1zM6 5h1v1h-1zM8 5h1v1h-1zM25 5h1v1h-1zM37 5h1v1h-1zM10 6h1v1h-1zM14 6h1v1h-1zM44 6h1v1h-1zM1 7h2v1h-2zM13 7h1v1h-1zM23 7h1v1h-1zM26 7h1v1h-1zM34 7h1v1h-1zM46 7h1v1h-1zM1 8h1v1h-1zM17 8h2v1h-2zM20 8h1v1h-1zM31 8h1v1h-1zM37 8h2v1h-2zM46 8h1v1h-1zM9 9h1v1h-1zM22 9h1v1h-1zM27 9h1v1h-1zM39 9h1v1h-1zM7 10h1v1h-1zM9 10h1v1h-1zM12 10h1v1h-1zM14 10h1v1h-1zM19 10h1v1h-1zM34 10h1v1h-1zM44 10h2v1h-2zM2 11h1v1h-1zM15 11h2v1h-2zM19 11h1v1h-1zM49 11h1v1h-1zM18 12h2v1h-2zM23 12h1v1h-1zM4 13h1v1h-1zM12 13h1v1h-1zM17 13h1v1h-1zM22 13h1v1h-1zM31 13h1v1h-1zM10 14h2v1h-2zM20 14h1v1h-1zM25 14h1v1h-1zM48 14h1v1h-1zM5 16h1v1h-1zM10 16h1v1h-1zM17 16h1v1h-1zM41 16h1v1h-1zM4 17h1v1h-1zM9 17h1v1h-1zM21 17h1v1h-1zM25 17h1v1h-1zM27 17h1v1h-1zM32 17h1v1h-1zM38 17h1v1h-1zM42 17h1v1h-1zM47 17h1v1h-1zM8 18h1v1h-1zM1 19h1v1h-1zM9 19h1v1h-1zM22 19h1v1h-1zM30 19h1v1h-1zM5 20h1v1h-1zM11 20h1v1h-1zM18 20h1v1h-1zM24 20h2v1h-2zM8 21h1v1h-1zM31 21h1v1h-1zM27 22h1v1h-1zM9 23h1v1h-1zM14 23h1v1h-1zM25 23h1v1h-1zM40 23h1v1h-1zM49 23h1v1h-1zM6 24h1v1h-1zM21 24h1v1h-1zM5 25h1v1h-1zM7 25h1v1h-1zM12 25h1v1h-1zM0 26h1v1h-1zM16 26h1v1h-1zM45 26h1v1h-1zM48 26h1v1h-1zM19 27h1v1h-1zM27 28h1v1h-1zM32 28h1v1h-1zM39 28h1v1h-1zM44 29h1v1h-1zM43 32h1v1h-1zM22 33h1v1h-1zM34 33h1v1h-1zM15 37h1v1h-1zM7 42h1v1h-1zM11 42h1v1h-1zM49 43h1v1h-1zM33 46h1v1h-1zM21 51h1v1h-1zM4 52h1v1h-1zM21 52h1v1h-1zM29 55h1v1h-1zM0 76h1v1h-1zM51 76h1v1h-1zM9 79h1v1h-1zM26 79h2v1h-2zM31 79h2v1h-2zM41 79h1v1h-1zM44 79h2v1h-2z"/>
<path fill="#00ffcc" d="M2 0h1v1h-1zM9 0h1v1h-1zM19 0h1v1h-1zM24 0h2v1h-2zM28 0h1v1h-1zM30 0h1v1h-1zM32 0h1v1h-1zM40 0h1v1h-1zM42 0h1v1h-1zM45 0h1v1h-1zM4 1h1v1h-1zM6 1h1v1h-1zM12 1h2v1h-2zM17 1h1v1h-1zM19 1h1v1h-1zM23 1h1v1h-1zM37 1h1v1h-1zM42 1h1v1h-1zM46 1h1v1h-1zM51 1h1v1h-1zM9 2h1v1h-1zM13 2h1v1h-1zM17 2h1v1h-1zM19 2h3v1h-3zM27 2h1v1h-1zM32 2h1v1h-1zM47 2h1v1h-1zM49 2h1v1h-1zM0 3h1v1h-1zM6 3h1v1h-1zM16 3h1v1h-1zM26 3h1v1h-1zM29 3h1v1h-1zM33 3h1v1h-1zM36 3h1v1h-1zM44 3h1v1h-1zM2 4h1v1h-1zM5 4h1v1h-1zM14 4h1v1h-1zM27 4h1v1h-1zM29 4h1v1h-1zM34 4h1v1h-1zM39 4h1v1h-1zM49 4h1v1h-1zM3 5h1v1h-1zM11 5h1v1h-1zM14 5h1v1h-1zM16 5h1v1h-1zM21 5h1v1h-1zM23 5h2v1h-2zM31 5h1v1h-1zM40 5h1v1h-1zM48 5h2v1h-2zM2 6h2v1h-2zM7 6h1v1h-1zM11 6h1v1h-1zM26 6h1v1h-1zM28 6h1v1h-1zM35 6h1v1h-1zM37 6h1v1h-1zM6 7h3v1h-3zM14 7h1v1h-1zM29 7h1v1h-1zM32 7h1v1h-1zM36 7h2v1h-2zM50 7h1v1h-1zM8 8h1v1h-1zM11 8h1v1h-1zM23 8h1v1h-1zM25 8h2v1h-2zM34 8h1v1h-1zM49 8h1v1h-1zM3 9h1v1h-1zM5 9h1v1h-1zM12 9h1v1h-1zM18 9h1v1h-1zM20 9h1v1h-1zM23 9h2v1h-2zM30 9h1v1h-1zM38 9h1v1h-1zM47 9h1v1h-1zM51 9h1v1h-1zM3 10h1v1h-1zM6 10h1v1h-1zM11 10h1v1h-1zM20 10h2v1h-2zM33 10h1v1h-1zM37 10h1v1h-1zM42 10h1v1h-1zM0 11h1v1h-1zM7 11h1v1h-1zM11 11h1v1h-1zM13 11h1v1h-1zM18 11h1v1h-1zM26 11h1v1h-1zM29 11h2v1h-2zM36 11h1v1h-1zM50 11h1v1h-1zM1 12h1v1h-1zM3 12h3v1h-3zM13 12h1v1h-1zM16 12h1v1h-1zM20 12h1v1h-1zM25 12h1v1h-1zM27 12h1v1h-1zM37 12h3v1h-3zM41 12h1v1h-1zM43 12h1v1h-1zM6 13h1v1h-1zM15 13h1v1h-1zM29 13h1v1h-1zM33 13h1v1h-1zM38 13h2v1h-2zM42 13h2v1h-2zM45 13h1v1h-1zM1 14h1v1h-1zM12 14h2v1h-2zM15 14h1v1h-1zM31 14h3v1h-3zM39 14h1v1h-1zM0 15h1v1h-1zM5 15h1v1h-1zM10 15h1v1h-1zM22 15h1v1h-1zM33 15h2v1h-2zM36 15h1v1h-1zM51 15h1v1h-1zM1 16h1v1h-1zM3 16h1v1h-1zM7 16h1v1h-1zM14 16h1v1h-1zM18 16h1v1h-1zM31 16h1v1h-1zM47 16h1v1h-1zM2 17h2v1h-2zM15 17h1v1h-1zM17 17h1v1h-1zM23 17h1v1h-1zM35 17h1v1h-1zM43 17h1v1h-1zM3 18h1v1h-1zM7 18h1v1h-1zM10 18h1v1h-1zM14 18h1v1h-1zM22 18h1v1h-1zM31 18h1v1h-1zM8 19h1v1h-1zM21 19h1v1h-1zM24 19h1v1h-1zM26 19h1v1h-1zM29 19h1v1h-1zM35 19h2v1h-2zM42 19h1v1h-1zM51 19h1v1h-1zM2 20h1v1h-1zM29 20h1v1h-1zM32 20h1v1h-1zM36 20h1v1h-1zM42 20h1v1h-1zM2 21h1v1h-1zM4 21h2v1h-2zM13 21h1v1h-1zM20 21h1v1h-1zM32 21h1v1h-1zM37 21h1v1h-1zM42 21h2v1h-2zM47 21h1v1h-1zM22 22h1v1h-1zM24 22h1v1h-1zM47 22h1v1h-1zM1 23h1v1h-1zM7 23h1v1h-1zM16 23h2v1h-2zM34 23h1v1h-1zM2 24h1v1h-1zM30 24h1v1h-1zM40 24h1v1h-1zM46 24h1v1h-1zM50 24h1v1h-1zM14 25h1v1h-1zM38 25h1v1h-1zM45 25h1v1h-1zM4 27h1v1h-1zM10 27h1v1h-1zM18 27h1v1h-1zM31 27h1v1h-1zM47 27h1v1h-1zM7 28h1v1h-1zM22 28h1v1h-1zM41 28h2v1h-2zM46 28h1v1h-1zM1 29h2v1h-2zM6 29h1v1h-1zM9 29h1v1h-1zM12 29h1v1h-1zM24 29h1v1h-1zM45 29h1v1h-1zM5 30h1v1h-1zM36 30h1v1h-1zM46 30h1v1h-1zM0 31h1v1h-1zM18 31h1v1h-1zM26 31h1v1h-1zM34 31h1v1h-1zM29 32h1v1h-1zM34 32h1v1h-1zM47 32h1v1h-1zM4 33h1v1h-1zM29 33h1v1h-1zM35 33h1v1h-1zM42 33h1v1h-1zM5 34h1v1h-1zM39 34h1v1h-1zM0 37h1v1h-1zM10 37h1v1h-1zM47 37h1v1h-1zM12 38h1v1h-1zM15 38h1v1h-1zM42 38h1v1h-1zM5 39h1v1h-1zM0 40h1v1h-1zM22 40h1v1h-1zM26 40h1v1h-1zM34 40h1v1h-1zM51 40h1v1h-1zM14 41h1v1h-1zM19 41h1v1h-1zM25 41h1v1h-1zM17 43h1v1h-1zM27 43h1v1h-1zM31 43h1v1h-1zM22 46h1v1h-1zM5 51h1v1h-1zM15 51h1v1h-1zM24 51h1v1h-1zM33 51h1v1h-1zM41 51h1v1h-1zM17 53h1v1h-1zM21 55h1v1h-1zM13 56h1v1h-1zM20 62h1v1h-1zM11 64h1v1h-1zM5 65h1v1h-1zM2 68h1v1h-1zM3 69h1v1h-1zM33 70h1v1h-1zM10 71h1v1h-1zM9 74h1v1h-1zM19 74h1v1h-1zM5 76h1v1h-1zM16 76h1v1h-1zM44 76h1v1h-1zM4 77h1v1h-1zM36 77h1v1h-1zM46 77h1v1h-1zM2 79h1v1h-1zM6 79h1v1h-1zM14 79h2v1h-2zM17 79h1v1h-1zM20 79h2v1h-2zM29 79h1v1h-1zM37 79h1v1h-1zM42 79h1v1h-1zM46 79h2v1h-2zM49 79h1v1h-1z"/>
<path fill="#00ff85" d="M6 0h1v1h-1zM10 0h1v1h-1zM13 0h1v1h-1zM17 0h1v1h-1zM22 0h2v1h-2zM33 0h1v1h-1zM38 0h1v1h-1zM44 0h1v1h-1zM48 0h1v1h-1zM0 1h2v1h-2zM9 1h1v1h-1zM20 1h2v1h-2zM24 1h2v1h-2zM29 1h7v1h-7zM45 1h1v1h-1zM48 1h1v1h-1zM50 1h1v1h-1zM2 2h1v1h-1zM7 2h1v1h-1zM11 2h1v1h-1zM25 2h1v1h-1zM28 2h1v1h-1zM39 2h1v1h-1zM41 2h1v1h-1zM44 2h1v1h-1zM46 2h1v1h-1zM48 2h1v1h-1zM2 3h1v1h-1zM9 3h2v1h-2zM12 3h2v1h-2zM15 3h1v1h-1zM17 3h2v1h-2zM21 3h1v1h-1zM31 3h1v1h-1zM35 3h1v1h-1zM41 3h1v1h-1zM3 4h1v1h-1zM6 4h2v1h-2zM9 4h1v1h-1zM15 4h2v1h-2zM18 4h1v1h-1zM28 4h1v1h-1zM44 4h2v1h-2zM47 4h1v1h-1zM51 4h1v1h-1zM1 5h1v1h-1zM4 5h2v1h-2zM7 5h1v1h-1zM9 5h2v1h-2zM13 5h1v1h-1zM15 5h1v1h-1zM20 5h1v1h-1zM22 5h1v1h-1zM26 5h1v1h-1zM33 5h1v1h-1zM35 5h2v1h-2zM43 5h1v1h-1zM45 5h1v1h-1zM50 5h1v1h-1zM0 6h1v1h-1zM6 6h1v1h-1zM8 6h1v1h-1zM16 6h3v1h-3zM20 6h1v1h-1zM23 6h1v1h-1zM31 6h1v1h-1zM33 6h1v1h-1zM38 6h3v1h-3zM45 6h2v1h-2zM48 6h1v1h-1zM4 7h1v1h-1zM12 7h1v1h-1zM16 7h1v1h-1zM22 7h1v1h-1zM30 7h1v1h-1zM42 7h1v1h-1zM47 7h2v1h-2zM0 8h1v1h-1zM2 8h2v1h-2zM5 8h1v1h-1zM9 8h1v1h-1zM12 8h1v1h-1zM24 8h1v1h-1zM29 8h1v1h-1zM36 8h1v1h-1zM39 8h1v1h-1zM41 8h1v1h-1zM4 9h1v1h-1zM6 9h1v1h-1zM8 9h1v1h-1zM10 9h1v1h-1zM15 9h3v1h-3zM28 9h1v1h-1zM35 9h2v1h-2zM41 9h1v1h-1zM44 9h1v1h-1zM46 9h1v1h-1zM0 10h1v1h-1zM13 10h1v1h-1zM17 10h1v1h-1zM23 10h1v1h-1zM27 10h2v1h-2zM32 10h1v1h-1zM51 10h1v1h-1zM1 11h1v1h-1zM4 11h2v1h-2zM23 11h1v1h-1zM28 11h1v1h-1zM35 11h1v1h-1zM38 11h1v1h-1zM40 11h1v1h-1zM42 11h1v1h-1zM45 11h1v1h-1zM15 12h1v1h-1zM17 12h1v1h-1zM24 12h1v1h-1zM26 12h1v1h-1zM29 12h1v1h-1zM33 12h1v1h-1zM45 12h1v1h-1zM0 13h1v1h-1zM19 13h1v1h-1zM24 13h1v1h-1zM26 13h1v1h-1zM34 13h2v1h-2zM49 13h3v1h-3zM5 14h1v1h-1zM7 14h2v1h-2zM14 14h1v1h-1zM22 14h1v1h-1zM24 14h1v1h-1zM29 14h2v1h-2zM38 14h1v1h-1zM40 14h3v1h-3zM51 14h1v1h-1zM2 15h3v1h-3zM7 15h1v1h-1zM12 15h4v1h-4zM24 15h1v1h-1zM28 15h1v1h-1zM31 15h2v1h-2zM35 15h1v1h-1zM37 15h1v1h-1zM39 15h2v1h-2zM43 15h1v1h-1zM48 15h1v1h-1zM2 16h1v1h-1zM8 16h1v1h-1zM11 16h2v1h-2zM27 16h1v1h-1zM29 16h1v1h-1zM33 16h5v1h-5zM39 16h2v1h-2zM42 16h2v1h-2zM48 16h1v1h-1zM1 17h1v1h-1zM6 17h1v1h-1zM13 17h1v1h-1zM18 17h2v1h-2zM24 17h1v1h-1zM34 17h1v1h-1zM36 17h2v1h-2zM41 17h1v1h-1zM44 17h1v1h-1zM48 17h1v1h-1zM2 18h1v1h-1zM11 18h1v1h-1zM25 18h1v1h-1zM32 18h1v1h-1zM36 18h2v1h-2zM45 18h1v1h-1zM3 19h1v1h-1zM5 19h1v1h-1zM11 19h2v1h-2zM18 19h1v1h-1zM23 19h1v1h-1zM32 19h1v1h-1zM38 19h2v1h-2zM41 19h1v1h-1zM44 19h2v1h-2zM47 19h2v1h-2zM3 20h1v1h-1zM13 20h1v1h-1zM21 20h3v1h-3zM31 20h1v1h-1zM35 20h1v1h-1zM38 20h1v1h-1zM11 21h1v1h-1zM14 21h1v1h-1zM17 21h1v1h-1zM19 21h1v1h-1zM24 21h3v1h-3zM28 21h1v1h-1zM36 21h1v1h-1zM44 21h1v1h-1zM2 22h1v1h-1zM9 22h1v1h-1zM12 22h1v1h-1zM25 22h2v1h-2zM31 22h1v1h-1zM38 22h1v1h-1zM49 22h1v1h-1zM2 23h1v1h-1zM4 23h2v1h-2zM8 23h1v1h-1zM12 23h2v1h-2zM15 23h1v1h-1zM18 23h1v1h-1zM20 23h2v1h-2zM26 23h1v1h-1zM28 23h1v1h-1zM37 23h1v1h-1zM42 23h1v1h-1zM44 23h1v1h-1zM47 23h1v1h-1zM50 23h1v1h-1zM12 24h1v1h-1zM17 24h2v1h-2zM22 24h2v1h-2zM25 24h2v1h-2zM28 24h1v1h-1zM33 24h1v1h-1zM36 24h2v1h-2zM45 24h1v1h-1zM47 24h1v1h-1zM2 25h1v1h-1zM22 25h1v1h-1zM25 25h1v1h-1zM39 25h2v1h-2zM46 25h1v1h-1zM3 26h1v1h-1zM5 26h1v1h-1zM9 26h1v1h-1zM14 26h2v1h-2zM29 26h1v1h-1zM33 26h3v1h-3zM51 26h1v1h-1zM0 27h2v1h-2zM15 27h1v1h-1zM20 27h1v1h-1zM23 27h1v1h-1zM25 27h1v1h-1zM28 27h1v1h-1zM39 27h1v1h-1zM1 28h1v1h-1zM4 28h1v1h-1zM6 28h1v1h-1zM8 28h2v1h-2zM11 28h1v1h-1zM18 28h1v1h-1zM38 28h1v1h-1zM50 28h1v1h-1zM4 29h1v1h-1zM8 29h1v1h-1zM11 29h1v1h-1zM18 29h1v1h-1zM21 29h1v1h-1zM23 29h1v1h-1zM41 29h2v1h-2zM0 30h1v1h-1zM3 30h1v1h-1zM16 30h1v1h-1zM21 30h2v1h-2zM39 30h2v1h-2zM1 31h1v1h-1zM6 31h1v1h-1zM8 31h2v1h-2zM15 31h1v1h-1zM30 31h1v1h-1zM44 31h1v1h-1zM47 31h1v1h-1zM11 32h1v1h-1zM35 32h1v1h-1zM38 32h1v1h-1zM0 33h1v1h-1zM3 33h1v1h-1zM8 33h2v1h-2zM12 33h2v1h-2zM20 33h1v1h-1zM28 33h1v1h-1zM50 33h1v1h-1zM1 34h2v1h-2zM4 34h1v1h-1zM19 34h1v1h-1zM30 34h1v1h-1zM40 34h1v1h-1zM48 34h1v1h-1zM11 35h1v1h-1zM17 35h1v1h-1zM28 35h1v1h-1zM38 35h1v1h-1zM44 35h1v1h-1zM0 36h3v1h-3zM4 36h1v1h-1zM22 36h1v1h-1zM39 36h1v1h-1zM3 37h1v1h-1zM5 37h1v1h-1zM7 37h1v1h-1zM26 37h1v1h-1zM33 38h1v1h-1zM48 38h1v1h-1zM7 39h1v1h-1zM16 39h2v1h-2zM33 39h1v1h-1zM35 39h1v1h-1zM50 39h1v1h-1zM28 40h1v1h-1zM36 40h1v1h-1zM48 40h1v1h-1zM0 41h2v1h-2zM31 41h1v1h-1zM35 41h1v1h-1zM3 42h1v1h-1zM16 42h1v1h-1zM33 42h1v1h-1zM44 42h1v1h-1zM51 42h1v1h-1zM33 43h1v1h-1zM8 44h1v1h-1zM16 44h1v1h-1zM27 44h1v1h-1zM40 44h1v1h-1zM44 44h1v1h-1zM47 44h1v1h-1zM37 45h1v1h-1zM18 46h1v1h-1zM23 46h1v1h-1zM21 47h1v1h-1zM25 47h1v1h-1zM29 47h1v1h-1zM31 47h1v1h-1zM0 48h1v1h-1zM21 48h1v1h-1zM24 48h1v1h-1zM14 49h1v1h-1zM17 49h1v1h-1zM39 49h2v1h-2zM7 50h1v1h-1zM13 50h1v1h-1zM33 50h1v1h-1zM36 50h1v1h-1zM30 51h1v1h-1zM36 51h1v1h-1zM6 52h1v1h-1zM15 52h2v1h-2zM29 52h1v1h-1zM46 52h1v1h-1zM35 53h1v1h-1zM39 53h1v1h-1zM2 54h1v1h-1zM14 54h1v1h-1zM43 54h1v1h-1zM27 55h1v1h-1zM33 55h1v1h-1zM26 56h1v1h-1zM27 57h1v1h-1zM29 57h4v1h-4zM37 57h1v1h-1zM45 57h1v1h-1zM3 59h1v1h-1zM32 59h1v1h-1zM12 60h1v1h-1zM43 60h1v1h-1zM51 60h1v1h-1zM31 61h1v1h-1zM7 63h1v1h-1zM20 63h1v1h-1zM49 63h1v1h-1zM8 64h1v1h-1zM29 64h1v1h-1zM38 64h1v1h-1zM24 65h1v1h-1zM47 65h2v1h-2zM4 66h1v1h-1zM19 66h1v1h-1zM1 67h1v1h-1zM23 67h1v1h-1zM21 68h1v1h-1zM49 68h1v1h-1zM14 69h1v1h-1zM30 69h1v1h-1zM18 70h1v1h-1zM29 70h1v1h-1zM7 71h1v1h-1zM9 71h1v1h-1zM7 72h1v1h-1zM24 72h1v1h-1zM26 72h1v1h-1zM49 72h1v1h-1zM16 73h1v1h-1zM19 73h1v1h-1zM33 73h1v1h-1zM49 73h1v1h-1zM44 74h2v1h-2zM21 75h1v1h-1zM28 75h2v1h-2zM33 75h1v1h-1zM38 75h1v1h-1zM3 76h1v1h-1zM29 76h2v1h-2zM47 76h1v1h-1zM2 77h1v1h-1zM9 77h1v1h-1zM13 77h1v1h-1zM26 77h1v1h-1zM42 77h1v1h-1zM30 78h1v1h-1zM0 79h1v1h-1zM4 79h1v1h-1zM7 79h1v1h-1zM10 79h3v1h-3zM22 79h4v1h-4zM28 79h1v1h-1zM30 79h1v1h-1zM36 79h1v1h-1zM38 79h3v1h-3zM43 79h1v1h-1zM50 79h2v1h-2z"/>
<path fill="#00ff0e" d="M0 0h2v1h-2zM3 0h1v1h-1zM12 0h1v1h-1zM15 0h1v1h-1zM18 0h1v1h-1zM20 0h2v1h-2zM27 0h1v1h-1zM35 0h1v1h-1zM39 0h1v1h-1zM43 0h1v1h-1zM46 0h2v1h-2zM2 1h2v1h-2zM10 1h2v1h-2zM14 1h1v1h-1zM18 1h1v1h-1zM26 1h1v1h-1zM38 1h1v1h-1zM40 1h2v1h-2zM43 1h2v1h-2zM1 2h1v1h-1zM3 2h1v1h-1zM8 2h1v1h-1zM18 2h1v1h-1zM24 2h1v1h-1zM34 2h3v1h-3zM5 3h1v1h-1zM7 3h2v1h-2zM22 3h4v1h-4zM32 3h1v1h-1zM34 3h1v1h-1zM38 3h1v1h-1zM40 3h1v1h-1zM42 3h1v1h-1zM45 3h2v1h-2zM1 4h1v1h-1zM10 4h1v1h-1zM12 4h1v1h-1zM17 4h1v1h-1zM19 4h2v1h-2zM22 4h1v1h-1zM26 4h1v1h-1zM31 4h2v1h-2zM35 4h1v1h-1zM38 4h1v1h-1zM41 4h2v1h-2zM46 4h1v1h-1zM48 4h1v1h-1zM12 5h1v1h-1zM18 5h2v1h-2zM32 5h1v1h-1zM38 5h1v1h-1zM47 5h1v1h-1zM4 6h2v1h-2zM9 6h1v1h-1zM12 6h2v1h-2zM22 6h1v1h-1zM24 6h2v1h-2zM29 6h1v1h-1zM32 6h1v1h-1zM34 6h1v1h-1zM47 6h1v1h-1zM49 6h3v1h-3zM3 7h1v1h-1zM5 7h1v1h-1zM9 7h2v1h-2zM21 7h1v1h-1zM24 7h1v1h-1zM28 7h1v1h-1zM33 7h1v1h-1zM35 7h1v1h-1zM39 7h1v1h-1zM41 7h1v1h-1zM45 7h1v1h-1zM4 8h1v1h-1zM6 8h1v1h-1zM13 8h4v1h-4zM21 8h2v1h-2zM27 8h2v1h-2zM32 8h1v1h-1zM44 8h1v1h-1zM47 8h2v1h-2zM0 9h1v1h-1zM2 9h1v1h-1zM7 9h1v1h-1zM13 9h2v1h-2zM25 9h2v1h-2zM32 9h2v1h-2zM42 9h1v1h-1zM45 9h1v1h-1zM1 10h2v1h-2zM4 10h1v1h-1zM8 10h1v1h-1zM10 10h1v1h-1zM15 10h2v1h-2zM18 10h1v1h-1zM22 10h1v1h-1zM29 10h1v1h-1zM35 10h1v1h-1zM39 10h1v1h-1zM41 10h1v1h-1zM43 10h1v1h-1zM46 10h1v1h-1zM48 10h2v1h-2zM3 11h1v1h-1zM8 11h2v1h-2zM12 11h1v1h-1zM14 11h1v1h-1zM17 11h1v1h-1zM20 11h1v1h-1zM24 11h1v1h-1zM27 11h1v1h-1zM32 11h1v1h-1zM41 11h1v1h-1zM46 11h1v1h-1zM2 12h1v1h-1zM6 12h2v1h-2zM9 12h2v1h-2zM14 12h1v1h-1zM21 12h2v1h-2zM28 12h1v1h-1zM30 12h3v1h-3zM34 12h1v1h-1zM40 12h1v1h-1zM48 12h1v1h-1zM50 12h1v1h-1zM2 13h2v1h-2zM5 13h1v1h-1zM9 13h2v1h-2zM16 13h1v1h-1zM18 13h1v1h-1zM23 13h1v1h-1zM25 13h1v1h-1zM27 13h1v1h-1zM30 13h1v1h-1zM32 13h1v1h-1zM36 13h2v1h-2zM40 13h2v1h-2zM46 13h3v1h-3zM17 14h2v1h-2zM26 14h3v1h-3zM34 14h2v1h-2zM44 14h1v1h-1zM1 15h1v1h-1zM6 15h1v1h-1zM8 15h1v1h-1zM16 15h2v1h-2zM20 15h2v1h-2zM25 15h1v1h-1zM27 15h1v1h-1zM29 15h2v1h-2zM38 15h1v1h-1zM41 15h1v1h-1zM46 15h1v1h-1zM49 15h1v1h-1zM0 16h1v1h-1zM6 16h1v1h-1zM9 16h1v1h-1zM15 16h1v1h-1zM20 16h1v1h-1zM23 16h2v1h-2zM26 16h1v1h-1zM30 16h1v1h-1zM32 16h1v1h-1zM45 16h1v1h-1zM50 16h1v1h-1zM5 17h1v1h-1zM10 17h2v1h-2zM14 17h1v1h-1zM16 17h1v1h-1zM22 17h1v1h-1zM26 17h1v1h-1zM29 17h3v1h-3zM46 17h1v1h-1zM49 17h1v1h-1zM51 17h1v1h-1zM0 18h1v1h-1zM4 18h2v1h-2zM9 18h1v1h-1zM12 18h1v1h-1zM23 18h1v1h-1zM27 18h3v1h-3zM34 18h1v1h-1zM38 18h1v1h-1zM44 18h1v1h-1zM47 18h2v1h-2zM0 19h1v1h-1zM10 19h1v1h-1zM13 19h1v1h-1zM16 19h1v1h-1zM20 19h1v1h-1zM25 19h1v1h-1zM31 19h1v1h-1zM33 19h1v1h-1zM37 19h1v1h-1zM0 20h2v1h-2zM8 20h1v1h-1zM10 20h1v1h-1zM12 20h1v1h-1zM14 20h1v1h-1zM16 20h1v1h-1zM19 20h2v1h-2zM26 20h2v1h-2zM34 20h1v1h-1zM37 20h1v1h-1zM39 20h2v1h-2zM44 20h2v1h-2zM49 20h2v1h-2zM1 21h1v1h-1zM3 21h1v1h-1zM6 21h1v1h-1zM9 21h1v1h-1zM16 21h1v1h-1zM18 21h1v1h-1zM22 21h2v1h-2zM49 21h3v1h-3zM0 22h2v1h-2zM3 22h4v1h-4zM18 22h1v1h-1zM21 22h1v1h-1zM23 22h1v1h-1zM30 22h1v1h-1zM35 22h1v1h-1zM40 22h1v1h-1zM44 22h3v1h-3zM0 23h1v1h-1zM10 23h1v1h-1zM19 23h1v1h-1zM23 23h2v1h-2zM29 23h5v1h-5zM38 23h1v1h-1zM45 23h1v1h-1zM48 23h1v1h-1zM4 24h1v1h-1zM7 24h2v1h-2zM10 24h2v1h-2zM14 24h2v1h-2zM32 24h1v1h-1zM34 24h1v1h-1zM39 24h1v1h-1zM41 24h2v1h-2zM44 24h1v1h-1zM48 24h1v1h-1zM4 25h1v1h-1zM13 25h1v1h-1zM15 25h1v1h-1zM21 25h1v1h-1zM23 25h1v1h-1zM26 25h1v1h-1zM33 25h2v1h-2zM50 25h2v1h-2zM4 26h1v1h-1zM12 26h1v1h-1zM17 26h2v1h-2zM22 26h1v1h-1zM26 26h1v1h-1zM28 26h1v1h-1zM36 26h1v1h-1zM39 26h2v1h-2zM49 26h2v1h-2zM3 27h1v1h-1zM7 27h1v1h-1zM14 27h1v1h-1zM16 27h1v1h-1zM30 27h1v1h-1zM33 27h1v1h-1zM36 27h3v1h-3zM45 27h1v1h-1zM49 27h1v1h-1zM10 28h1v1h-1zM12 28h2v1h-2zM16 28h2v1h-2zM21 28h1v1h-1zM23 28h1v1h-1zM26 28h1v1h-1zM28 28h1v1h-1zM35 28h3v1h-3zM44 28h1v1h-1zM0 29h1v1h-1zM3 29h1v1h-1zM5 29h1v1h-1zM15 29h1v1h-1zM19 29h1v1h-1zM26 29h1v1h-1zM28 29h1v1h-1zM30 29h1v1h-1zM34 29h1v1h-1zM39 29h2v1h-2zM43 29h1v1h-1zM4 30h1v1h-1zM6 30h1v1h-1zM10 30h1v1h-1zM12 30h1v1h-1zM19 30h1v1h-1zM24 30h3v1h-3zM29 30h1v1h-1zM35 30h1v1h-1zM38 30h1v1h-1zM42 30h2v1h-2zM45 30h1v1h-1zM47 30h1v1h-1zM4 31h1v1h-1zM7 31h1v1h-1zM23 31h1v1h-1zM32 31h1v1h-1zM35 31h1v1h-1zM39 31h1v1h-1zM41 31h1v1h-1zM49 31h2v1h-2zM1 32h1v1h-1zM4 32h1v1h-1zM6 32h1v1h-1zM12 32h1v1h-1zM15 32h1v1h-1zM19 32h1v1h-1zM24 32h1v1h-1zM28 32h1v1h-1zM32 32h1v1h-1zM41 32h1v1h-1zM46 32h1v1h-1zM51 32h1v1h-1zM1 33h1v1h-1zM7 33h1v1h-1zM10 33h1v1h-1zM16 33h1v1h-1zM31 33h1v1h-1zM40 33h1v1h-1zM46 33h2v1h-2zM3 34h1v1h-1zM20 34h1v1h-1zM26 34h1v1h-1zM32 34h1v1h-1zM35 34h2v1h-2zM42 34h1v1h-1zM1 35h2v1h-2zM13 35h1v1h-1zM15 35h1v1h-1zM19 35h1v1h-1zM21 35h1v1h-1zM24 35h1v1h-1zM32 35h2v1h-2zM35 35h1v1h-1zM37 35h1v1h-1zM43 35h1v1h-1zM45 35h1v1h-1zM51 35h1v1h-1zM5 36h2v1h-2zM8 36h1v1h-1zM18 36h1v1h-1zM23 36h1v1h-1zM25 36h1v1h-1zM28 36h2v1h-2zM41 36h1v1h-1zM1 37h1v1h-1zM9 37h1v1h-1zM16 37h1v1h-1zM21 37h2v1h-2zM25 37h1v1h-1zM28 37h1v1h-1zM7 38h1v1h-1zM9 38h1v1h-1zM29 38h2v1h-2zM44 38h1v1h-1zM0 39h2v1h-2zM11 39h1v1h-1zM26 39h1v1h-1zM1 40h1v1h-1zM4 40h1v1h-1zM7 40h1v1h-1zM9 40h2v1h-2zM13 40h2v1h-2zM20 40h2v1h-2zM30 40h1v1h-1zM41 40h3v1h-3zM49 40h2v1h-2zM10 41h1v1h-1zM12 41h1v1h-1zM21 41h1v1h-1zM27 41h1v1h-1zM33 41h1v1h-1zM38 41h1v1h-1zM42 41h1v1h-1zM44 41h1v1h-1zM48 41h1v1h-1zM13 42h1v1h-1zM15 42h1v1h-1zM18 42h1v1h-1zM20 42h2v1h-2zM34 42h1v1h-1zM39 42h1v1h-1zM47 42h1v1h-1zM50 42h1v1h-1zM3 43h1v1h-1zM13 43h2v1h-2zM22 43h1v1h-1zM38 43h1v1h-1zM45 43h1v1h-1zM12 44h1v1h-1zM18 44h1v1h-1zM20 44h1v1h-1zM31 44h1v1h-1zM38 44h1v1h-1zM8 45h1v1h-1zM20 45h1v1h-1zM26 45h2v1h-2zM43 45h1v1h-1zM47 45h1v1h-1zM6 46h1v1h-1zM10 46h1v1h-1zM12 46h1v1h-1zM20 46h1v1h-1zM29 46h1v1h-1zM44 46h1v1h-1zM51 46h1v1h-1zM1 47h1v1h-1zM3 47h2v1h-2zM11 47h1v1h-1zM17 47h1v1h-1zM20 47h1v1h-1zM24 47h1v1h-1zM42 47h1v1h-1zM44 47h1v1h-1zM1 48h2v1h-2zM7 48h1v1h-1zM9 48h1v1h-1zM12 48h1v1h-1zM23 48h1v1h-1zM31 48h2v1h-2zM50 48h2v1h-2zM4 49h1v1h-1zM35 49h2v1h-2zM4 50h1v1h-1zM16 50h1v1h-1zM18 50h1v1h-1zM22 50h1v1h-1zM25 50h1v1h-1zM48 50h1v1h-1zM51 50h1v1h-1zM0 51h1v1h-1zM7 51h1v1h-1zM13 51h1v1h-1zM16 51h1v1h-1zM26 51h1v1h-1zM31 51h2v1h-2zM42 51h1v1h-1zM3 52h1v1h-1zM11 52h1v1h-1zM23 52h1v1h-1zM26 52h1v1h-1zM31 52h1v1h-1zM12 53h1v1h-1zM14 53h1v1h-1zM47 53h1v1h-1zM23 54h1v1h-1zM27 54h1v1h-1zM32 54h1v1h-1zM4 55h1v1h-1zM7 55h1v1h-1zM13 55h1v1h-1zM22 55h1v1h-1zM35 55h1v1h-1zM41 55h1v1h-1zM43 55h2v1h-2zM46 55h1v1h-1zM22 56h2v1h-2zM25 56h1v1h-1zM27 56h1v1h-1zM49 56h1v1h-1zM51 56h1v1h-1zM7 57h1v1h-1zM21 57h1v1h-1zM23 57h1v1h-1zM26 57h1v1h-1zM46 57h1v1h-1zM15 58h1v1h-1zM29 58h2v1h-2zM33 58h1v1h-1zM39 58h1v1h-1zM50 58h1v1h-1zM4 59h1v1h-1zM12 59h1v1h-1zM21 59h1v1h-1zM25 59h2v1h-2zM29 59h1v1h-1zM36 59h1v1h-1zM0 60h1v1h-1zM8 60h1v1h-1zM17 60h1v1h-1zM32 60h1v1h-1zM38 60h1v1h-1zM15 61h1v1h-1zM28 61h1v1h-1zM33 61h1v1h-1zM35 61h1v1h-1zM48 61h2v1h-2zM8 62h2v1h-2zM11 62h1v1h-1zM14 62h2v1h-2zM42 62h1v1h-1zM45 62h1v1h-1zM48 62h1v1h-1zM4 63h1v1h-1zM13 63h1v1h-1zM15 63h1v1h-1zM41 63h1v1h-1zM47 63h1v1h-1zM50 63h1v1h-1zM3 64h1v1h-1zM5 64h1v1h-1zM20 64h3v1h-3zM30 64h1v1h-1zM49 64h1v1h-1zM51 64h1v1h-1zM1 65h1v1h-1zM8 65h1v1h-1zM12 65h1v1h-1zM19 65h1v1h-1zM25 65h1v1h-1zM35 65h1v1h-1zM49 65h1v1h-1zM2 66h1v1h-1zM8 66h1v1h-1zM12 66h1v1h-1zM20 66h1v1h-1zM32 66h1v1h-1zM35 66h1v1h-1zM3 67h1v1h-1zM12 67h1v1h-1zM25 67h2v1h-2zM31 67h1v1h-1zM38 67h1v1h-1zM40 67h1v1h-1zM44 67h1v1h-1zM47 67h1v1h-1zM51 67h1v1h-1zM6 68h1v1h-1zM15 68h1v1h-1zM42 68h1v1h-1zM44 68h1v1h-1zM50 68h1v1h-1zM8 69h1v1h-1zM11 69h1v1h-1zM21 69h1v1h-1zM23 69h1v1h-1zM36 69h1v1h-1zM0 70h1v1h-1zM12 70h1v1h-1zM14 70h1v1h-1zM25 70h1v1h-1zM32 70h1v1h-1zM34 70h1v1h-1zM8 71h1v1h-1zM13 71h1v1h-1zM17 71h1v1h-1zM24 71h1v1h-1zM28 71h3v1h-3zM41 71h1v1h-1zM49 71h1v1h-1zM0 72h2v1h-2zM10 72h2v1h-2zM16 72h2v1h-2zM21 72h1v1h-1zM45 72h3v1h-3zM14 73h1v1h-1zM21 73h1v1h-1zM29 73h2v1h-2zM40 73h1v1h-1zM1 74h1v1h-1zM7 74h2v1h-2zM13 74h1v1h-1zM15 74h1v1h-1zM34 74h2v1h-2zM40 74h1v1h-1zM47 74h2v1h-2zM50 74h1v1h-1zM1 75h1v1h-1zM12 75h1v1h-1zM20 75h1v1h-1zM23 75h2v1h-2zM36 75h1v1h-1zM45 75h1v1h-1zM47 75h1v1h-1zM13 76h1v1h-1zM40 76h1v1h-1zM49 76h1v1h-1zM1 77h1v1h-1zM11 77h1v1h-1zM16 77h1v1h-1zM20 77h2v1h-2zM29 77h1v1h-1zM49 77h1v1h-1zM1 78h1v1h-1zM7 78h2v1h-2zM12 78h1v1h-1zM14 78h1v1h-1zM16 78h1v1h-1zM22 78h1v1h-1zM25 78h2v1h-2zM28 78h2v1h-2zM31 78h1v1h-1zM33 78h1v1h-1zM35 78h1v1h-1zM39 78h1v1h-1zM44 78h1v1h-1zM46 78h1v1h-1zM5 79h1v1h-1zM13 79h1v1h-1zM19 79h1v1h-1zM34 79h2v1h-2z"/>
<path fill="#69ff00" d="M8 0h1v1h-1zM36 0h1v1h-1zM50 0h1v1h-1zM22 1h1v1h-1zM27 1h1v1h-1zM36 1h1v1h-1zM49 1h1v1h-1zM10 2h1v1h-1zM14 2h1v1h-1zM16 2h1v1h-1zM33 2h1v1h-1zM50 2h2v1h-2zM37 3h1v1h-1zM34 5h1v1h-1zM42 5h1v1h-1zM27 6h1v1h-1zM19 8h1v1h-1zM33 8h1v1h-1zM35 8h1v1h-1zM29 9h1v1h-1zM43 9h1v1h-1zM48 9h1v1h-1zM24 10h1v1h-1zM36 10h1v1h-1zM38 10h1v1h-1zM40 10h1v1h-1zM47 10h1v1h-1zM50 10h1v1h-1zM6 11h1v1h-1zM22 11h1v1h-1zM25 11h1v1h-1zM47 11h1v1h-1zM11 12h1v1h-1zM35 12h2v1h-2zM44 12h1v1h-1zM46 12h1v1h-1zM8 13h1v1h-1zM11 13h1v1h-1zM13 13h2v1h-2zM44 13h1v1h-1zM4 14h1v1h-1zM45 14h1v1h-1zM47 14h1v1h-1zM26 15h1v1h-1zM44 15h1v1h-1zM4 16h1v1h-1zM13 16h1v1h-1zM21 16h2v1h-2zM38 16h1v1h-1zM51 16h1v1h-1zM45 17h1v1h-1zM6 18h1v1h-1zM13 18h1v1h-1zM24 18h1v1h-1zM35 18h1v1h-1zM40 18h1v1h-1zM49 18h3v1h-3zM40 19h1v1h-1zM50 19h1v1h-1zM6 20h1v1h-1zM9 20h1v1h-1zM15 20h1v1h-1zM28 20h1v1h-1zM48 20h1v1h-1zM51 20h1v1h-1zM27 21h1v1h-1zM34 21h1v1h-1zM40 21h1v1h-1zM7 22h2v1h-2zM14 22h2v1h-2zM17 22h1v1h-1zM32 22h1v1h-1zM36 22h1v1h-1zM50 22h2v1h-2zM27 23h1v1h-1zM43 23h1v1h-1zM51 23h1v1h-1zM24 24h1v1h-1zM31 24h1v1h-1zM43 24h1v1h-1zM51 24h1v1h-1zM8 25h1v1h-1zM11 25h1v1h-1zM18 25h1v1h-1zM28 25h1v1h-1zM30 25h1v1h-1zM35 25h3v1h-3zM44 25h1v1h-1zM2 26h1v1h-1zM11 26h1v1h-1zM13 26h1v1h-1zM21 26h1v1h-1zM23 26h1v1h-1zM38 26h1v1h-1zM41 26h4v1h-4zM47 26h1v1h-1zM2 27h1v1h-1zM9 27h1v1h-1zM12 27h1v1h-1zM24 27h1v1h-1zM26 27h1v1h-1zM34 27h2v1h-2zM43 27h1v1h-1zM3 28h1v1h-1zM15 28h1v1h-1zM19 28h1v1h-1zM29 28h1v1h-1zM31 28h1v1h-1zM34 28h1v1h-1zM40 28h1v1h-1zM43 28h1v1h-1zM48 28h1v1h-1zM51 28h1v1h-1zM31 29h3v1h-3zM36 29h1v1h-1zM51 29h1v1h-1zM1 30h2v1h-2zM8 30h2v1h-2zM13 30h1v1h-1zM18 30h1v1h-1zM20 30h1v1h-1zM28 30h1v1h-1zM30 30h1v1h-1zM37 30h1v1h-1zM44 30h1v1h-1zM51 30h1v1h-1zM10 31h1v1h-1zM12 31h2v1h-2zM17 31h1v1h-1zM19 31h1v1h-1zM33 31h1v1h-1zM36 31h3v1h-3zM42 31h1v1h-1zM46 31h1v1h-1zM2 32h1v1h-1zM5 32h1v1h-1zM9 32h1v1h-1zM13 32h2v1h-2zM22 32h1v1h-1zM25 32h2v1h-2zM39 32h1v1h-1zM50 32h1v1h-1zM5 33h1v1h-1zM14 33h2v1h-2zM17 33h1v1h-1zM21 33h1v1h-1zM24 33h1v1h-1zM27 33h1v1h-1zM32 33h2v1h-2zM36 33h4v1h-4zM41 33h1v1h-1zM0 34h1v1h-1zM6 34h2v1h-2zM13 34h1v1h-1zM15 34h1v1h-1zM17 34h1v1h-1zM22 34h2v1h-2zM25 34h1v1h-1zM28 34h1v1h-1zM45 34h1v1h-1zM47 34h1v1h-1zM51 34h1v1h-1zM3 35h1v1h-1zM5 35h1v1h-1zM7 35h1v1h-1zM10 35h1v1h-1zM12 35h1v1h-1zM14 35h1v1h-1zM16 35h1v1h-1zM23 35h1v1h-1zM29 35h1v1h-1zM31 35h1v1h-1zM36 35h1v1h-1zM41 35h2v1h-2zM50 35h1v1h-1zM3 36h1v1h-1zM19 36h2v1h-2zM24 36h1v1h-1zM26 36h1v1h-1zM30 36h1v1h-1zM33 36h1v1h-1zM35 36h1v1h-1zM37 36h1v1h-1zM40 36h1v1h-1zM46 36h1v1h-1zM48 36h4v1h-4zM17 37h1v1h-1zM20 37h1v1h-1zM24 37h1v1h-1zM35 37h1v1h-1zM42 37h1v1h-1zM45 37h1v1h-1zM0 38h2v1h-2zM4 38h2v1h-2zM11 38h1v1h-1zM13 38h2v1h-2zM16 38h1v1h-1zM19 38h1v1h-1zM23 38h2v1h-2zM26 38h1v1h-1zM34 38h1v1h-1zM37 38h2v1h-2zM41 38h1v1h-1zM45 38h1v1h-1zM49 38h2v1h-2zM13 39h2v1h-2zM18 39h2v1h-2zM25 39h1v1h-1zM30 39h1v1h-1zM32 39h1v1h-1zM39 39h1v1h-1zM41 39h3v1h-3zM45 39h1v1h-1zM49 39h1v1h-1zM3 40h1v1h-1zM5 40h1v1h-1zM12 40h1v1h-1zM16 40h1v1h-1zM18 40h2v1h-2zM23 40h1v1h-1zM25 40h1v1h-1zM27 40h1v1h-1zM37 40h3v1h-3zM45 40h2v1h-2zM3 41h1v1h-1zM15 41h1v1h-1zM23 41h1v1h-1zM28 41h1v1h-1zM39 41h1v1h-1zM47 41h1v1h-1zM0 42h1v1h-1zM4 42h1v1h-1zM12 42h1v1h-1zM14 42h1v1h-1zM19 42h1v1h-1zM22 42h1v1h-1zM24 42h1v1h-1zM26 42h1v1h-1zM30 42h2v1h-2zM37 42h2v1h-2zM41 42h1v1h-1zM43 42h1v1h-1zM45 42h2v1h-2zM49 42h1v1h-1zM2 43h1v1h-1zM6 43h2v1h-2zM12 43h1v1h-1zM25 43h2v1h-2zM30 43h1v1h-1zM43 43h2v1h-2zM0 44h1v1h-1zM5 44h2v1h-2zM13 44h1v1h-1zM22 44h1v1h-1zM26 44h1v1h-1zM37 44h1v1h-1zM39 44h1v1h-1zM42 44h1v1h-1zM50 44h1v1h-1zM0 45h1v1h-1zM7 45h1v1h-1zM13 45h1v1h-1zM15 45h1v1h-1zM18 45h2v1h-2zM22 45h1v1h-1zM25 45h1v1h-1zM28 45h1v1h-1zM35 45h1v1h-1zM39 45h1v1h-1zM42 45h1v1h-1zM48 45h1v1h-1zM51 45h1v1h-1zM7 46h1v1h-1zM15 46h1v1h-1zM25 46h3v1h-3zM30 46h2v1h-2zM34 46h1v1h-1zM41 46h1v1h-1zM43 46h1v1h-1zM45 46h1v1h-1zM48 46h2v1h-2zM7 47h1v1h-1zM10 47h1v1h-1zM13 47h1v1h-1zM16 47h1v1h-1zM26 47h1v1h-1zM28 47h1v1h-1zM30 47h1v1h-1zM33 47h1v1h-1zM39 47h1v1h-1zM41 47h1v1h-1zM45 47h1v1h-1zM4 48h1v1h-1zM6 48h1v1h-1zM16 48h3v1h-3zM20 48h1v1h-1zM29 48h1v1h-1zM35 48h1v1h-1zM37 48h1v1h-1zM45 48h1v1h-1zM0 49h3v1h-3zM7 49h4v1h-4zM13 49h1v1h-1zM15 49h1v1h-1zM20 49h1v1h-1zM22 49h1v1h-1zM25 49h1v1h-1zM27 49h1v1h-1zM32 49h3v1h-3zM51 49h1v1h-1zM12 50h1v1h-1zM14 50h1v1h-1zM20 50h2v1h-2zM24 50h1v1h-1zM28 50h1v1h-1zM37 50h1v1h-1zM40 50h1v1h-1zM47 50h1v1h-1zM50 50h1v1h-1zM2 51h3v1h-3zM11 51h1v1h-1zM14 51h1v1h-1zM19 51h1v1h-1zM25 51h1v1h-1zM34 51h1v1h-1zM39 51h1v1h-1zM44 51h1v1h-1zM46 51h1v1h-1zM50 51h2v1h-2zM1 52h1v1h-1zM7 52h1v1h-1zM9 52h1v1h-1zM17 52h1v1h-1zM25 52h1v1h-1zM32 52h1v1h-1zM34 52h2v1h-2zM37 52h2v1h-2zM42 52h1v1h-1zM45 52h1v1h-1zM48 52h1v1h-1zM51 52h1v1h-1zM5 53h1v1h-1zM11 53h1v1h-1zM15 53h1v1h-1zM25 53h2v1h-2zM38 53h1v1h-1zM42 53h1v1h-1zM44 53h2v1h-2zM48 53h1v1h-1zM50 53h1v1h-1zM0 54h1v1h-1zM4 54h1v1h-1zM6 54h1v1h-1zM11 54h3v1h-3zM22 54h1v1h-1zM26 54h1v1h-1zM30 54h1v1h-1zM36 54h1v1h-1zM39 54h1v1h-1zM41 54h1v1h-1zM46 54h1v1h-1zM48 54h1v1h-1zM1 55h1v1h-1zM3 55h1v1h-1zM15 55h1v1h-1zM25 55h2v1h-2zM30 55h2v1h-2zM38 55h2v1h-2zM48 55h3v1h-3zM4 56h1v1h-1zM7 56h1v1h-1zM10 56h2v1h-2zM14 56h1v1h-1zM18 56h1v1h-1zM21 56h1v1h-1zM28 56h1v1h-1zM34 56h1v1h-1zM38 56h2v1h-2zM43 56h1v1h-1zM46 56h2v1h-2zM3 57h1v1h-1zM14 57h1v1h-1zM44 57h1v1h-1zM49 57h1v1h-1zM3 58h1v1h-1zM5 58h1v1h-1zM13 58h1v1h-1zM21 58h1v1h-1zM25 58h1v1h-1zM27 58h2v1h-2zM32 58h1v1h-1zM35 58h2v1h-2zM42 58h3v1h-3zM46 58h1v1h-1zM48 58h2v1h-2zM51 58h1v1h-1zM8 59h1v1h-1zM17 59h1v1h-1zM24 59h1v1h-1zM28 59h1v1h-1zM34 59h2v1h-2zM39 59h2v1h-2zM44 59h1v1h-1zM48 59h3v1h-3zM3 60h1v1h-1zM5 60h1v1h-1zM9 60h2v1h-2zM18 60h1v1h-1zM20 60h1v1h-1zM25 60h4v1h-4zM30 60h2v1h-2zM35 60h1v1h-1zM44 60h1v1h-1zM48 60h1v1h-1zM6 61h1v1h-1zM9 61h1v1h-1zM11 61h1v1h-1zM16 61h1v1h-1zM21 61h2v1h-2zM27 61h1v1h-1zM30 61h1v1h-1zM34 61h1v1h-1zM38 61h1v1h-1zM42 61h1v1h-1zM44 61h2v1h-2zM50 61h1v1h-1zM3 62h1v1h-1zM7 62h1v1h-1zM12 62h2v1h-2zM16 62h1v1h-1zM18 62h2v1h-2zM22 62h3v1h-3zM26 62h1v1h-1zM28 62h1v1h-1zM31 62h1v1h-1zM33 62h1v1h-1zM41 62h1v1h-1zM47 62h1v1h-1zM50 62h1v1h-1zM1 63h3v1h-3zM14 63h1v1h-1zM16 63h1v1h-1zM19 63h1v1h-1zM22 63h1v1h-1zM24 63h1v1h-1zM29 63h1v1h-1zM32 63h1v1h-1zM43 63h1v1h-1zM46 63h1v1h-1zM51 63h1v1h-1zM0 64h2v1h-2zM6 64h1v1h-1zM9 64h1v1h-1zM13 64h3v1h-3zM18 64h2v1h-2zM26 64h1v1h-1zM32 64h1v1h-1zM35 64h1v1h-1zM41 64h2v1h-2zM45 64h2v1h-2zM2 65h1v1h-1zM4 65h1v1h-1zM7 65h1v1h-1zM16 65h1v1h-1zM18 65h1v1h-1zM23 65h1v1h-1zM28 65h1v1h-1zM39 65h1v1h-1zM42 65h1v1h-1zM46 65h1v1h-1zM0 66h1v1h-1zM6 66h1v1h-1zM14 66h2v1h-2zM17 66h2v1h-2zM23 66h2v1h-2zM34 66h1v1h-1zM36 66h1v1h-1zM41 66h1v1h-1zM43 66h1v1h-1zM47 66h2v1h-2zM8 67h2v1h-2zM19 67h1v1h-1zM29 67h2v1h-2zM39 67h1v1h-1zM45 67h2v1h-2zM48 67h1v1h-1zM50 67h1v1h-1zM0 68h1v1h-1zM3 68h2v1h-2zM7 68h1v1h-1zM11 68h2v1h-2zM14 68h1v1h-1zM19 68h1v1h-1zM26 68h1v1h-1zM28 68h1v1h-1zM32 68h2v1h-2zM36 68h1v1h-1zM38 68h2v1h-2zM43 68h1v1h-1zM51 68h1v1h-1zM0 69h1v1h-1zM4 69h1v1h-1zM10 69h1v1h-1zM13 69h1v1h-1zM20 69h1v1h-1zM25 69h1v1h-1zM27 69h1v1h-1zM32 69h4v1h-4zM37 69h1v1h-1zM45 69h2v1h-2zM2 70h1v1h-1zM7 70h1v1h-1zM16 70h1v1h-1zM19 70h1v1h-1zM27 70h2v1h-2zM31 70h1v1h-1zM36 70h1v1h-1zM38 70h1v1h-1zM41 70h2v1h-2zM44 70h1v1h-1zM50 70h2v1h-2zM0 71h1v1h-1zM4 71h1v1h-1zM20 71h2v1h-2zM25 71h1v1h-1zM32 71h1v1h-1zM36 71h1v1h-1zM39 71h1v1h-1zM44 71h1v1h-1zM2 72h2v1h-2zM6 72h1v1h-1zM9 72h1v1h-1zM25 72h1v1h-1zM28 72h3v1h-3zM33 72h1v1h-1zM35 72h1v1h-1zM41 72h1v1h-1zM2 73h1v1h-1zM4 73h2v1h-2zM7 73h1v1h-1zM9 73h1v1h-1zM12 73h1v1h-1zM15 73h1v1h-1zM18 73h1v1h-1zM20 73h1v1h-1zM24 73h2v1h-2zM27 73h1v1h-1zM35 73h1v1h-1zM37 73h2v1h-2zM41 73h1v1h-1zM43 73h4v1h-4zM51 73h1v1h-1zM0 74h1v1h-1zM2 74h1v1h-1zM6 74h1v1h-1zM16 74h1v1h-1zM18 74h1v1h-1zM23 74h1v1h-1zM27 74h1v1h-1zM31 74h1v1h-1zM33 74h1v1h-1zM36 74h1v1h-1zM39 74h1v1h-1zM51 74h1v1h-1zM0 75h1v1h-1zM2 75h1v1h-1zM5 75h2v1h-2zM15 75h5v1h-5zM22 75h1v1h-1zM26 75h2v1h-2zM34 75h1v1h-1zM37 75h1v1h-1zM39 75h1v1h-1zM42 75h2v1h-2zM1 76h1v1h-1zM4 76h1v1h-1zM8 76h1v1h-1zM11 76h1v1h-1zM14 76h2v1h-2zM21 76h1v1h-1zM23 76h1v1h-1zM26 76h1v1h-1zM28 76h1v1h-1zM32 76h2v1h-2zM35 76h1v1h-1zM37 76h1v1h-1zM39 76h1v1h-1zM43 76h1v1h-1zM0 77h1v1h-1zM3 77h1v1h-1zM5 77h2v1h-2zM8 77h1v1h-1zM14 77h2v1h-2zM19 77h1v1h-1zM23 77h1v1h-1zM38 77h1v1h-1zM4 78h1v1h-1zM6 78h1v1h-1zM10 78h2v1h-2zM18 78h2v1h-2zM24 78h1v1h-1zM27 78h1v1h-1zM34 78h1v1h-1zM40 78h1v1h-1zM42 78h1v1h-1zM47 78h1v1h-1zM50 78h2v1h-2zM16 79h1v1h-1z"/>
<path fill="#99ff00" d="M47 1h1v1h-1zM27 5h1v1h-1zM41 5h1v1h-1zM38 7h1v1h-1zM37 9h1v1h-1zM40 9h1v1h-1zM47 12h1v1h-1zM7 13h1v1h-1zM21 13h1v1h-1zM9 14h1v1h-1zM23 15h1v1h-1zM45 15h1v1h-1zM28 16h1v1h-1zM44 16h1v1h-1zM33 17h1v1h-1zM46 18h1v1h-1zM4 19h1v1h-1zM19 19h1v1h-1zM27 19h1v1h-1zM46 19h1v1h-1zM4 20h1v1h-1zM47 20h1v1h-1zM35 21h1v1h-1zM48 21h1v1h-1zM16 22h1v1h-1zM20 22h1v1h-1zM41 22h2v1h-2zM11 23h1v1h-1zM22 23h1v1h-1zM49 24h1v1h-1zM0 25h1v1h-1zM17 25h1v1h-1zM31 25h1v1h-1zM10 26h1v1h-1zM24 26h2v1h-2zM32 26h1v1h-1zM13 27h1v1h-1zM32 27h1v1h-1zM40 27h1v1h-1zM50 27h2v1h-2zM0 28h1v1h-1zM14 28h1v1h-1zM25 28h1v1h-1zM33 28h1v1h-1zM29 29h1v1h-1zM48 29h2v1h-2zM33 30h1v1h-1zM25 31h1v1h-1zM16 32h1v1h-1zM23 32h1v1h-1zM30 32h2v1h-2zM33 32h1v1h-1zM44 32h1v1h-1zM30 33h1v1h-1zM43 33h3v1h-3zM48 33h1v1h-1zM51 33h1v1h-1zM9 34h1v1h-1zM12 34h1v1h-1zM16 34h1v1h-1zM33 34h2v1h-2zM46 34h1v1h-1zM49 34h1v1h-1zM30 35h1v1h-1zM34 35h1v1h-1zM46 35h1v1h-1zM10 36h1v1h-1zM16 36h1v1h-1zM27 36h1v1h-1zM34 36h1v1h-1zM36 36h1v1h-1zM38 36h1v1h-1zM2 37h1v1h-1zM8 37h1v1h-1zM29 37h1v1h-1zM31 37h1v1h-1zM34 37h1v1h-1zM36 37h1v1h-1zM38 37h1v1h-1zM41 37h1v1h-1zM46 37h1v1h-1zM49 37h1v1h-1zM51 37h1v1h-1zM2 38h1v1h-1zM25 38h1v1h-1zM32 38h1v1h-1zM36 38h1v1h-1zM39 38h2v1h-2zM43 38h1v1h-1zM20 39h4v1h-4zM36 39h2v1h-2zM40 39h1v1h-1zM47 39h1v1h-1zM2 40h1v1h-1zM8 40h1v1h-1zM29 40h1v1h-1zM4 41h2v1h-2zM7 41h1v1h-1zM16 41h1v1h-1zM18 41h1v1h-1zM22 41h1v1h-1zM29 41h1v1h-1zM34 41h1v1h-1zM37 41h1v1h-1zM49 41h1v1h-1zM51 41h1v1h-1zM1 42h1v1h-1zM5 42h1v1h-1zM17 42h1v1h-1zM23 42h1v1h-1zM25 42h1v1h-1zM29 42h1v1h-1zM40 42h1v1h-1zM0 43h2v1h-2zM4 43h1v1h-1zM19 43h2v1h-2zM23 43h1v1h-1zM32 43h1v1h-1zM34 43h1v1h-1zM36 43h1v1h-1zM39 43h2v1h-2zM46 43h3v1h-3zM50 43h1v1h-1zM9 44h1v1h-1zM15 44h1v1h-1zM21 44h1v1h-1zM25 44h1v1h-1zM28 44h1v1h-1zM30 44h1v1h-1zM35 44h1v1h-1zM43 44h1v1h-1zM46 44h1v1h-1zM1 45h1v1h-1zM3 45h1v1h-1zM5 45h1v1h-1zM14 45h1v1h-1zM29 45h2v1h-2zM32 45h1v1h-1zM40 45h1v1h-1zM44 45h1v1h-1zM46 45h1v1h-1zM49 45h1v1h-1zM14 46h1v1h-1zM16 46h1v1h-1zM37 46h1v1h-1zM8 47h2v1h-2zM12 47h1v1h-1zM32 47h1v1h-1zM34 47h1v1h-1zM37 47h1v1h-1zM46 47h1v1h-1zM49 47h1v1h-1zM5 48h1v1h-1zM8 48h1v1h-1zM13 48h1v1h-1zM15 48h1v1h-1zM22 48h1v1h-1zM27 48h1v1h-1zM36 48h1v1h-1zM38 48h1v1h-1zM43 48h2v1h-2zM46 48h1v1h-1zM12 49h1v1h-1zM23 49h1v1h-1zM26 49h1v1h-1zM37 49h1v1h-1zM41 49h1v1h-1zM43 49h1v1h-1zM46 49h1v1h-1zM49 49h2v1h-2zM0 50h2v1h-2zM5 50h2v1h-2zM15 50h1v1h-1zM29 50h3v1h-3zM34 50h1v1h-1zM39 50h1v1h-1zM10 51h1v1h-1zM20 51h1v1h-1zM22 51h1v1h-1zM28 51h2v1h-2zM35 51h1v1h-1zM37 51h2v1h-2zM43 51h1v1h-1zM45 51h1v1h-1zM47 51h1v1h-1zM0 52h1v1h-1zM13 52h2v1h-2zM18 52h1v1h-1zM24 52h1v1h-1zM27 52h1v1h-1zM30 52h1v1h-1zM36 52h1v1h-1zM40 52h1v1h-1zM43 52h2v1h-2zM47 52h1v1h-1zM1 53h1v1h-1zM6 53h1v1h-1zM18 53h1v1h-1zM21 53h1v1h-1zM27 53h1v1h-1zM29 53h1v1h-1zM31 53h1v1h-1zM33 53h1v1h-1zM36 53h2v1h-2zM40 53h2v1h-2zM46 53h1v1h-1zM49 53h1v1h-1zM1 54h1v1h-1zM3 54h1v1h-1zM9 54h1v1h-1zM24 54h1v1h-1zM28 54h2v1h-2zM31 54h1v1h-1zM35 54h1v1h-1zM44 54h1v1h-1zM47 54h1v1h-1zM6 55h1v1h-1zM11 55h1v1h-1zM16 55h1v1h-1zM19 55h2v1h-2zM23 55h2v1h-2zM28 55h1v1h-1zM42 55h1v1h-1zM0 56h1v1h-1zM2 56h2v1h-2zM6 56h1v1h-1zM8 56h1v1h-1zM15 56h1v1h-1zM19 56h1v1h-1zM29 56h1v1h-1zM33 56h1v1h-1zM35 56h3v1h-3zM44 56h2v1h-2zM50 56h1v1h-1zM0 57h1v1h-1zM5 57h1v1h-1zM10 57h1v1h-1zM17 57h3v1h-3zM24 57h1v1h-1zM33 57h1v1h-1zM35 57h1v1h-1zM38 57h1v1h-1zM40 57h1v1h-1zM42 57h2v1h-2zM51 57h1v1h-1zM0 58h1v1h-1zM9 58h1v1h-1zM12 58h1v1h-1zM20 58h1v1h-1zM23 58h1v1h-1zM38 58h1v1h-1zM40 58h1v1h-1zM45 58h1v1h-1zM0 59h1v1h-1zM5 59h1v1h-1zM7 59h1v1h-1zM15 59h1v1h-1zM18 59h1v1h-1zM22 59h1v1h-1zM27 59h1v1h-1zM38 59h1v1h-1zM42 59h1v1h-1zM2 60h1v1h-1zM13 60h4v1h-4zM22 60h2v1h-2zM34 60h1v1h-1zM36 60h1v1h-1zM42 60h1v1h-1zM46 60h1v1h-1zM1 61h1v1h-1zM3 61h1v1h-1zM8 61h1v1h-1zM10 61h1v1h-1zM12 61h2v1h-2zM20 61h1v1h-1zM24 61h3v1h-3zM36 61h2v1h-2zM39 61h1v1h-1zM2 62h1v1h-1zM25 62h1v1h-1zM27 62h1v1h-1zM43 62h1v1h-1zM8 63h1v1h-1zM11 63h1v1h-1zM17 63h1v1h-1zM33 63h1v1h-1zM36 63h1v1h-1zM39 63h2v1h-2zM2 64h1v1h-1zM4 64h1v1h-1zM17 64h1v1h-1zM34 64h1v1h-1zM36 64h1v1h-1zM39 64h2v1h-2zM43 64h2v1h-2zM10 65h1v1h-1zM13 65h1v1h-1zM20 65h3v1h-3zM26 65h2v1h-2zM31 65h1v1h-1zM33 65h2v1h-2zM37 65h2v1h-2zM40 65h1v1h-1zM43 65h2v1h-2zM3 66h1v1h-1zM5 66h1v1h-1zM10 66h1v1h-1zM13 66h1v1h-1zM16 66h1v1h-1zM25 66h2v1h-2zM28 66h1v1h-1zM31 66h1v1h-1zM38 66h2v1h-2zM42 66h1v1h-1zM45 66h2v1h-2zM10 67h1v1h-1zM14 67h1v1h-1zM22 67h1v1h-1zM24 67h1v1h-1zM28 67h1v1h-1zM32 67h1v1h-1zM35 67h1v1h-1zM37 67h1v1h-1zM43 67h1v1h-1zM49 67h1v1h-1zM8 68h1v1h-1zM13 68h1v1h-1zM16 68h3v1h-3zM22 68h2v1h-2zM25 68h1v1h-1zM37 68h1v1h-1zM48 68h1v1h-1zM1 69h2v1h-2zM9 69h1v1h-1zM18 69h1v1h-1zM24 69h1v1h-1zM28 69h1v1h-1zM42 69h1v1h-1zM47 69h1v1h-1zM3 70h1v1h-1zM6 70h1v1h-1zM13 70h1v1h-1zM17 70h1v1h-1zM20 70h1v1h-1zM22 70h1v1h-1zM40 70h1v1h-1zM45 70h1v1h-1zM47 70h2v1h-2zM6 71h1v1h-1zM14 71h1v1h-1zM38 71h1v1h-1zM48 71h1v1h-1zM50 71h1v1h-1zM13 72h1v1h-1zM31 72h1v1h-1zM36 72h3v1h-3zM40 72h1v1h-1zM42 72h1v1h-1zM44 72h1v1h-1zM3 73h1v1h-1zM17 73h1v1h-1zM23 73h1v1h-1zM32 73h1v1h-1zM34 73h1v1h-1zM47 73h1v1h-1zM50 73h1v1h-1zM3 74h2v1h-2zM10 74h1v1h-1zM32 74h1v1h-1zM37 74h1v1h-1zM41 74h1v1h-1zM46 74h1v1h-1zM49 74h1v1h-1zM4 75h1v1h-1zM9 75h1v1h-1zM14 75h1v1h-1zM30 75h2v1h-2zM41 75h1v1h-1zM44 75h1v1h-1zM19 76h2v1h-2zM36 76h1v1h-1zM38 76h1v1h-1zM48 76h1v1h-1zM30 77h3v1h-3zM35 77h1v1h-1zM37 77h1v1h-1zM44 77h2v1h-2zM47 77h2v1h-2zM0 78h1v1h-1zM3 78h1v1h-1zM9 78h1v1h-1zM20 78h2v1h-2zM48 78h1v1h-1z"/>
<path fill="#ffee00" d="M1 3h1v1h-1zM41 6h1v1h-1zM46 16h1v1h-1zM33 22h1v1h-1zM29 25h1v1h-1zM7 26h1v1h-1zM30 26h1v1h-1zM20 31h1v1h-1zM20 32h1v1h-1zM48 32h1v1h-1zM25 33h1v1h-1zM18 34h1v1h-1zM41 34h1v1h-1zM25 35h1v1h-1zM47 35h1v1h-1zM13 36h1v1h-1zM18 37h2v1h-2zM43 37h1v1h-1zM50 37h1v1h-1zM8 38h1v1h-1zM21 38h1v1h-1zM28 38h1v1h-1zM51 38h1v1h-1zM44 39h1v1h-1zM6 40h1v1h-1zM11 40h1v1h-1zM17 40h1v1h-1zM47 40h1v1h-1zM17 41h1v1h-1zM10 43h1v1h-1zM24 43h1v1h-1zM28 43h1v1h-1zM41 43h1v1h-1zM23 44h1v1h-1zM32 44h1v1h-1zM34 44h1v1h-1zM4 45h1v1h-1zM16 45h1v1h-1zM23 45h1v1h-1zM38 45h1v1h-1zM45 45h1v1h-1zM13 46h1v1h-1zM21 46h1v1h-1zM35 46h1v1h-1zM40 46h1v1h-1zM46 46h1v1h-1zM0 47h1v1h-1zM6 47h1v1h-1zM14 47h1v1h-1zM40 47h1v1h-1zM43 47h1v1h-1zM47 47h1v1h-1zM50 47h1v1h-1zM3 48h1v1h-1zM14 48h1v1h-1zM25 48h2v1h-2zM28 48h1v1h-1zM33 48h2v1h-2zM39 48h2v1h-2zM49 48h1v1h-1zM6 49h1v1h-1zM30 49h1v1h-1zM48 49h1v1h-1zM2 50h1v1h-1zM8 50h1v1h-1zM27 51h1v1h-1zM0 53h1v1h-1zM8 53h1v1h-1zM20 53h1v1h-1zM23 53h2v1h-2zM32 53h1v1h-1zM43 53h1v1h-1zM51 53h1v1h-1zM15 54h1v1h-1zM19 54h2v1h-2zM25 54h1v1h-1zM37 54h1v1h-1zM40 54h1v1h-1zM5 55h1v1h-1zM9 55h1v1h-1zM40 55h1v1h-1zM47 55h1v1h-1zM20 56h1v1h-1zM25 57h1v1h-1zM7 58h1v1h-1zM10 58h1v1h-1zM18 58h1v1h-1zM22 58h1v1h-1zM1 59h2v1h-2zM6 59h1v1h-1zM14 59h1v1h-1zM19 59h1v1h-1zM33 59h1v1h-1zM46 59h1v1h-1zM1 60h1v1h-1zM6 60h1v1h-1zM11 60h1v1h-1zM29 60h1v1h-1zM33 60h1v1h-1zM47 60h1v1h-1zM50 60h1v1h-1zM14 61h1v1h-1zM18 61h1v1h-1zM32 61h1v1h-1zM51 61h1v1h-1zM29 62h1v1h-1zM32 62h1v1h-1zM34 62h1v1h-1zM36 62h1v1h-1zM38 62h1v1h-1zM44 62h1v1h-1zM0 63h1v1h-1zM18 63h1v1h-1zM28 63h1v1h-1zM30 63h2v1h-2zM35 63h1v1h-1zM37 63h2v1h-2zM45 63h1v1h-1zM25 64h1v1h-1zM31 64h1v1h-1zM33 64h1v1h-1zM48 64h1v1h-1zM14 65h2v1h-2zM17 65h1v1h-1zM45 65h1v1h-1zM51 65h1v1h-1zM1 66h1v1h-1zM9 66h1v1h-1zM21 66h1v1h-1zM29 66h1v1h-1zM49 66h2v1h-2zM7 67h1v1h-1zM11 67h1v1h-1zM27 67h1v1h-1zM36 67h1v1h-1zM41 67h1v1h-1zM10 68h1v1h-1zM20 68h1v1h-1zM24 68h1v1h-1zM29 68h1v1h-1zM31 68h1v1h-1zM46 68h1v1h-1zM15 69h1v1h-1zM17 69h1v1h-1zM19 69h1v1h-1zM43 69h2v1h-2zM48 69h1v1h-1zM5 70h1v1h-1zM37 70h1v1h-1zM1 71h1v1h-1zM3 71h1v1h-1zM27 71h1v1h-1zM31 71h1v1h-1zM33 71h1v1h-1zM45 71h1v1h-1zM47 71h1v1h-1zM4 72h1v1h-1zM22 72h1v1h-1zM39 72h1v1h-1zM51 72h1v1h-1zM1 73h1v1h-1zM28 73h1v1h-1zM24 74h1v1h-1zM26 74h1v1h-1zM29 74h1v1h-1zM48 75h1v1h-1zM51 75h1v1h-1zM7 76h1v1h-1zM25 76h1v1h-1zM41 76h2v1h-2zM25 77h1v1h-1zM28 77h1v1h-1zM33 77h1v1h-1zM39 77h1v1h-1zM41 77h1v1h-1zM51 77h1v1h-1zM5 78h1v1h-1zM23 78h1v1h-1z"/>
<path fill="#ffa700" d="M43 8h1v1h-1zM36 23h1v1h-1zM29 24h1v1h-1zM21 31h1v1h-1zM0 32h1v1h-1zM49 33h1v1h-1zM8 35h1v1h-1zM27 35h1v1h-1zM40 35h1v1h-1zM48 35h1v1h-1zM7 36h1v1h-1zM43 36h1v1h-1zM32 37h1v1h-1zM22 38h1v1h-1zM9 39h1v1h-1zM34 39h1v1h-1zM31 40h1v1h-1zM9 41h1v1h-1zM40 41h1v1h-1zM11 45h1v1h-1zM38 47h1v1h-1zM18 49h1v1h-1zM19 50h1v1h-1zM38 50h1v1h-1zM45 50h2v1h-2zM1 51h1v1h-1zM9 51h1v1h-1zM20 52h1v1h-1zM10 53h1v1h-1zM7 54h1v1h-1zM21 54h1v1h-1zM42 54h1v1h-1zM49 54h1v1h-1zM51 54h1v1h-1zM12 55h1v1h-1zM30 56h1v1h-1zM48 56h1v1h-1zM39 57h1v1h-1zM8 58h1v1h-1zM11 58h1v1h-1zM19 58h1v1h-1zM7 60h1v1h-1zM24 60h1v1h-1zM39 60h2v1h-2zM45 60h1v1h-1zM17 61h1v1h-1zM47 61h1v1h-1zM21 62h1v1h-1zM51 62h1v1h-1zM6 63h1v1h-1zM9 63h1v1h-1zM12 63h1v1h-1zM34 63h1v1h-1zM48 63h1v1h-1zM47 64h1v1h-1zM6 65h1v1h-1zM11 65h1v1h-1zM29 65h2v1h-2zM6 67h1v1h-1zM13 67h1v1h-1zM9 68h1v1h-1zM26 69h1v1h-1zM38 69h1v1h-1zM49 69h1v1h-1zM21 70h1v1h-1zM2 71h1v1h-1zM40 71h1v1h-1zM43 72h1v1h-1zM32 78h1v1h-1zM37 78h1v1h-1zM45 78h1v1h-1z"/>
<path fill="#ff7700" d="M13 29h1v1h-1zM34 30h1v1h-1zM8 39h1v1h-1zM7 44h1v1h-1zM3 53h1v1h-1zM32 55h1v1h-1zM48 57h1v1h-1zM7 64h1v1h-1zM16 64h1v1h-1zM41 68h1v1h-1zM5 74h1v1h-1zM10 76h1v1h-1z"/>
<path fill="#ff3000" d="M26 50h1v1h-1zM22 53h1v1h-1z"/>
</g>
<g shape-rendering="crispEdges" stroke="none">
<rect x="172" y="721.75" width="8.5" height="5.3" fill="#6300ff"/>
<rect x="172" y="716.5" width="8.5" height="5.3" fill="#3300ff"/>
<rect x="172" y="711.25" width="8.5" height="5.3" fill="#0014ff"/>
<rect x="172" y="706" width="8.5" height="5.3" fill="#0044ff"/>
<rect x="172" y="700.75" width="8.5" height="5.3" fill="#008bff"/>
<rect x="172" y="695.5" width="8.5" height="5.3" fill="#00bbff"/>
<rect x="172" y="690.25" width="8.5" height="5.3" fill="#00fffc"/>
<rect x="172" y="685" width="8.5" height="5.3" fill="#00ffcc"/>
<rect x="172" y="679.75" width="8.5" height="5.3" fill="#00ff85"/>
<rect x="172" y="674.5" width="8.5" height="5.3" fill="#00ff55"/>
<rect x="172" y="669.25" width="8.5" height="5.3" fill="#00ff0e"/>
<rect x="172" y="664" width="8.5" height="5.3" fill="#22ff00"/>
<rect x="172" y="658.75" width="8.5" height="5.3" fill="#69ff00"/>
<rect x="172" y="653.5" width="8.5" height="5.3" fill="#99ff00"/>
<rect x="172" y="648.25" width="8.5" height="5.3" fill="#e0ff00"/>
<rect x="172" y="643" width="8.5" height="5.3" fill="#ffee00"/>
<rect x="172" y="637.75" width="8.5" height="5.3" fill="#ffa700"/>
<rect x="172" y="632.5" width="8.5" height="5.3" fill="#ff7700"/>
<rect x="172" y="627.25" width="8.5" height="5.3" fill="#ff3000"/>
<rect x="172" y="622" width="8.5" height="5.3" fill="#ff0000"/>
</g>
<text x="181.5" y="728.6" font-size="4.4" font-weight="bold" style="font-family:&quot;Liberation Sans&quot;,sans-serif">0</text>
<text x="181.5" y="715.48" font-size="4.4" font-weight="bold" style="font-family:&quot;Liberation Sans&quot;,sans-serif">2</text>
<text x="181.5" y="702.35" font-size="4.4" font-weight="bold" style="font-family:&quot;Liberation Sans&quot;,sans-serif">4</text>
<text x="181.5" y="689.23" font-size="4.4" font-weight="bold" style="font-family:&quot;Liberation Sans&quot;,sans-serif">6</text>
<text x="181.5" y="676.1" font-size="4.4" font-weight="bold" style="font-family:&quot;Liberation Sans&quot;,sans-serif">8</text>
<text x="181.5" y="662.98" font-size="4.4" font-weight="bold" style="font-family:&quot;Liberation Sans&quot;,sans-serif">10</text>
<text x="181.5" y="649.85" font-size="4.4" font-weight="bold" style="font-family:&quot;Liberation Sans&quot;,sans-serif">12</text>
<text x="181.5" y="636.73" font-size="4.4" font-weight="bold" style="font-family:&quot;Liberation Sans&quot;,sans-serif">14</text>
<text x="181.5" y="623.6" font-size="4.4" font-weight="bold" style="font-family:&quot;Liberation Sans&quot;,sans-serif">16</text>
<path d="M180.5 622V727M180.5 727h-4M180.5 713.88h-4M180.5 700.75h-4M180.5 687.62h-4M180.5 674.5h-4M180.5 661.38h-4M180.5 648.25h-4M180.5 635.12h-4M180.5 622h-4" stroke="#000" stroke-width="1" fill="none"/>
<path d="M25.5 622V727.5H171.5V622" stroke="#000" stroke-width="1" fill="none"/>
<path d="M25.5 727.5v-4.5M53.58 727.5v-4.5M81.65 727.5v-4.5M109.73 727.5v-4.5M137.81 727.5v-4.5M165.88 727.5v-4.5" stroke="#000" stroke-width="1" fill="none"/>
<text x="25.5" y="736.1" font-size="10.3" text-anchor="middle">0</text>
<text x="53.58" y="736.1" font-size="10.3" text-anchor="middle">10</text>
<text x="81.65" y="736.1" font-size="10.3" text-anchor="middle">20</text>
<text x="109.73" y="736.1" font-size="10.3" text-anchor="middle">30</text>
<text x="137.81" y="736.1" font-size="10.3" text-anchor="middle">40</text>
<text x="165.88" y="736.1" font-size="10.3" text-anchor="middle">50</text>
<path d="M25.5 727.5h4.5M25.5 713.5h4.5M25.5 700.5h4.5M25.5 687.5h4.5M25.5 674.5h4.5M25.5 661.5h4.5M25.5 648.5h4.5M25.5 635.5h4.5M25.5 622.5h4.5" stroke="#000" stroke-width="1" fill="none"/>
<text x="24.3" y="730.9" font-size="10.3" text-anchor="end">0</text>
<text x="24.3" y="716.9" font-size="10.3" text-anchor="end">10</text>
<text x="24.3" y="703.9" font-size="10.3" text-anchor="end">20</text>
<text x="24.3" y="690.9" font-size="10.3" text-anchor="end">30</text>
<text x="24.3" y="677.9" font-size="10.3" text-anchor="end">40</text>
<text x="24.3" y="664.9" font-size="10.3" text-anchor="end">50</text>
<text x="24.3" y="651.9" font-size="10.3" text-anchor="end">60</text>
<text x="24.3" y="638.9" font-size="10.3" text-anchor="end">70</text>
<text x="24.3" y="625.9" font-size="10.3" text-anchor="end">80</text>
<text x="25" y="618.9" font-size="10.97">Trim Bits</text>
<rect x="224.5" y="622.5" width="146" height="105" fill="none" stroke="#000" stroke-width="1"/>
<path d="M224.5 727.5v-4.5M262.35 727.5v-4.5M300.2 727.5v-4.5M338.05 727.5v-4.5" stroke="#000" stroke-width="1" fill="none"/>
<text x="224.5" y="736.1" font-size="10.3" text-anchor="middle">0</text>
<text x="262.35" y="736.1" font-size="10.3" text-anchor="middle">2</text>
<text x="300.2" y="736.1" font-size="10.3" text-anchor="middle">4</text>
<text x="338.05" y="736.1" font-size="10.3" text-anchor="middle">6</text>
<path d="M224.5 718.5h4.5M224.5 688.5h4.5M224.5 658.5h4.5M224.5 628.5h4.5" stroke="#000" stroke-width="1" fill="none"/>
<text x="223.3" y="721.9" font-size="10.3" text-anchor="end">0</text>
<text x="223.3" y="691.9" font-size="10.3" text-anchor="end">500</text>
<text x="223.3" y="661.9" font-size="10.3" text-anchor="end">1000</text>
<text x="223.3" y="631.9" font-size="10.3" text-anchor="end">1500</text>
<path d="M220.23 630.21h8.6M224.53 625.91v8.6M221.43 627.11l6.2 6.2M221.43 633.31l6.2 -6.2M239.25 651.37h8.6M243.55 647.07v8.6M240.45 648.27l6.2 6.2M240.45 654.47l6.2 -6.2M258.05 678.72h8.6M262.35 674.42v8.6M259.25 675.62l6.2 6.2M259.25 681.82l6.2 -6.2M276.85 709.7h8.6M281.15 705.4v8.6M278.05 706.6l6.2 6.2M278.05 712.8l6.2 -6.2M295.87 718.68h8.6M300.17 714.38v8.6M297.07 715.58l6.2 6.2M297.07 721.78l6.2 -6.2M314.89 718.68h8.6M319.19 714.38v8.6M316.09 715.58l6.2 6.2M316.09 721.78l6.2 -6.2M333.91 717.39h8.6M338.21 713.09v8.6M335.11 714.29l6.2 6.2M335.11 720.49l6.2 -6.2M353.14 718.68h8.6M357.44 714.38v8.6M354.34 715.58l6.2 6.2M354.34 721.78l6.2 -6.2" stroke="#000" stroke-width="1" fill="none"/>
<text x="224" y="618.9" font-size="10.97">Temperature calibration</text>
<g transform="translate(423 727) scale(2.80769 -1.31250)" shape-rendering="crispEdges" stroke="none">
<rect x="0" y="0" width="52" height="80" fill="#ffa700"/>
<path fill="#0044ff" d="M51 5h1v1h-1zM51 11h1v1h-1zM51 20h1v1h-1zM51 71h1v1h-1zM47 79h1v1h-1z"/>
<path fill="#008bff" d="M51 0h1v1h-1zM51 8h1v1h-1zM51 9h1v1h-1zM51 10h1v1h-1zM51 21h1v1h-1zM51 22h1v1h-1zM51 26h1v1h-1zM51 27h1v1h-1zM51 30h1v1h-1zM51 31h1v1h-1zM51 33h1v1h-1zM51 36h1v1h-1zM51 40h1v1h-1zM51 41h1v1h-1zM51 44h1v1h-1zM51 49h1v1h-1zM51 50h1v1h-1zM51 51h1v1h-1zM51 58h1v1h-1zM51 63h1v1h-1zM51 66h1v1h-1zM51 76h1v1h-1zM48 79h1v1h-1zM51 79h1v1h-1z"/>
<path fill="#00bbff" d="M51 1h1v1h-1zM51 2h1v1h-1zM51 3h1v1h-1zM51 4h1v1h-1zM51 6h1v1h-1zM51 12h1v1h-1zM51 13h1v1h-1zM51 14h1v1h-1zM51 15h1v1h-1zM51 16h1v1h-1zM51 18h1v1h-1zM51 19h1v1h-1zM51 23h1v1h-1zM51 24h1v1h-1zM51 25h1v1h-1zM51 28h1v1h-1zM51 29h1v1h-1zM51 32h1v1h-1zM51 34h1v1h-1zM51 35h1v1h-1zM51 37h1v1h-1zM51 38h1v1h-1zM51 43h1v1h-1zM51 46h1v1h-1zM51 48h1v1h-1zM51 52h1v1h-1zM51 53h1v1h-1zM51 54h1v1h-1zM51 55h1v1h-1zM51 56h1v1h-1zM51 57h1v1h-1zM51 59h1v1h-1zM51 60h1v1h-1zM51 61h1v1h-1zM51 62h1v1h-1zM51 64h1v1h-1zM51 65h1v1h-1zM51 67h1v1h-1zM51 69h1v1h-1zM51 72h1v1h-1zM51 73h1v1h-1zM51 74h1v1h-1zM51 77h1v1h-1zM51 78h1v1h-1zM41 79h1v1h-1zM49 79h2v1h-2z"/>
<path fill="#00fffc" d="M51 7h1v1h-1zM51 17h1v1h-1zM51 39h1v1h-1zM51 42h1v1h-1zM51 45h1v1h-1zM51 47h1v1h-1zM51 75h1v1h-1zM39 79h1v1h-1zM42 79h1v1h-1zM44 79h1v1h-1zM46 79h1v1h-1z"/>
<path fill="#00ffcc" d="M51 68h1v1h-1zM51 70h1v1h-1zM0 79h1v1h-1zM20 79h1v1h-1zM29 79h3v1h-3zM34 79h3v1h-3zM40 79h1v1h-1zM43 79h1v1h-1zM45 79h1v1h-1z"/>
<path fill="#00ff85" d="M50 0h1v1h-1zM50 6h1v1h-1zM50 8h1v1h-1zM50 21h1v1h-1zM50 75h1v1h-1zM50 76h1v1h-1zM12 79h1v1h-1zM17 79h1v1h-1zM21 79h1v1h-1zM26 79h2v1h-2zM32 79h2v1h-2zM37 79h2v1h-2z"/>
<path fill="#00ff55" d="M48 0h1v1h-1zM50 1h1v1h-1zM49 2h2v1h-2zM50 7h1v1h-1zM48 10h1v1h-1zM50 11h1v1h-1zM50 13h1v1h-1zM49 14h1v1h-1zM50 15h1v1h-1zM50 16h1v1h-1zM50 19h1v1h-1zM50 20h1v1h-1zM49 23h1v1h-1zM50 29h1v1h-1zM50 30h1v1h-1zM50 31h1v1h-1zM50 34h1v1h-1zM50 35h1v1h-1zM50 39h1v1h-1zM50 42h1v1h-1zM50 43h1v1h-1zM50 44h1v1h-1zM50 49h1v1h-1zM50 56h1v1h-1zM49 59h2v1h-2zM50 60h1v1h-1zM50 61h1v1h-1zM49 65h2v1h-2zM48 69h1v1h-1zM50 70h1v1h-1zM44 72h1v1h-1zM50 72h1v1h-1zM50 73h1v1h-1zM50 74h1v1h-1zM44 76h1v1h-1zM48 76h2v1h-2zM50 77h1v1h-1zM50 78h1v1h-1zM2 79h1v1h-1zM4 79h1v1h-1zM14 79h3v1h-3zM22 79h2v1h-2zM28 79h1v1h-1z"/>
<path fill="#00ff0e" d="M45 0h1v1h-1zM49 0h1v1h-1zM47 1h1v1h-1zM50 4h1v1h-1zM44 6h1v1h-1zM49 7h1v1h-1zM48 8h2v1h-2zM49 9h2v1h-2zM50 10h1v1h-1zM50 12h1v1h-1zM48 14h1v1h-1zM48 16h2v1h-2zM49 18h2v1h-2zM48 21h1v1h-1zM49 22h1v1h-1zM50 23h1v1h-1zM47 24h3v1h-3zM49 27h2v1h-2zM49 31h1v1h-1zM48 32h1v1h-1zM49 34h1v1h-1zM50 37h1v1h-1zM47 38h1v1h-1zM50 38h1v1h-1zM49 39h1v1h-1zM50 40h1v1h-1zM49 44h1v1h-1zM49 45h1v1h-1zM47 46h1v1h-1zM50 46h1v1h-1zM48 47h1v1h-1zM50 47h1v1h-1zM50 48h1v1h-1zM49 50h1v1h-1zM50 52h1v1h-1zM50 54h1v1h-1zM49 56h1v1h-1zM44 57h1v1h-1zM47 57h2v1h-2zM50 57h1v1h-1zM49 58h2v1h-2zM43 59h1v1h-1zM45 59h1v1h-1zM49 60h1v1h-1zM47 62h1v1h-1zM49 62h2v1h-2zM41 63h1v1h-1zM50 63h1v1h-1zM44 65h1v1h-1zM50 66h1v1h-1zM44 68h1v1h-1zM50 68h1v1h-1zM50 69h1v1h-1zM43 70h1v1h-1zM48 70h1v1h-1zM43 73h1v1h-1zM46 73h1v1h-1zM47 74h1v1h-1zM47 75h3v1h-3zM46 76h1v1h-1zM44 77h1v1h-1zM46 77h3v1h-3zM46 78h2v1h-2zM1 79h1v1h-1zM3 79h1v1h-1zM5 79h2v1h-2zM10 79h2v1h-2zM18 79h1v1h-1zM24 79h2v1h-2z"/>
<path fill="#22ff00" d="M32 0h1v1h-1zM39 0h2v1h-2zM49 1h1v1h-1zM0 2h1v1h-1zM41 2h1v1h-1zM45 2h3v1h-3zM47 3h2v1h-2zM50 3h1v1h-1zM45 4h1v1h-1zM47 4h1v1h-1zM49 4h1v1h-1zM43 5h1v1h-1zM48 5h2v1h-2zM42 6h1v1h-1zM45 6h1v1h-1zM48 6h2v1h-2zM45 7h1v1h-1zM47 7h2v1h-2zM36 8h1v1h-1zM43 8h1v1h-1zM34 9h1v1h-1zM48 9h1v1h-1zM45 10h2v1h-2zM49 10h1v1h-1zM47 11h1v1h-1zM44 13h2v1h-2zM47 13h2v1h-2zM43 15h1v1h-1zM46 15h1v1h-1zM48 15h1v1h-1zM44 16h1v1h-1zM49 17h2v1h-2zM46 18h1v1h-1zM48 18h1v1h-1zM45 19h1v1h-1zM48 19h2v1h-2zM46 20h1v1h-1zM49 20h1v1h-1zM45 21h1v1h-1zM47 21h1v1h-1zM50 22h1v1h-1zM44 23h1v1h-1zM47 23h1v1h-1zM45 24h2v1h-2zM50 24h1v1h-1zM50 25h1v1h-1zM47 26h1v1h-1zM50 26h1v1h-1zM50 28h1v1h-1zM46 30h1v1h-1zM44 31h2v1h-2zM47 31h2v1h-2zM46 32h1v1h-1zM50 32h1v1h-1zM43 33h1v1h-1zM45 33h1v1h-1zM49 33h2v1h-2zM48 35h2v1h-2zM47 37h1v1h-1zM49 37h1v1h-1zM45 39h1v1h-1zM47 39h1v1h-1zM49 40h1v1h-1zM47 41h4v1h-4zM47 42h1v1h-1zM49 42h1v1h-1zM46 43h1v1h-1zM48 43h1v1h-1zM47 45h1v1h-1zM50 45h1v1h-1zM47 47h1v1h-1zM49 49h1v1h-1zM50 50h1v1h-1zM46 51h2v1h-2zM50 51h1v1h-1zM47 52h1v1h-1zM49 52h1v1h-1zM47 53h1v1h-1zM46 54h1v1h-1zM42 55h1v1h-1zM49 55h2v1h-2zM45 57h1v1h-1zM49 57h1v1h-1zM46 58h2v1h-2zM48 59h1v1h-1zM44 60h1v1h-1zM47 60h1v1h-1zM46 61h1v1h-1zM48 61h1v1h-1zM42 62h1v1h-1zM44 62h2v1h-2zM45 63h3v1h-3zM50 64h1v1h-1zM42 65h1v1h-1zM45 65h1v1h-1zM48 67h3v1h-3zM46 68h1v1h-1zM48 68h1v1h-1zM40 69h1v1h-1zM42 69h3v1h-3zM46 69h2v1h-2zM49 69h1v1h-1zM45 71h1v1h-1zM47 71h1v1h-1zM49 71h1v1h-1zM36 72h1v1h-1zM46 72h4v1h-4zM34 73h1v1h-1zM42 73h1v1h-1zM45 73h1v1h-1zM48 73h1v1h-1zM42 74h1v1h-1zM45 74h2v1h-2zM48 74h2v1h-2zM0 75h1v1h-1zM45 75h2v1h-2zM35 76h1v1h-1zM38 76h2v1h-2zM41 76h1v1h-1zM28 77h1v1h-1zM41 77h3v1h-3zM43 78h2v1h-2zM48 78h2v1h-2zM7 79h3v1h-3zM13 79h1v1h-1zM19 79h1v1h-1z"/>
<path fill="#69ff00" d="M0 0h1v1h-1zM23 0h1v1h-1zM27 0h1v1h-1zM35 0h3v1h-3zM42 0h3v1h-3zM46 0h1v1h-1zM44 1h1v1h-1zM46 1h1v1h-1zM48 1h1v1h-1zM31 2h1v1h-1zM42 2h2v1h-2zM48 2h1v1h-1zM0 3h1v1h-1zM39 3h1v1h-1zM42 3h1v1h-1zM45 3h1v1h-1zM49 3h1v1h-1zM23 4h1v1h-1zM34 4h1v1h-1zM42 4h1v1h-1zM46 4h1v1h-1zM48 4h1v1h-1zM27 5h1v1h-1zM30 5h1v1h-1zM44 5h2v1h-2zM47 5h1v1h-1zM50 5h1v1h-1zM47 6h1v1h-1zM31 7h1v1h-1zM36 7h1v1h-1zM39 7h1v1h-1zM44 7h1v1h-1zM46 7h1v1h-1zM28 8h1v1h-1zM42 8h1v1h-1zM45 8h3v1h-3zM29 9h1v1h-1zM32 9h1v1h-1zM40 9h1v1h-1zM44 9h4v1h-4zM34 10h1v1h-1zM39 10h1v1h-1zM44 10h1v1h-1zM39 11h1v1h-1zM42 11h1v1h-1zM45 11h2v1h-2zM48 11h2v1h-2zM40 12h1v1h-1zM46 12h3v1h-3zM39 13h1v1h-1zM49 13h1v1h-1zM46 14h2v1h-2zM50 14h1v1h-1zM40 15h1v1h-1zM42 15h1v1h-1zM44 15h2v1h-2zM47 15h1v1h-1zM49 15h1v1h-1zM45 16h1v1h-1zM47 16h1v1h-1zM46 17h2v1h-2zM39 18h1v1h-1zM43 19h2v1h-2zM46 19h2v1h-2zM35 20h1v1h-1zM40 20h3v1h-3zM47 20h2v1h-2zM43 21h2v1h-2zM49 21h1v1h-1zM43 22h1v1h-1zM46 22h1v1h-1zM40 23h1v1h-1zM48 23h1v1h-1zM28 24h1v1h-1zM43 24h1v1h-1zM46 25h4v1h-4zM49 26h1v1h-1zM42 27h2v1h-2zM45 27h1v1h-1zM47 27h2v1h-2zM45 28h2v1h-2zM31 29h1v1h-1zM43 29h1v1h-1zM46 29h2v1h-2zM49 29h1v1h-1zM45 30h1v1h-1zM48 30h2v1h-2zM22 31h1v1h-1zM42 31h2v1h-2zM45 32h1v1h-1zM47 32h1v1h-1zM49 32h1v1h-1zM36 33h1v1h-1zM48 33h1v1h-1zM39 34h1v1h-1zM44 34h2v1h-2zM47 34h2v1h-2zM40 35h1v1h-1zM46 35h1v1h-1zM46 36h1v1h-1zM50 36h1v1h-1zM44 37h3v1h-3zM48 37h1v1h-1zM41 39h2v1h-2zM46 39h1v1h-1zM48 39h1v1h-1zM46 40h1v1h-1zM41 41h1v1h-1zM45 41h1v1h-1zM44 42h1v1h-1zM48 42h1v1h-1zM41 43h1v1h-1zM47 43h1v1h-1zM49 43h1v1h-1zM43 44h2v1h-2zM48 44h1v1h-1zM48 45h1v1h-1zM49 46h1v1h-1zM0 47h1v1h-1zM39 47h1v1h-1zM45 47h2v1h-2zM46 48h2v1h-2zM49 48h1v1h-1zM46 49h2v1h-2zM43 50h1v1h-1zM46 50h3v1h-3zM48 52h1v1h-1zM45 53h2v1h-2zM48 53h1v1h-1zM50 53h1v1h-1zM40 54h1v1h-1zM43 54h2v1h-2zM49 54h1v1h-1zM46 55h3v1h-3zM43 56h3v1h-3zM47 56h2v1h-2zM33 57h1v1h-1zM35 57h1v1h-1zM37 57h1v1h-1zM39 57h1v1h-1zM41 57h3v1h-3zM46 57h1v1h-1zM41 58h2v1h-2zM0 59h1v1h-1zM28 59h1v1h-1zM46 59h2v1h-2zM45 60h2v1h-2zM48 60h1v1h-1zM43 62h1v1h-1zM46 62h1v1h-1zM48 62h1v1h-1zM43 63h1v1h-1zM48 63h2v1h-2zM44 64h2v1h-2zM47 64h3v1h-3zM24 65h1v1h-1zM26 65h1v1h-1zM31 65h1v1h-1zM39 65h1v1h-1zM43 65h1v1h-1zM46 65h2v1h-2zM44 66h1v1h-1zM47 66h3v1h-3zM37 67h2v1h-2zM40 67h3v1h-3zM42 68h1v1h-1zM45 68h1v1h-1zM49 68h1v1h-1zM28 69h1v1h-1zM41 69h1v1h-1zM45 69h1v1h-1zM32 70h1v1h-1zM41 70h1v1h-1zM44 70h3v1h-3zM37 71h1v1h-1zM41 71h1v1h-1zM43 71h1v1h-1zM48 71h1v1h-1zM50 71h1v1h-1zM29 72h2v1h-2zM37 72h1v1h-1zM39 72h1v1h-1zM43 72h1v1h-1zM45 72h1v1h-1zM36 73h2v1h-2zM41 73h1v1h-1zM44 73h1v1h-1zM49 73h1v1h-1zM27 74h2v1h-2zM33 74h1v1h-1zM37 74h1v1h-1zM40 74h2v1h-2zM43 74h2v1h-2zM37 75h5v1h-5zM44 75h1v1h-1zM20 76h1v1h-1zM36 76h1v1h-1zM40 76h1v1h-1zM42 76h2v1h-2zM47 76h1v1h-1zM37 77h1v1h-1zM39 77h2v1h-2zM49 77h1v1h-1zM32 78h1v1h-1zM37 78h1v1h-1zM41 78h2v1h-2zM45 78h1v1h-1z"/>
<path fill="#99ff00" d="M13 0h1v1h-1zM25 0h1v1h-1zM29 0h1v1h-1zM33 0h1v1h-1zM38 0h1v1h-1zM41 0h1v1h-1zM47 0h1v1h-1zM0 1h1v1h-1zM21 1h1v1h-1zM37 1h2v1h-2zM40 1h1v1h-1zM43 1h1v1h-1zM45 1h1v1h-1zM22 2h1v1h-1zM24 2h1v1h-1zM29 2h1v1h-1zM35 2h1v1h-1zM44 2h1v1h-1zM31 3h1v1h-1zM35 3h1v1h-1zM43 3h2v1h-2zM46 3h1v1h-1zM24 4h1v1h-1zM35 4h1v1h-1zM43 4h2v1h-2zM33 5h1v1h-1zM36 5h1v1h-1zM41 5h1v1h-1zM46 5h1v1h-1zM28 6h1v1h-1zM35 6h1v1h-1zM39 6h1v1h-1zM41 6h1v1h-1zM43 6h1v1h-1zM46 6h1v1h-1zM0 7h1v1h-1zM26 7h1v1h-1zM34 7h1v1h-1zM38 7h1v1h-1zM42 7h1v1h-1zM0 8h1v1h-1zM25 8h1v1h-1zM38 8h4v1h-4zM44 8h1v1h-1zM20 9h1v1h-1zM33 9h1v1h-1zM36 9h1v1h-1zM42 9h2v1h-2zM24 10h1v1h-1zM28 10h1v1h-1zM33 10h1v1h-1zM35 10h2v1h-2zM40 10h4v1h-4zM47 10h1v1h-1zM30 11h1v1h-1zM35 11h1v1h-1zM33 12h1v1h-1zM43 12h2v1h-2zM49 12h1v1h-1zM25 13h1v1h-1zM32 13h1v1h-1zM34 13h1v1h-1zM42 13h2v1h-2zM30 14h1v1h-1zM36 14h1v1h-1zM41 14h4v1h-4zM10 15h1v1h-1zM25 15h2v1h-2zM36 15h1v1h-1zM41 15h1v1h-1zM41 16h3v1h-3zM46 16h1v1h-1zM48 17h1v1h-1zM28 18h1v1h-1zM42 18h1v1h-1zM45 18h1v1h-1zM47 18h1v1h-1zM28 19h1v1h-1zM31 19h1v1h-1zM33 19h3v1h-3zM38 19h1v1h-1zM40 19h1v1h-1zM38 20h2v1h-2zM43 20h3v1h-3zM37 21h1v1h-1zM40 21h1v1h-1zM42 21h1v1h-1zM46 21h1v1h-1zM0 22h1v1h-1zM19 22h1v1h-1zM33 22h1v1h-1zM42 22h1v1h-1zM45 22h1v1h-1zM47 22h2v1h-2zM25 23h1v1h-1zM38 23h1v1h-1zM42 23h1v1h-1zM45 23h1v1h-1zM0 24h1v1h-1zM26 24h1v1h-1zM31 24h1v1h-1zM41 24h2v1h-2zM44 24h1v1h-1zM38 25h2v1h-2zM42 25h2v1h-2zM45 25h1v1h-1zM42 26h1v1h-1zM45 26h1v1h-1zM48 26h1v1h-1zM38 27h1v1h-1zM40 27h1v1h-1zM44 27h1v1h-1zM39 28h1v1h-1zM42 28h1v1h-1zM49 28h1v1h-1zM33 29h1v1h-1zM39 29h1v1h-1zM41 29h1v1h-1zM44 29h1v1h-1zM48 29h1v1h-1zM44 30h1v1h-1zM0 31h1v1h-1zM23 31h1v1h-1zM29 31h1v1h-1zM33 31h1v1h-1zM36 31h1v1h-1zM40 31h1v1h-1zM46 31h1v1h-1zM27 32h1v1h-1zM33 32h1v1h-1zM38 32h1v1h-1zM40 32h1v1h-1zM44 32h1v1h-1zM38 33h2v1h-2zM47 33h1v1h-1zM33 34h1v1h-1zM35 34h1v1h-1zM42 34h1v1h-1zM0 35h1v1h-1zM26 35h1v1h-1zM29 35h1v1h-1zM39 35h1v1h-1zM42 35h4v1h-4zM47 35h1v1h-1zM37 36h1v1h-1zM45 36h1v1h-1zM25 37h1v1h-1zM28 37h1v1h-1zM34 37h1v1h-1zM36 37h1v1h-1zM40 37h1v1h-1zM42 37h2v1h-2zM40 38h1v1h-1zM42 38h1v1h-1zM45 38h2v1h-2zM48 38h2v1h-2zM14 39h1v1h-1zM24 39h1v1h-1zM33 39h2v1h-2zM38 39h2v1h-2zM43 39h2v1h-2zM43 40h2v1h-2zM47 40h2v1h-2zM36 41h1v1h-1zM40 41h1v1h-1zM43 41h2v1h-2zM46 41h1v1h-1zM30 42h1v1h-1zM35 42h1v1h-1zM40 42h2v1h-2zM43 42h1v1h-1zM45 42h2v1h-2zM24 43h1v1h-1zM33 43h1v1h-1zM40 43h1v1h-1zM43 43h1v1h-1zM45 43h1v1h-1zM22 44h1v1h-1zM24 44h1v1h-1zM39 44h2v1h-2zM45 44h3v1h-3zM38 45h1v1h-1zM40 45h2v1h-2zM43 45h4v1h-4zM45 46h2v1h-2zM48 46h1v1h-1zM37 47h1v1h-1zM40 47h1v1h-1zM43 48h1v1h-1zM48 48h1v1h-1zM30 49h1v1h-1zM39 49h1v1h-1zM43 49h3v1h-3zM41 51h1v1h-1zM48 51h2v1h-2zM29 52h1v1h-1zM45 52h1v1h-1zM36 53h1v1h-1zM49 53h1v1h-1zM23 54h1v1h-1zM38 54h1v1h-1zM47 54h2v1h-2zM29 55h1v1h-1zM45 55h1v1h-1zM36 56h1v1h-1zM42 56h1v1h-1zM46 56h1v1h-1zM24 57h1v1h-1zM30 57h3v1h-3zM40 57h1v1h-1zM23 58h1v1h-1zM26 58h1v1h-1zM37 58h1v1h-1zM40 58h1v1h-1zM44 58h2v1h-2zM48 58h1v1h-1zM29 59h1v1h-1zM35 59h2v1h-2zM40 59h3v1h-3zM44 59h1v1h-1zM0 60h1v1h-1zM32 60h1v1h-1zM34 60h1v1h-1zM36 60h1v1h-1zM41 60h1v1h-1zM38 61h1v1h-1zM40 61h1v1h-1zM43 61h3v1h-3zM47 61h1v1h-1zM49 61h1v1h-1zM28 62h1v1h-1zM34 62h1v1h-1zM36 62h1v1h-1zM38 62h4v1h-4zM33 63h1v1h-1zM42 63h1v1h-1zM44 63h1v1h-1zM26 64h1v1h-1zM34 64h1v1h-1zM38 64h1v1h-1zM40 64h3v1h-3zM46 64h1v1h-1zM0 65h1v1h-1zM21 65h1v1h-1zM29 65h2v1h-2zM32 65h1v1h-1zM35 65h3v1h-3zM40 65h2v1h-2zM48 65h1v1h-1zM24 66h1v1h-1zM26 66h1v1h-1zM29 66h1v1h-1zM37 66h1v1h-1zM41 66h2v1h-2zM45 66h2v1h-2zM25 67h1v1h-1zM43 67h3v1h-3zM47 67h1v1h-1zM30 68h1v1h-1zM39 68h1v1h-1zM41 68h1v1h-1zM43 68h1v1h-1zM47 68h1v1h-1zM0 69h2v1h-2zM22 69h3v1h-3zM29 69h1v1h-1zM31 69h1v1h-1zM34 69h4v1h-4zM39 69h1v1h-1zM16 70h1v1h-1zM27 70h1v1h-1zM29 70h2v1h-2zM37 70h1v1h-1zM39 70h1v1h-1zM42 70h1v1h-1zM47 70h1v1h-1zM49 70h1v1h-1zM22 71h1v1h-1zM29 71h2v1h-2zM32 71h1v1h-1zM46 71h1v1h-1zM0 72h1v1h-1zM17 72h1v1h-1zM24 72h1v1h-1zM26 72h1v1h-1zM28 72h1v1h-1zM35 72h1v1h-1zM38 72h1v1h-1zM41 72h1v1h-1zM25 73h1v1h-1zM27 73h2v1h-2zM30 73h1v1h-1zM35 73h1v1h-1zM38 73h2v1h-2zM47 73h1v1h-1zM0 74h1v1h-1zM23 74h2v1h-2zM32 74h1v1h-1zM35 74h1v1h-1zM39 74h1v1h-1zM19 75h1v1h-1zM21 75h2v1h-2zM25 75h2v1h-2zM30 75h2v1h-2zM33 75h3v1h-3zM42 75h1v1h-1zM1 76h1v1h-1zM11 76h1v1h-1zM13 76h1v1h-1zM17 76h1v1h-1zM23 76h3v1h-3zM28 76h1v1h-1zM33 76h2v1h-2zM37 76h1v1h-1zM45 76h1v1h-1zM24 77h1v1h-1zM26 77h1v1h-1zM32 77h5v1h-5zM45 77h1v1h-1zM23 78h1v1h-1zM26 78h1v1h-1zM29 78h1v1h-1zM33 78h1v1h-1zM35 78h1v1h-1zM38 78h3v1h-3z"/>
<path fill="#e0ff00" d="M1 0h1v1h-1zM17 0h1v1h-1zM19 0h1v1h-1zM24 0h1v1h-1zM26 0h1v1h-1zM28 0h1v1h-1zM30 0h2v1h-2zM34 0h1v1h-1zM15 1h1v1h-1zM20 1h1v1h-1zM25 1h2v1h-2zM28 1h2v1h-2zM31 1h2v1h-2zM34 1h3v1h-3zM39 1h1v1h-1zM41 1h2v1h-2zM1 2h1v1h-1zM14 2h1v1h-1zM25 2h2v1h-2zM30 2h1v1h-1zM33 2h2v1h-2zM38 2h1v1h-1zM40 2h1v1h-1zM21 3h1v1h-1zM25 3h4v1h-4zM33 3h1v1h-1zM36 3h3v1h-3zM40 3h2v1h-2zM19 4h1v1h-1zM26 4h1v1h-1zM28 4h1v1h-1zM30 4h1v1h-1zM32 4h2v1h-2zM36 4h2v1h-2zM39 4h2v1h-2zM0 5h2v1h-2zM21 5h1v1h-1zM23 5h3v1h-3zM28 5h1v1h-1zM32 5h1v1h-1zM34 5h1v1h-1zM37 5h1v1h-1zM42 5h1v1h-1zM1 6h1v1h-1zM27 6h1v1h-1zM29 6h1v1h-1zM31 6h1v1h-1zM33 6h2v1h-2zM36 6h2v1h-2zM14 7h1v1h-1zM16 7h2v1h-2zM24 7h1v1h-1zM29 7h2v1h-2zM32 7h2v1h-2zM40 7h2v1h-2zM43 7h1v1h-1zM20 8h3v1h-3zM27 8h1v1h-1zM29 8h3v1h-3zM33 8h3v1h-3zM37 8h1v1h-1zM22 9h1v1h-1zM27 9h1v1h-1zM31 9h1v1h-1zM35 9h1v1h-1zM37 9h3v1h-3zM41 9h1v1h-1zM4 10h1v1h-1zM17 10h2v1h-2zM23 10h1v1h-1zM25 10h3v1h-3zM29 10h4v1h-4zM37 10h1v1h-1zM21 11h1v1h-1zM31 11h1v1h-1zM34 11h1v1h-1zM36 11h3v1h-3zM40 11h1v1h-1zM43 11h2v1h-2zM25 12h2v1h-2zM31 12h2v1h-2zM34 12h1v1h-1zM37 12h3v1h-3zM41 12h1v1h-1zM1 13h1v1h-1zM24 13h1v1h-1zM26 13h1v1h-1zM28 13h2v1h-2zM31 13h1v1h-1zM36 13h1v1h-1zM40 13h2v1h-2zM46 13h1v1h-1zM18 14h1v1h-1zM25 14h1v1h-1zM29 14h1v1h-1zM35 14h1v1h-1zM37 14h1v1h-1zM39 14h1v1h-1zM45 14h1v1h-1zM15 15h1v1h-1zM24 15h1v1h-1zM32 15h1v1h-1zM37 15h1v1h-1zM39 15h1v1h-1zM25 16h2v1h-2zM28 16h1v1h-1zM37 16h1v1h-1zM39 16h1v1h-1zM30 17h1v1h-1zM32 17h4v1h-4zM42 17h2v1h-2zM45 17h1v1h-1zM0 18h1v1h-1zM25 18h1v1h-1zM31 18h1v1h-1zM37 18h2v1h-2zM40 18h1v1h-1zM44 18h1v1h-1zM0 19h1v1h-1zM20 19h2v1h-2zM29 19h1v1h-1zM37 19h1v1h-1zM39 19h1v1h-1zM41 19h2v1h-2zM30 20h1v1h-1zM25 21h1v1h-1zM30 21h1v1h-1zM34 21h2v1h-2zM38 21h1v1h-1zM41 21h1v1h-1zM29 22h1v1h-1zM31 22h1v1h-1zM35 22h2v1h-2zM40 22h2v1h-2zM23 23h1v1h-1zM28 23h1v1h-1zM30 23h1v1h-1zM34 23h2v1h-2zM37 23h1v1h-1zM39 23h1v1h-1zM41 23h1v1h-1zM43 23h1v1h-1zM46 23h1v1h-1zM22 24h1v1h-1zM27 24h1v1h-1zM30 24h1v1h-1zM33 24h1v1h-1zM35 24h1v1h-1zM38 24h3v1h-3zM31 25h2v1h-2zM41 25h1v1h-1zM25 26h1v1h-1zM30 26h1v1h-1zM35 26h2v1h-2zM39 26h2v1h-2zM43 26h2v1h-2zM46 26h1v1h-1zM0 27h1v1h-1zM22 27h1v1h-1zM25 27h1v1h-1zM29 27h2v1h-2zM32 27h1v1h-1zM34 27h1v1h-1zM37 27h1v1h-1zM41 27h1v1h-1zM46 27h1v1h-1zM35 28h1v1h-1zM44 28h1v1h-1zM47 28h1v1h-1zM19 29h1v1h-1zM30 29h1v1h-1zM32 29h1v1h-1zM35 29h1v1h-1zM37 29h2v1h-2zM42 29h1v1h-1zM45 29h1v1h-1zM24 30h1v1h-1zM32 30h1v1h-1zM34 30h1v1h-1zM40 30h1v1h-1zM47 30h1v1h-1zM1 31h1v1h-1zM15 31h1v1h-1zM24 31h2v1h-2zM28 31h1v1h-1zM31 31h1v1h-1zM37 31h3v1h-3zM41 31h1v1h-1zM18 32h1v1h-1zM24 32h2v1h-2zM29 32h1v1h-1zM34 32h1v1h-1zM36 32h2v1h-2zM41 32h3v1h-3zM0 33h1v1h-1zM30 33h3v1h-3zM40 33h3v1h-3zM44 33h1v1h-1zM46 33h1v1h-1zM0 34h1v1h-1zM20 34h2v1h-2zM27 34h2v1h-2zM32 34h1v1h-1zM36 34h1v1h-1zM40 34h2v1h-2zM46 34h1v1h-1zM20 35h1v1h-1zM22 35h1v1h-1zM28 35h1v1h-1zM30 35h1v1h-1zM37 35h2v1h-2zM41 35h1v1h-1zM42 36h3v1h-3zM47 36h2v1h-2zM12 37h1v1h-1zM24 37h1v1h-1zM29 37h3v1h-3zM33 37h1v1h-1zM35 37h1v1h-1zM0 38h1v1h-1zM25 38h1v1h-1zM29 38h3v1h-3zM34 38h1v1h-1zM39 38h1v1h-1zM43 38h2v1h-2zM0 39h1v1h-1zM20 39h1v1h-1zM26 39h1v1h-1zM30 39h1v1h-1zM32 39h1v1h-1zM36 39h2v1h-2zM29 40h1v1h-1zM31 40h2v1h-2zM34 40h5v1h-5zM41 40h2v1h-2zM45 40h1v1h-1zM17 41h2v1h-2zM22 41h1v1h-1zM24 41h1v1h-1zM29 41h1v1h-1zM32 41h3v1h-3zM37 41h1v1h-1zM42 41h1v1h-1zM19 42h1v1h-1zM27 42h1v1h-1zM31 42h1v1h-1zM33 42h2v1h-2zM36 42h1v1h-1zM38 42h1v1h-1zM42 42h1v1h-1zM17 43h1v1h-1zM25 43h1v1h-1zM27 43h1v1h-1zM30 43h3v1h-3zM34 43h1v1h-1zM37 43h3v1h-3zM44 43h1v1h-1zM0 44h1v1h-1zM2 44h1v1h-1zM23 44h1v1h-1zM32 44h2v1h-2zM37 44h2v1h-2zM41 44h2v1h-2zM27 45h1v1h-1zM29 45h2v1h-2zM32 45h2v1h-2zM39 45h1v1h-1zM42 45h1v1h-1zM31 46h1v1h-1zM34 46h1v1h-1zM40 46h2v1h-2zM44 46h1v1h-1zM21 47h2v1h-2zM30 47h1v1h-1zM32 47h2v1h-2zM35 47h1v1h-1zM38 47h1v1h-1zM41 47h4v1h-4zM49 47h1v1h-1zM34 48h1v1h-1zM41 48h2v1h-2zM44 48h2v1h-2zM1 49h1v1h-1zM29 49h1v1h-1zM32 49h3v1h-3zM36 49h1v1h-1zM38 49h1v1h-1zM41 49h1v1h-1zM48 49h1v1h-1zM0 50h1v1h-1zM26 50h1v1h-1zM28 50h1v1h-1zM30 50h1v1h-1zM34 50h1v1h-1zM40 50h3v1h-3zM44 50h2v1h-2zM35 51h2v1h-2zM40 51h1v1h-1zM43 51h2v1h-2zM14 52h1v1h-1zM30 52h1v1h-1zM39 52h2v1h-2zM42 52h3v1h-3zM26 53h1v1h-1zM28 53h1v1h-1zM30 53h1v1h-1zM32 53h3v1h-3zM38 53h1v1h-1zM41 53h2v1h-2zM44 53h1v1h-1zM24 54h1v1h-1zM33 54h1v1h-1zM35 54h2v1h-2zM42 54h1v1h-1zM45 54h1v1h-1zM21 55h2v1h-2zM31 55h1v1h-1zM35 55h2v1h-2zM40 55h1v1h-1zM43 55h2v1h-2zM21 56h1v1h-1zM26 56h1v1h-1zM32 56h1v1h-1zM34 56h1v1h-1zM37 56h3v1h-3zM1 57h2v1h-2zM20 57h1v1h-1zM22 57h2v1h-2zM26 57h2v1h-2zM29 57h1v1h-1zM38 57h1v1h-1zM15 58h1v1h-1zM25 58h1v1h-1zM33 58h2v1h-2zM38 58h2v1h-2zM43 58h1v1h-1zM21 59h1v1h-1zM30 59h5v1h-5zM37 59h3v1h-3zM1 60h1v1h-1zM17 60h1v1h-1zM19 60h1v1h-1zM23 60h1v1h-1zM33 60h1v1h-1zM35 60h1v1h-1zM37 60h4v1h-4zM42 60h1v1h-1zM26 61h1v1h-1zM35 61h1v1h-1zM42 61h1v1h-1zM0 62h2v1h-2zM17 62h1v1h-1zM21 62h1v1h-1zM25 62h1v1h-1zM29 62h1v1h-1zM31 62h1v1h-1zM35 62h1v1h-1zM37 62h1v1h-1zM0 63h1v1h-1zM13 63h1v1h-1zM22 63h1v1h-1zM27 63h1v1h-1zM32 63h1v1h-1zM36 63h3v1h-3zM17 64h1v1h-1zM30 64h2v1h-2zM33 64h1v1h-1zM37 64h1v1h-1zM39 64h1v1h-1zM43 64h1v1h-1zM1 65h2v1h-2zM16 65h1v1h-1zM20 65h1v1h-1zM27 65h1v1h-1zM33 65h2v1h-2zM38 65h1v1h-1zM0 66h1v1h-1zM25 66h1v1h-1zM28 66h1v1h-1zM30 66h3v1h-3zM34 66h2v1h-2zM38 66h3v1h-3zM0 67h1v1h-1zM26 67h4v1h-4zM31 67h2v1h-2zM34 67h2v1h-2zM39 67h1v1h-1zM46 67h1v1h-1zM0 68h1v1h-1zM15 68h2v1h-2zM22 68h1v1h-1zM25 68h1v1h-1zM27 68h2v1h-2zM31 68h3v1h-3zM36 68h2v1h-2zM40 68h1v1h-1zM25 69h2v1h-2zM30 69h1v1h-1zM33 69h1v1h-1zM38 69h1v1h-1zM0 70h1v1h-1zM25 70h1v1h-1zM28 70h1v1h-1zM31 70h1v1h-1zM33 70h1v1h-1zM35 70h2v1h-2zM38 70h1v1h-1zM40 70h1v1h-1zM25 71h2v1h-2zM31 71h1v1h-1zM33 71h4v1h-4zM38 71h1v1h-1zM40 71h1v1h-1zM42 71h1v1h-1zM44 71h1v1h-1zM7 72h3v1h-3zM15 72h1v1h-1zM18 72h1v1h-1zM20 72h4v1h-4zM25 72h1v1h-1zM31 72h4v1h-4zM40 72h1v1h-1zM42 72h1v1h-1zM0 73h1v1h-1zM12 73h1v1h-1zM21 73h2v1h-2zM24 73h1v1h-1zM29 73h1v1h-1zM32 73h1v1h-1zM40 73h1v1h-1zM2 74h1v1h-1zM15 74h2v1h-2zM21 74h2v1h-2zM26 74h1v1h-1zM29 74h3v1h-3zM38 74h1v1h-1zM1 75h2v1h-2zM4 75h1v1h-1zM14 75h1v1h-1zM20 75h1v1h-1zM23 75h2v1h-2zM28 75h2v1h-2zM36 75h1v1h-1zM43 75h1v1h-1zM0 76h1v1h-1zM8 76h1v1h-1zM12 76h1v1h-1zM15 76h2v1h-2zM18 76h1v1h-1zM21 76h1v1h-1zM26 76h2v1h-2zM29 76h4v1h-4zM0 77h1v1h-1zM13 77h1v1h-1zM18 77h1v1h-1zM21 77h2v1h-2zM25 77h1v1h-1zM27 77h1v1h-1zM31 77h1v1h-1zM38 77h1v1h-1zM0 78h1v1h-1zM7 78h1v1h-1zM16 78h2v1h-2zM22 78h1v1h-1zM27 78h1v1h-1zM31 78h1v1h-1zM34 78h1v1h-1zM36 78h1v1h-1z"/>
<path fill="#ffee00" d="M2 0h3v1h-3zM7 0h2v1h-2zM15 0h1v1h-1zM18 0h1v1h-1zM20 0h1v1h-1zM22 0h1v1h-1zM1 1h1v1h-1zM4 1h1v1h-1zM12 1h1v1h-1zM17 1h1v1h-1zM19 1h1v1h-1zM24 1h1v1h-1zM27 1h1v1h-1zM30 1h1v1h-1zM5 2h1v1h-1zM8 2h1v1h-1zM10 2h1v1h-1zM18 2h1v1h-1zM20 2h2v1h-2zM23 2h1v1h-1zM27 2h1v1h-1zM36 2h2v1h-2zM39 2h1v1h-1zM8 3h1v1h-1zM15 3h3v1h-3zM23 3h1v1h-1zM32 3h1v1h-1zM34 3h1v1h-1zM0 4h2v1h-2zM7 4h1v1h-1zM9 4h1v1h-1zM13 4h2v1h-2zM16 4h3v1h-3zM20 4h2v1h-2zM25 4h1v1h-1zM27 4h1v1h-1zM29 4h1v1h-1zM38 4h1v1h-1zM41 4h1v1h-1zM14 5h1v1h-1zM19 5h1v1h-1zM22 5h1v1h-1zM31 5h1v1h-1zM35 5h1v1h-1zM38 5h3v1h-3zM0 6h1v1h-1zM19 6h1v1h-1zM21 6h2v1h-2zM25 6h2v1h-2zM32 6h1v1h-1zM38 6h1v1h-1zM10 7h1v1h-1zM12 7h1v1h-1zM15 7h1v1h-1zM18 7h2v1h-2zM27 7h2v1h-2zM35 7h1v1h-1zM37 7h1v1h-1zM4 8h1v1h-1zM6 8h3v1h-3zM12 8h1v1h-1zM16 8h2v1h-2zM24 8h1v1h-1zM26 8h1v1h-1zM32 8h1v1h-1zM1 9h1v1h-1zM15 9h1v1h-1zM19 9h1v1h-1zM25 9h2v1h-2zM28 9h1v1h-1zM30 9h1v1h-1zM0 10h1v1h-1zM5 10h1v1h-1zM8 10h1v1h-1zM10 10h1v1h-1zM19 10h1v1h-1zM21 10h2v1h-2zM38 10h1v1h-1zM11 11h1v1h-1zM20 11h1v1h-1zM28 11h1v1h-1zM32 11h1v1h-1zM41 11h1v1h-1zM0 12h2v1h-2zM17 12h1v1h-1zM19 12h1v1h-1zM27 12h1v1h-1zM29 12h2v1h-2zM36 12h1v1h-1zM42 12h1v1h-1zM45 12h1v1h-1zM3 13h1v1h-1zM5 13h1v1h-1zM13 13h1v1h-1zM17 13h1v1h-1zM20 13h1v1h-1zM27 13h1v1h-1zM33 13h1v1h-1zM35 13h1v1h-1zM37 13h2v1h-2zM0 14h1v1h-1zM2 14h1v1h-1zM4 14h1v1h-1zM12 14h1v1h-1zM14 14h2v1h-2zM23 14h2v1h-2zM26 14h3v1h-3zM31 14h1v1h-1zM34 14h1v1h-1zM38 14h1v1h-1zM40 14h1v1h-1zM0 15h1v1h-1zM3 15h1v1h-1zM11 15h2v1h-2zM29 15h3v1h-3zM33 15h2v1h-2zM0 16h1v1h-1zM7 16h1v1h-1zM9 16h1v1h-1zM20 16h1v1h-1zM24 16h1v1h-1zM27 16h1v1h-1zM31 16h6v1h-6zM40 16h1v1h-1zM19 17h1v1h-1zM26 17h1v1h-1zM31 17h1v1h-1zM37 17h1v1h-1zM39 17h3v1h-3zM44 17h1v1h-1zM12 18h1v1h-1zM24 18h1v1h-1zM27 18h1v1h-1zM32 18h1v1h-1zM35 18h1v1h-1zM41 18h1v1h-1zM43 18h1v1h-1zM12 19h1v1h-1zM16 19h1v1h-1zM23 19h3v1h-3zM27 19h1v1h-1zM32 19h1v1h-1zM36 19h1v1h-1zM0 20h1v1h-1zM17 20h1v1h-1zM21 20h2v1h-2zM24 20h1v1h-1zM27 20h2v1h-2zM31 20h3v1h-3zM0 21h1v1h-1zM6 21h1v1h-1zM8 21h1v1h-1zM10 21h1v1h-1zM13 21h1v1h-1zM19 21h4v1h-4zM26 21h4v1h-4zM31 21h3v1h-3zM36 21h1v1h-1zM39 21h1v1h-1zM16 22h1v1h-1zM24 22h1v1h-1zM30 22h1v1h-1zM32 22h1v1h-1zM37 22h3v1h-3zM44 22h1v1h-1zM0 23h1v1h-1zM18 23h2v1h-2zM21 23h1v1h-1zM27 23h1v1h-1zM29 23h1v1h-1zM31 23h3v1h-3zM36 23h1v1h-1zM1 24h1v1h-1zM4 24h1v1h-1zM16 24h1v1h-1zM19 24h2v1h-2zM23 24h1v1h-1zM25 24h1v1h-1zM29 24h1v1h-1zM32 24h1v1h-1zM34 24h1v1h-1zM37 24h1v1h-1zM1 25h1v1h-1zM26 25h4v1h-4zM33 25h2v1h-2zM37 25h1v1h-1zM44 25h1v1h-1zM0 26h2v1h-2zM16 26h3v1h-3zM26 26h2v1h-2zM29 26h1v1h-1zM31 26h3v1h-3zM38 26h1v1h-1zM13 27h1v1h-1zM16 27h1v1h-1zM26 27h1v1h-1zM33 27h1v1h-1zM35 27h2v1h-2zM39 27h1v1h-1zM0 28h1v1h-1zM34 28h1v1h-1zM40 28h1v1h-1zM43 28h1v1h-1zM48 28h1v1h-1zM0 29h1v1h-1zM13 29h1v1h-1zM15 29h1v1h-1zM23 29h1v1h-1zM25 29h3v1h-3zM34 29h1v1h-1zM36 29h1v1h-1zM0 30h2v1h-2zM21 30h1v1h-1zM26 30h2v1h-2zM29 30h2v1h-2zM35 30h3v1h-3zM41 30h3v1h-3zM7 31h1v1h-1zM13 31h1v1h-1zM16 31h1v1h-1zM19 31h1v1h-1zM21 31h1v1h-1zM26 31h2v1h-2zM30 31h1v1h-1zM32 31h1v1h-1zM34 31h1v1h-1zM1 32h1v1h-1zM20 32h1v1h-1zM22 32h2v1h-2zM26 32h1v1h-1zM28 32h1v1h-1zM30 32h1v1h-1zM32 32h1v1h-1zM39 32h1v1h-1zM15 33h2v1h-2zM22 33h2v1h-2zM27 33h2v1h-2zM37 33h1v1h-1zM1 34h1v1h-1zM16 34h1v1h-1zM23 34h3v1h-3zM29 34h1v1h-1zM37 34h2v1h-2zM43 34h1v1h-1zM5 35h1v1h-1zM10 35h1v1h-1zM12 35h1v1h-1zM15 35h3v1h-3zM24 35h2v1h-2zM27 35h1v1h-1zM31 35h1v1h-1zM34 35h1v1h-1zM36 35h1v1h-1zM1 36h1v1h-1zM18 36h1v1h-1zM24 36h1v1h-1zM27 36h1v1h-1zM30 36h1v1h-1zM34 36h3v1h-3zM38 36h4v1h-4zM49 36h1v1h-1zM0 37h1v1h-1zM13 37h1v1h-1zM23 37h1v1h-1zM32 37h1v1h-1zM37 37h3v1h-3zM41 37h1v1h-1zM1 38h1v1h-1zM19 38h3v1h-3zM26 38h3v1h-3zM33 38h1v1h-1zM35 38h4v1h-4zM41 38h1v1h-1zM1 39h1v1h-1zM4 39h1v1h-1zM10 39h1v1h-1zM12 39h1v1h-1zM15 39h1v1h-1zM17 39h3v1h-3zM22 39h1v1h-1zM25 39h1v1h-1zM27 39h3v1h-3zM31 39h1v1h-1zM35 39h1v1h-1zM40 39h1v1h-1zM0 40h1v1h-1zM20 40h2v1h-2zM28 40h1v1h-1zM30 40h1v1h-1zM33 40h1v1h-1zM39 40h1v1h-1zM0 41h1v1h-1zM21 41h1v1h-1zM25 41h1v1h-1zM27 41h1v1h-1zM30 41h2v1h-2zM38 41h1v1h-1zM0 42h1v1h-1zM10 42h1v1h-1zM14 42h1v1h-1zM16 42h2v1h-2zM20 42h5v1h-5zM26 42h1v1h-1zM28 42h1v1h-1zM37 42h1v1h-1zM39 42h1v1h-1zM0 43h2v1h-2zM23 43h1v1h-1zM36 43h1v1h-1zM42 43h1v1h-1zM3 44h1v1h-1zM7 44h1v1h-1zM10 44h1v1h-1zM12 44h3v1h-3zM18 44h3v1h-3zM25 44h5v1h-5zM31 44h1v1h-1zM34 44h3v1h-3zM0 45h1v1h-1zM10 45h1v1h-1zM12 45h1v1h-1zM15 45h1v1h-1zM23 45h4v1h-4zM28 45h1v1h-1zM34 45h4v1h-4zM17 46h1v1h-1zM21 46h2v1h-2zM26 46h1v1h-1zM28 46h1v1h-1zM43 46h1v1h-1zM13 47h1v1h-1zM16 47h1v1h-1zM18 47h2v1h-2zM27 47h1v1h-1zM31 47h1v1h-1zM11 48h1v1h-1zM22 48h1v1h-1zM32 48h1v1h-1zM35 48h1v1h-1zM40 48h1v1h-1zM13 49h1v1h-1zM19 49h1v1h-1zM25 49h4v1h-4zM31 49h1v1h-1zM35 49h1v1h-1zM37 49h1v1h-1zM40 49h1v1h-1zM42 49h1v1h-1zM25 50h1v1h-1zM29 50h1v1h-1zM33 50h1v1h-1zM35 50h5v1h-5zM17 51h1v1h-1zM24 51h1v1h-1zM27 51h1v1h-1zM30 51h1v1h-1zM32 51h3v1h-3zM37 51h3v1h-3zM42 51h1v1h-1zM45 51h1v1h-1zM0 52h2v1h-2zM18 52h1v1h-1zM26 52h1v1h-1zM33 52h5v1h-5zM41 52h1v1h-1zM0 53h2v1h-2zM12 53h2v1h-2zM15 53h1v1h-1zM20 53h2v1h-2zM29 53h1v1h-1zM39 53h2v1h-2zM43 53h1v1h-1zM0 54h1v1h-1zM8 54h1v1h-1zM16 54h1v1h-1zM19 54h1v1h-1zM30 54h1v1h-1zM32 54h1v1h-1zM34 54h1v1h-1zM37 54h1v1h-1zM39 54h1v1h-1zM41 54h1v1h-1zM0 55h1v1h-1zM19 55h1v1h-1zM25 55h3v1h-3zM34 55h1v1h-1zM37 55h3v1h-3zM0 56h1v1h-1zM18 56h1v1h-1zM24 56h2v1h-2zM28 56h2v1h-2zM31 56h1v1h-1zM33 56h1v1h-1zM40 56h1v1h-1zM0 57h1v1h-1zM7 57h1v1h-1zM9 57h3v1h-3zM13 57h1v1h-1zM15 57h2v1h-2zM25 57h1v1h-1zM28 57h1v1h-1zM36 57h1v1h-1zM0 58h2v1h-2zM8 58h1v1h-1zM14 58h1v1h-1zM18 58h1v1h-1zM24 58h1v1h-1zM27 58h4v1h-4zM32 58h1v1h-1zM35 58h1v1h-1zM1 59h1v1h-1zM6 59h1v1h-1zM8 59h1v1h-1zM11 59h1v1h-1zM15 59h3v1h-3zM19 59h1v1h-1zM23 59h2v1h-2zM26 59h2v1h-2zM20 60h1v1h-1zM28 60h4v1h-4zM43 60h1v1h-1zM0 61h2v1h-2zM23 61h1v1h-1zM27 61h2v1h-2zM31 61h4v1h-4zM39 61h1v1h-1zM41 61h1v1h-1zM4 62h1v1h-1zM6 62h1v1h-1zM14 62h3v1h-3zM20 62h1v1h-1zM22 62h3v1h-3zM27 62h1v1h-1zM30 62h1v1h-1zM32 62h2v1h-2zM17 63h4v1h-4zM23 63h1v1h-1zM26 63h1v1h-1zM28 63h3v1h-3zM34 63h2v1h-2zM39 63h1v1h-1zM0 64h1v1h-1zM4 64h1v1h-1zM10 64h1v1h-1zM19 64h2v1h-2zM22 64h1v1h-1zM29 64h1v1h-1zM32 64h1v1h-1zM4 65h1v1h-1zM7 65h1v1h-1zM9 65h1v1h-1zM12 65h2v1h-2zM17 65h3v1h-3zM22 65h1v1h-1zM13 66h1v1h-1zM15 66h2v1h-2zM20 66h2v1h-2zM23 66h1v1h-1zM27 66h1v1h-1zM36 66h1v1h-1zM43 66h1v1h-1zM1 67h1v1h-1zM9 67h1v1h-1zM15 67h1v1h-1zM18 67h3v1h-3zM22 67h1v1h-1zM24 67h1v1h-1zM30 67h1v1h-1zM33 67h1v1h-1zM36 67h1v1h-1zM5 68h1v1h-1zM10 68h1v1h-1zM18 68h3v1h-3zM24 68h1v1h-1zM26 68h1v1h-1zM29 68h1v1h-1zM38 68h1v1h-1zM2 69h1v1h-1zM10 69h1v1h-1zM18 69h2v1h-2zM27 69h1v1h-1zM32 69h1v1h-1zM1 70h1v1h-1zM10 70h1v1h-1zM20 70h1v1h-1zM22 70h2v1h-2zM26 70h1v1h-1zM34 70h1v1h-1zM11 71h1v1h-1zM15 71h1v1h-1zM18 71h1v1h-1zM23 71h1v1h-1zM27 71h2v1h-2zM3 72h1v1h-1zM10 72h4v1h-4zM16 72h1v1h-1zM27 72h1v1h-1zM1 73h2v1h-2zM4 73h1v1h-1zM14 73h1v1h-1zM18 73h3v1h-3zM23 73h1v1h-1zM26 73h1v1h-1zM33 73h1v1h-1zM1 74h1v1h-1zM5 74h1v1h-1zM8 74h3v1h-3zM12 74h3v1h-3zM18 74h3v1h-3zM25 74h1v1h-1zM34 74h1v1h-1zM36 74h1v1h-1zM3 75h1v1h-1zM6 75h4v1h-4zM11 75h3v1h-3zM15 75h4v1h-4zM27 75h1v1h-1zM32 75h1v1h-1zM4 76h3v1h-3zM10 76h1v1h-1zM14 76h1v1h-1zM19 76h1v1h-1zM12 77h1v1h-1zM14 77h1v1h-1zM20 77h1v1h-1zM23 77h1v1h-1zM29 77h2v1h-2zM1 78h2v1h-2zM8 78h1v1h-1zM10 78h1v1h-1zM13 78h1v1h-1zM18 78h1v1h-1zM24 78h2v1h-2zM30 78h1v1h-1z"/>
<path fill="#ff7700" d="M9 0h1v1h-1zM11 0h1v1h-1zM5 1h1v1h-1zM7 1h1v1h-1zM11 1h1v1h-1zM14 1h1v1h-1zM16 1h1v1h-1zM6 2h1v1h-1zM9 2h1v1h-1zM32 2h1v1h-1zM6 3h2v1h-2zM10 3h2v1h-2zM13 3h1v1h-1zM20 3h1v1h-1zM5 4h2v1h-2zM8 4h1v1h-1zM11 4h2v1h-2zM31 4h1v1h-1zM2 5h1v1h-1zM6 5h1v1h-1zM10 5h1v1h-1zM12 5h2v1h-2zM17 5h2v1h-2zM26 5h1v1h-1zM2 6h3v1h-3zM8 6h1v1h-1zM10 6h1v1h-1zM14 6h5v1h-5zM23 6h1v1h-1zM3 7h1v1h-1zM7 7h1v1h-1zM21 7h1v1h-1zM10 8h2v1h-2zM2 9h1v1h-1zM4 9h2v1h-2zM14 9h1v1h-1zM17 9h1v1h-1zM1 10h1v1h-1zM6 10h1v1h-1zM12 10h2v1h-2zM1 11h1v1h-1zM5 11h2v1h-2zM8 11h1v1h-1zM12 11h2v1h-2zM19 11h1v1h-1zM22 11h1v1h-1zM29 11h1v1h-1zM2 12h1v1h-1zM4 12h1v1h-1zM8 12h3v1h-3zM18 12h1v1h-1zM20 12h1v1h-1zM23 12h2v1h-2zM7 13h1v1h-1zM11 13h1v1h-1zM16 13h1v1h-1zM21 13h1v1h-1zM30 13h1v1h-1zM1 14h1v1h-1zM6 14h1v1h-1zM8 14h1v1h-1zM13 14h1v1h-1zM17 14h1v1h-1zM2 15h1v1h-1zM5 15h1v1h-1zM8 15h2v1h-2zM14 15h1v1h-1zM20 15h1v1h-1zM2 16h2v1h-2zM14 16h1v1h-1zM16 16h1v1h-1zM4 17h1v1h-1zM6 17h2v1h-2zM13 17h1v1h-1zM15 17h1v1h-1zM17 17h1v1h-1zM25 17h1v1h-1zM29 17h1v1h-1zM36 17h1v1h-1zM1 18h1v1h-1zM8 18h1v1h-1zM11 18h1v1h-1zM15 18h2v1h-2zM18 18h1v1h-1zM21 18h1v1h-1zM26 18h1v1h-1zM36 18h1v1h-1zM2 19h1v1h-1zM8 19h1v1h-1zM11 19h1v1h-1zM13 19h3v1h-3zM18 19h1v1h-1zM1 20h1v1h-1zM5 20h3v1h-3zM12 20h1v1h-1zM23 20h1v1h-1zM25 20h1v1h-1zM3 21h1v1h-1zM11 21h2v1h-2zM2 22h1v1h-1zM5 22h1v1h-1zM8 22h1v1h-1zM12 22h2v1h-2zM18 22h1v1h-1zM21 22h2v1h-2zM2 23h1v1h-1zM5 23h1v1h-1zM11 23h1v1h-1zM13 23h1v1h-1zM15 23h3v1h-3zM26 23h1v1h-1zM3 24h1v1h-1zM6 24h2v1h-2zM10 24h2v1h-2zM13 24h1v1h-1zM15 24h1v1h-1zM17 24h1v1h-1zM2 25h3v1h-3zM8 25h3v1h-3zM13 25h1v1h-1zM16 25h3v1h-3zM20 25h3v1h-3zM3 26h1v1h-1zM11 26h3v1h-3zM15 26h1v1h-1zM21 26h1v1h-1zM23 26h1v1h-1zM8 27h2v1h-2zM11 27h2v1h-2zM17 27h2v1h-2zM27 27h1v1h-1zM31 27h1v1h-1zM10 28h1v1h-1zM14 28h1v1h-1zM20 28h1v1h-1zM23 28h2v1h-2zM26 28h1v1h-1zM29 28h1v1h-1zM36 28h1v1h-1zM1 29h1v1h-1zM4 29h1v1h-1zM6 29h1v1h-1zM10 29h1v1h-1zM14 29h1v1h-1zM17 29h2v1h-2zM21 29h2v1h-2zM24 29h1v1h-1zM5 30h1v1h-1zM7 30h1v1h-1zM14 30h3v1h-3zM31 30h1v1h-1zM2 31h1v1h-1zM5 31h2v1h-2zM8 31h1v1h-1zM14 31h1v1h-1zM17 31h1v1h-1zM3 32h1v1h-1zM5 32h1v1h-1zM7 32h2v1h-2zM11 32h1v1h-1zM19 32h1v1h-1zM4 33h2v1h-2zM7 33h1v1h-1zM12 33h1v1h-1zM17 33h2v1h-2zM2 34h1v1h-1zM5 34h1v1h-1zM15 34h1v1h-1zM18 34h2v1h-2zM3 35h2v1h-2zM6 35h2v1h-2zM9 35h1v1h-1zM13 35h1v1h-1zM18 35h1v1h-1zM23 35h1v1h-1zM9 36h2v1h-2zM12 36h1v1h-1zM15 36h2v1h-2zM32 36h1v1h-1zM2 37h1v1h-1zM4 37h3v1h-3zM8 37h1v1h-1zM10 37h2v1h-2zM16 37h1v1h-1zM19 37h2v1h-2zM2 38h1v1h-1zM5 38h1v1h-1zM10 38h1v1h-1zM13 38h1v1h-1zM23 38h2v1h-2zM3 39h1v1h-1zM5 40h4v1h-4zM11 40h1v1h-1zM14 40h2v1h-2zM26 40h1v1h-1zM4 41h1v1h-1zM7 41h1v1h-1zM9 41h1v1h-1zM11 41h1v1h-1zM13 41h2v1h-2zM19 41h1v1h-1zM8 42h1v1h-1zM29 42h1v1h-1zM2 43h3v1h-3zM7 43h2v1h-2zM10 43h3v1h-3zM19 43h1v1h-1zM21 43h2v1h-2zM26 43h1v1h-1zM6 44h1v1h-1zM8 44h1v1h-1zM11 44h1v1h-1zM17 44h1v1h-1zM2 45h1v1h-1zM6 45h1v1h-1zM13 45h1v1h-1zM16 45h1v1h-1zM18 45h2v1h-2zM2 46h3v1h-3zM8 46h2v1h-2zM14 46h1v1h-1zM27 46h1v1h-1zM30 46h1v1h-1zM36 46h1v1h-1zM2 47h1v1h-1zM4 47h1v1h-1zM9 47h1v1h-1zM12 47h1v1h-1zM15 47h1v1h-1zM23 47h1v1h-1zM25 47h1v1h-1zM0 48h1v1h-1zM2 48h1v1h-1zM12 48h1v1h-1zM16 48h1v1h-1zM26 48h2v1h-2zM36 48h1v1h-1zM38 48h2v1h-2zM3 49h1v1h-1zM5 49h1v1h-1zM14 49h3v1h-3zM20 49h1v1h-1zM2 50h4v1h-4zM10 50h1v1h-1zM12 50h1v1h-1zM14 50h5v1h-5zM21 50h1v1h-1zM24 50h1v1h-1zM0 51h1v1h-1zM2 51h2v1h-2zM5 51h2v1h-2zM9 51h1v1h-1zM19 51h2v1h-2zM22 51h2v1h-2zM25 51h1v1h-1zM28 51h1v1h-1zM6 52h1v1h-1zM10 52h1v1h-1zM12 52h1v1h-1zM16 52h1v1h-1zM22 52h1v1h-1zM25 52h1v1h-1zM31 52h1v1h-1zM2 53h1v1h-1zM7 53h2v1h-2zM16 53h1v1h-1zM18 53h1v1h-1zM27 53h1v1h-1zM3 54h1v1h-1zM5 54h2v1h-2zM10 54h1v1h-1zM12 54h1v1h-1zM14 54h2v1h-2zM21 54h1v1h-1zM26 54h1v1h-1zM31 54h1v1h-1zM1 55h2v1h-2zM6 55h3v1h-3zM12 55h1v1h-1zM14 55h2v1h-2zM20 55h1v1h-1zM2 56h2v1h-2zM11 56h1v1h-1zM27 56h1v1h-1zM5 57h2v1h-2zM14 57h1v1h-1zM18 57h1v1h-1zM2 58h1v1h-1zM5 58h3v1h-3zM9 58h1v1h-1zM11 58h2v1h-2zM3 59h1v1h-1zM5 59h1v1h-1zM10 59h1v1h-1zM14 59h1v1h-1zM3 60h1v1h-1zM6 60h2v1h-2zM10 60h1v1h-1zM13 60h1v1h-1zM15 60h2v1h-2zM8 61h1v1h-1zM10 61h1v1h-1zM12 61h1v1h-1zM15 61h1v1h-1zM21 61h1v1h-1zM25 61h1v1h-1zM3 62h1v1h-1zM5 62h1v1h-1zM8 62h1v1h-1zM13 62h1v1h-1zM3 63h1v1h-1zM5 63h1v1h-1zM10 63h3v1h-3zM16 63h1v1h-1zM21 63h1v1h-1zM25 63h1v1h-1zM40 63h1v1h-1zM1 64h1v1h-1zM7 64h2v1h-2zM16 64h1v1h-1zM23 64h1v1h-1zM28 64h1v1h-1zM14 65h1v1h-1zM5 66h2v1h-2zM8 66h2v1h-2zM17 66h1v1h-1zM3 67h1v1h-1zM5 67h1v1h-1zM11 67h1v1h-1zM13 67h2v1h-2zM3 68h2v1h-2zM8 68h2v1h-2zM11 68h1v1h-1zM13 68h1v1h-1zM17 68h1v1h-1zM4 69h3v1h-3zM8 69h1v1h-1zM2 70h3v1h-3zM7 70h1v1h-1zM9 70h1v1h-1zM21 70h1v1h-1zM2 71h3v1h-3zM7 71h4v1h-4zM12 71h3v1h-3zM20 71h1v1h-1zM4 72h1v1h-1zM19 72h1v1h-1zM3 73h1v1h-1zM7 73h1v1h-1zM13 73h1v1h-1zM4 74h1v1h-1zM5 75h1v1h-1zM2 76h1v1h-1zM4 77h1v1h-1zM6 77h1v1h-1zM9 77h1v1h-1zM11 77h1v1h-1zM3 78h1v1h-1zM9 78h1v1h-1zM11 78h2v1h-2zM21 78h1v1h-1z"/>
<path fill="#ff3000" d="M13 2h1v1h-1zM2 3h1v1h-1zM9 3h1v1h-1zM19 3h1v1h-1zM4 4h1v1h-1zM8 5h1v1h-1zM5 6h1v1h-1zM9 6h1v1h-1zM9 7h1v1h-1zM7 9h1v1h-1zM18 9h1v1h-1zM3 10h1v1h-1zM16 10h1v1h-1zM3 11h2v1h-2zM7 11h1v1h-1zM9 11h2v1h-2zM14 11h1v1h-1zM11 12h1v1h-1zM15 12h1v1h-1zM21 12h1v1h-1zM2 13h1v1h-1zM6 13h1v1h-1zM9 13h1v1h-1zM14 13h1v1h-1zM10 14h1v1h-1zM16 14h1v1h-1zM4 16h1v1h-1zM6 16h1v1h-1zM8 16h1v1h-1zM10 16h1v1h-1zM15 16h1v1h-1zM17 16h1v1h-1zM2 17h1v1h-1zM5 17h1v1h-1zM8 17h4v1h-4zM14 17h1v1h-1zM28 17h1v1h-1zM3 18h2v1h-2zM6 18h2v1h-2zM9 18h1v1h-1zM13 18h1v1h-1zM4 19h1v1h-1zM6 19h2v1h-2zM9 19h1v1h-1zM17 19h1v1h-1zM8 20h2v1h-2zM11 20h1v1h-1zM13 20h1v1h-1zM19 20h1v1h-1zM6 22h2v1h-2zM9 22h1v1h-1zM11 22h1v1h-1zM14 22h2v1h-2zM17 22h1v1h-1zM6 23h2v1h-2zM9 23h1v1h-1zM12 23h1v1h-1zM2 24h1v1h-1zM9 24h1v1h-1zM14 24h1v1h-1zM24 24h1v1h-1zM11 25h1v1h-1zM15 25h1v1h-1zM2 26h1v1h-1zM5 26h1v1h-1zM7 26h2v1h-2zM19 26h1v1h-1zM4 27h2v1h-2zM7 27h1v1h-1zM20 27h1v1h-1zM1 28h1v1h-1zM5 28h2v1h-2zM8 28h2v1h-2zM12 28h2v1h-2zM15 28h2v1h-2zM18 28h2v1h-2zM21 28h1v1h-1zM25 28h1v1h-1zM28 28h1v1h-1zM3 29h1v1h-1zM16 29h1v1h-1zM3 30h2v1h-2zM11 30h3v1h-3zM20 30h1v1h-1zM6 33h1v1h-1zM8 33h2v1h-2zM11 33h1v1h-1zM3 34h1v1h-1zM6 34h1v1h-1zM9 34h1v1h-1zM11 34h1v1h-1zM8 35h1v1h-1zM11 35h1v1h-1zM2 36h1v1h-1zM7 36h1v1h-1zM11 36h1v1h-1zM14 36h1v1h-1zM19 36h1v1h-1zM23 36h1v1h-1zM25 36h1v1h-1zM29 36h1v1h-1zM3 37h1v1h-1zM7 37h1v1h-1zM7 38h1v1h-1zM11 38h1v1h-1zM15 38h3v1h-3zM6 39h2v1h-2zM13 39h1v1h-1zM2 40h1v1h-1zM23 40h1v1h-1zM2 41h1v1h-1zM6 41h1v1h-1zM10 41h1v1h-1zM12 41h1v1h-1zM3 42h2v1h-2zM11 42h1v1h-1zM18 42h1v1h-1zM14 43h1v1h-1zM16 43h1v1h-1zM4 45h1v1h-1zM11 45h1v1h-1zM5 46h1v1h-1zM7 46h1v1h-1zM11 46h1v1h-1zM13 46h1v1h-1zM18 46h1v1h-1zM32 46h1v1h-1zM5 47h2v1h-2zM8 47h1v1h-1zM28 47h1v1h-1zM5 48h2v1h-2zM8 48h2v1h-2zM14 48h1v1h-1zM2 49h1v1h-1zM4 49h1v1h-1zM7 49h6v1h-6zM7 50h2v1h-2zM11 50h1v1h-1zM20 50h1v1h-1zM8 51h1v1h-1zM14 51h1v1h-1zM4 52h1v1h-1zM7 52h1v1h-1zM9 52h1v1h-1zM13 52h1v1h-1zM3 53h1v1h-1zM25 53h1v1h-1zM2 54h1v1h-1zM9 54h1v1h-1zM13 54h1v1h-1zM18 54h1v1h-1zM27 54h1v1h-1zM3 55h2v1h-2zM9 55h1v1h-1zM17 55h1v1h-1zM4 56h6v1h-6zM14 56h1v1h-1zM16 56h1v1h-1zM19 56h1v1h-1zM22 56h1v1h-1zM3 58h1v1h-1zM10 58h1v1h-1zM13 58h1v1h-1zM19 58h1v1h-1zM9 59h1v1h-1zM4 60h1v1h-1zM8 60h1v1h-1zM2 61h1v1h-1zM4 61h1v1h-1zM6 61h1v1h-1zM9 61h1v1h-1zM13 61h1v1h-1zM2 63h1v1h-1zM4 63h1v1h-1zM6 63h3v1h-3zM2 64h1v1h-1zM5 64h2v1h-2zM9 64h1v1h-1zM14 64h2v1h-2zM5 65h1v1h-1zM3 66h1v1h-1zM12 66h1v1h-1zM4 67h1v1h-1zM6 67h1v1h-1zM8 67h1v1h-1zM7 68h1v1h-1zM14 68h1v1h-1zM15 69h1v1h-1zM8 70h1v1h-1zM12 70h1v1h-1zM15 78h1v1h-1z"/>
<path fill="#ff0000" d="M5 5h1v1h-1zM9 5h1v1h-1zM6 9h1v1h-1zM2 11h1v1h-1zM16 11h1v1h-1zM3 12h1v1h-1zM5 12h3v1h-3zM8 13h1v1h-1zM7 15h1v1h-1zM5 16h1v1h-1zM19 16h1v1h-1zM3 17h1v1h-1zM12 17h1v1h-1zM16 17h1v1h-1zM2 18h1v1h-1zM5 18h1v1h-1zM10 18h1v1h-1zM4 20h1v1h-1zM7 21h1v1h-1zM4 23h1v1h-1zM5 24h1v1h-1zM12 24h1v1h-1zM5 25h1v1h-1zM7 25h1v1h-1zM4 26h1v1h-1zM6 26h1v1h-1zM10 26h1v1h-1zM2 27h1v1h-1zM2 28h3v1h-3zM7 28h1v1h-1zM11 28h1v1h-1zM17 28h1v1h-1zM22 28h1v1h-1zM5 29h1v1h-1zM9 29h1v1h-1zM8 30h1v1h-1zM10 30h1v1h-1zM11 31h1v1h-1zM4 32h1v1h-1zM10 34h1v1h-1zM3 36h4v1h-4zM8 36h1v1h-1zM3 38h2v1h-2zM9 38h1v1h-1zM12 38h1v1h-1zM2 39h1v1h-1zM3 40h2v1h-2zM6 43h1v1h-1zM9 44h1v1h-1zM6 46h1v1h-1zM10 46h1v1h-1zM12 46h1v1h-1zM15 46h2v1h-2zM7 47h1v1h-1zM11 47h1v1h-1zM3 48h1v1h-1zM7 48h1v1h-1zM13 48h1v1h-1zM15 48h1v1h-1zM6 50h1v1h-1zM7 51h1v1h-1zM10 51h1v1h-1zM12 51h2v1h-2zM8 52h1v1h-1zM5 53h2v1h-2zM9 53h1v1h-1zM14 53h1v1h-1zM4 54h1v1h-1zM7 54h1v1h-1zM5 55h1v1h-1zM13 55h1v1h-1zM3 61h1v1h-1zM5 61h1v1h-1zM9 63h1v1h-1zM6 71h1v1h-1z"/>
</g>
<g shape-rendering="crispEdges" stroke="none">
<rect x="570" y="721.75" width="8.5" height="5.3" fill="#6300ff"/>
<rect x="570" y="716.5" width="8.5" height="5.3" fill="#3300ff"/>
<rect x="570" y="711.25" width="8.5" height="5.3" fill="#0014ff"/>
<rect x="570" y="706" width="8.5" height="5.3" fill="#0044ff"/>
<rect x="570" y="700.75" width="8.5" height="5.3" fill="#008bff"/>
<rect x="570" y="695.5" width="8.5" height="5.3" fill="#00bbff"/>
<rect x="570" y="690.25" width="8.5" height="5.3" fill="#00fffc"/>
<rect x="570" y="685" width="8.5" height="5.3" fill="#00ffcc"/>
<rect x="570" y="679.75" width="8.5" height="5.3" fill="#00ff85"/>
<rect x="570" y="674.5" width="8.5" height="5.3" fill="#00ff55"/>
<rect x="570" y="669.25" width="8.5" height="5.3" fill="#00ff0e"/>
<rect x="570" y="664" width="8.5" height="5.3" fill="#22ff00"/>
<rect x="570" y="658.75" width="8.5" height="5.3" fill="#69ff00"/>
<rect x="570" y="653.5" width="8.5" height="5.3" fill="#99ff00"/>
<rect x="570" y="648.25" width="8.5" height="5.3" fill="#e0ff00"/>
<rect x="570" y="643" width="8.5" height="5.3" fill="#ffee00"/>
<rect x="570" y="637.75" width="8.5" height="5.3" fill="#ffa700"/>
<rect x="570" y="632.5" width="8.5" height="5.3" fill="#ff7700"/>
<rect x="570" y="627.25" width="8.5" height="5.3" fill="#ff3000"/>
<rect x="570" y="622" width="8.5" height="5.3" fill="#ff0000"/>
</g>
<text x="579.5" y="726.4" font-size="4.4" font-weight="bold" style="font-family:&quot;Liberation Sans&quot;,sans-serif">1.6</text>
<text x="579.5" y="711.71" font-size="4.4" font-weight="bold" style="font-family:&quot;Liberation Sans&quot;,sans-serif">1.8</text>
<text x="579.5" y="697.03" font-size="4.4" font-weight="bold" style="font-family:&quot;Liberation Sans&quot;,sans-serif">2</text>
<text x="579.5" y="682.34" font-size="4.4" font-weight="bold" style="font-family:&quot;Liberation Sans&quot;,sans-serif">2.2</text>
<text x="579.5" y="667.66" font-size="4.4" font-weight="bold" style="font-family:&quot;Liberation Sans&quot;,sans-serif">2.4</text>
<text x="579.5" y="652.97" font-size="4.4" font-weight="bold" style="font-family:&quot;Liberation Sans&quot;,sans-serif">2.6</text>
<text x="579.5" y="638.29" font-size="4.4" font-weight="bold" style="font-family:&quot;Liberation Sans&quot;,sans-serif">2.8</text>
<text x="579.5" y="623.6" font-size="4.4" font-weight="bold" style="font-family:&quot;Liberation Sans&quot;,sans-serif">3</text>
<path d="M578.5 622V727M578.5 724.8h-4M578.5 710.11h-4M578.5 695.43h-4M578.5 680.74h-4M578.5 666.06h-4M578.5 651.37h-4M578.5 636.69h-4M578.5 622h-4" stroke="#000" stroke-width="1" fill="none"/>
<path d="M423.5 622V727.5H569.5V622" stroke="#000" stroke-width="1" fill="none"/>
<path d="M423.5 727.5v-4.5M451.58 727.5v-4.5M479.65 727.5v-4.5M507.73 727.5v-4.5M535.81 727.5v-4.5M563.88 727.5v-4.5" stroke="#000" stroke-width="1" fill="none"/>
<text x="423.5" y="736.1" font-size="10.3" text-anchor="middle">0</text>
<text x="451.58" y="736.1" font-size="10.3" text-anchor="middle">10</text>
<text x="479.65" y="736.1" font-size="10.3" text-anchor="middle">20</text>
<text x="507.73" y="736.1" font-size="10.3" text-anchor="middle">30</text>
<text x="535.81" y="736.1" font-size="10.3" text-anchor="middle">40</text>
<text x="563.88" y="736.1" font-size="10.3" text-anchor="middle">50</text>
<path d="M423.5 727.5h4.5M423.5 713.5h4.5M423.5 700.5h4.5M423.5 687.5h4.5M423.5 674.5h4.5M423.5 661.5h4.5M423.5 648.5h4.5M423.5 635.5h4.5M423.5 622.5h4.5" stroke="#000" stroke-width="1" fill="none"/>
<text x="422.3" y="730.9" font-size="10.3" text-anchor="end">0</text>
<text x="422.3" y="716.9" font-size="10.3" text-anchor="end">10</text>
<text x="422.3" y="703.9" font-size="10.3" text-anchor="end">20</text>
<text x="422.3" y="690.9" font-size="10.3" text-anchor="end">30</text>
<text x="422.3" y="677.9" font-size="10.3" text-anchor="end">40</text>
<text x="422.3" y="664.9" font-size="10.3" text-anchor="end">50</text>
<text x="422.3" y="651.9" font-size="10.3" text-anchor="end">60</text>
<text x="422.3" y="638.9" font-size="10.3" text-anchor="end">70</text>
<text x="422.3" y="625.9" font-size="10.3" text-anchor="end">80</text>
<text x="423" y="618.9" font-size="10.97">PH Calibration: Gain (ADC/DAC)</text>
<text x="621.9" y="632.6" font-size="12" font-weight="bold">Op. Parameters</text>
<text x="621.9" y="647.8" font-size="10.97">VANA:</text>
<text x="713.5" y="647.8" font-size="10.97" xml:space="preserve">176 DAC</text>
<text x="621.9" y="660.82" font-size="10.97">CALDEL:</text>
<text x="713.5" y="660.82" font-size="10.97" xml:space="preserve">104 DAC</text>
<text x="621.9" y="673.84" font-size="10.97">VTHR:</text>
<text x="713.5" y="673.84" font-size="10.97" xml:space="preserve"> 93 DAC</text>
<text x="621.9" y="686.86" font-size="10.97">VTRIM:</text>
<text x="713.5" y="686.86" font-size="10.97" xml:space="preserve">130 DAC</text>
<text x="621.9" y="699.88" font-size="10.97">IBIAS_DAC:</text>
<text x="713.5" y="699.88" font-size="10.97" xml:space="preserve">119 DAC</text>
<text x="621.9" y="712.9" font-size="10.97">VOFFSETOP:</text>
<text x="713.5" y="712.9" font-size="10.97" xml:space="preserve"> 67 DAC</text>
<text x="15.2" y="23.1" font-size="28.95" font-weight="bold">M1118-071105.14:15 T-10a (C11)</text>
<text x="597.4" y="22.5" font-size="13.95" font-weight="bold" xml:space="preserve">Mon Nov  5 21:10:39 2007</text>
</svg>
</body></html>
